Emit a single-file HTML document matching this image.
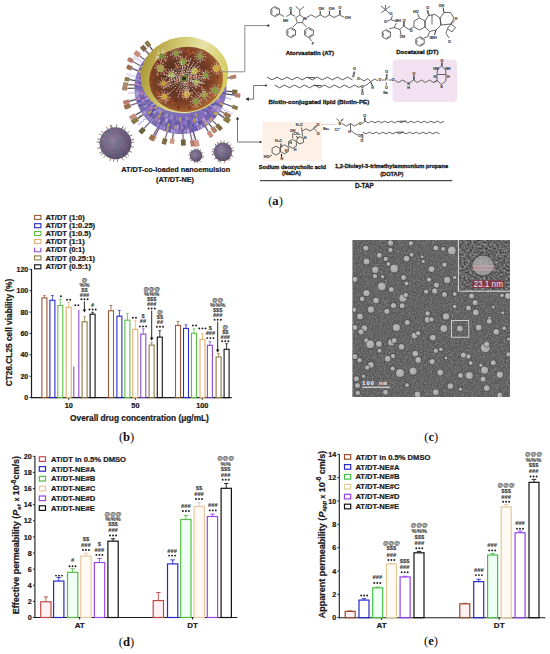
<!DOCTYPE html>
<html><head><meta charset="utf-8"><style>html,body{margin:0;padding:0;background:#fff;width:550px;height:654px;overflow:hidden;font-family:"Liberation Sans",sans-serif}</style></head><body>
<svg width="550" height="654" viewBox="0 0 550 654" style="position:absolute;left:0;top:0">
<rect width="550" height="654" fill="#ffffff"/>
<defs>
<radialGradient id="shellg" cx="0.45" cy="0.55" r="0.6"><stop offset="0" stop-color="#8a7cc0"/><stop offset="0.7" stop-color="#7466b0"/><stop offset="1" stop-color="#9484c8"/></radialGradient>
<radialGradient id="coreg" cx="0.45" cy="0.45" r="0.6"><stop offset="0" stop-color="#3a2c20"/><stop offset="0.35" stop-color="#5a3222"/><stop offset="0.7" stop-color="#7e4226"/><stop offset="1" stop-color="#b87436"/></radialGradient>
<linearGradient id="rimg" x1="0" y1="0.3" x2="1" y2="0.7"><stop offset="0" stop-color="#a89430"/><stop offset="0.35" stop-color="#d2c870"/><stop offset="0.6" stop-color="#e6e2a6"/><stop offset="1" stop-color="#cfc850"/></linearGradient>
<clipPath id="shellclip"><circle cx="180.5" cy="88.0" r="47.0"/></clipPath>
</defs>
<path d="M147.97,117.64 L145.61,117.31 L145.62,119.69 L143.27,119.35 L143.28,121.73 L140.92,121.40 L140.94,123.78 L138.58,123.45 L138.59,125.83" stroke="#a090e0" stroke-width="0.6" fill="none" stroke-linejoin="round" />
<path d="M137.64,78.01 L136.55,75.88 L134.57,77.23 L133.48,75.10 L131.51,76.45 L130.42,74.32 L128.44,75.67 L127.35,73.54 L125.37,74.89" stroke="#b0a0f0" stroke-width="0.6" fill="none" stroke-linejoin="round" />
<path d="M144.75,113.67 L142.35,113.14 L141.99,115.57 L139.59,115.04 L139.23,117.47 L136.83,116.93 L136.47,119.37 L134.07,118.83 L133.71,121.27" stroke="#a090e0" stroke-width="0.6" fill="none" stroke-linejoin="round" />
<path d="M192.90,130.23 L191.60,132.29 L193.76,133.41 L192.46,135.48 L194.63,136.60 L193.33,138.67 L195.50,139.79 L194.19,141.85 L196.36,142.98" stroke="#c0a8e8" stroke-width="0.6" fill="none" stroke-linejoin="round" />
<path d="M160.19,127.04 L157.92,127.43 L158.82,129.55 L156.55,129.94 L157.44,132.06 L155.18,132.45 L156.07,134.57 L153.81,134.96 L154.70,137.08" stroke="#a090e0" stroke-width="0.6" fill="none" stroke-linejoin="round" />
<path d="M137.94,99.18 L136.24,97.74 L135.40,99.79 L133.70,98.35 L132.86,100.41 L131.16,98.96 L130.32,101.02 L128.63,99.57 L127.78,101.63" stroke="#b0a0f0" stroke-width="0.6" fill="none" stroke-linejoin="round" />
<path d="M143.38,64.36 L143.07,61.99 L140.76,62.61 L140.45,60.24 L138.14,60.87 L137.83,58.49 L135.52,59.12 L135.21,56.75 L132.90,57.37" stroke="#b0a0f0" stroke-width="0.6" fill="none" stroke-linejoin="round" />
<path d="M136.81,93.27 L135.58,91.59 L134.71,93.48 L133.48,91.80 L132.61,93.69 L131.39,92.01 L130.52,93.90 L129.29,92.22 L128.42,94.11" stroke="#c0a8e8" stroke-width="0.6" fill="none" stroke-linejoin="round" />
<path d="M223.68,96.50 L224.28,98.47 L225.64,96.93 L226.23,98.90 L227.59,97.35 L228.19,99.33 L229.55,97.78 L230.14,99.75 L231.51,98.21" stroke="#a090e0" stroke-width="0.6" fill="none" stroke-linejoin="round" />
<path d="M217.72,111.48 L217.70,113.62 L219.66,112.76 L219.64,114.90 L221.60,114.04 L221.58,116.18 L223.54,115.32 L223.52,117.46 L225.48,116.59" stroke="#b0a0f0" stroke-width="0.6" fill="none" stroke-linejoin="round" />
<path d="M139.49,72.02 L139.06,69.89 L137.25,71.09 L136.81,68.96 L135.00,70.16 L134.56,68.03 L132.75,69.23 L132.31,67.10 L130.50,68.30" stroke="#b0a0f0" stroke-width="0.6" fill="none" stroke-linejoin="round" />
<path d="M160.98,127.44 L158.69,127.95 L159.59,130.12 L157.29,130.63 L158.19,132.80 L155.90,133.30 L156.80,135.47 L154.51,135.98 L155.41,138.15" stroke="#b0a0f0" stroke-width="0.6" fill="none" stroke-linejoin="round" />
<path d="M220.34,106.71 L221.08,109.08 L223.43,108.24 L224.18,110.62 L226.53,109.77 L227.27,112.15 L229.62,111.30 L230.37,113.68 L232.71,112.83" stroke="#b0a0f0" stroke-width="0.6" fill="none" stroke-linejoin="round" />
<path d="M149.55,56.72 L149.70,54.27 L147.24,54.29 L147.40,51.84 L144.94,51.87 L145.10,49.42 L142.64,49.45 L142.80,47.00 L140.34,47.03" stroke="#9080d8" stroke-width="0.6" fill="none" stroke-linejoin="round" />
<line x1="222.59" y1="79.19" x2="229.83" y2="77.67" stroke="#4a4a6a" stroke-width="1.25" />
<rect x="-3.24" y="-1.92" width="6.48" height="3.84" rx="0.6" fill="#b0806a" transform="translate(233.01,77.00) rotate(-11.8)"/>
<line x1="223.39" y1="91.11" x2="232.08" y2="91.74" stroke="#4a4a6a" stroke-width="1.25" />
<rect x="-2.65" y="-2.29" width="5.29" height="4.58" rx="0.6" fill="#7c6a44" transform="translate(234.72,91.93) rotate(4.1)"/>
<line x1="223.14" y1="93.52" x2="234.94" y2="95.04" stroke="#4a4a6a" stroke-width="1.25" />
<rect x="-2.71" y="-2.10" width="5.41" height="4.20" rx="0.6" fill="#b87a6c" transform="translate(237.63,95.39) rotate(7.4)"/>
<line x1="220.99" y1="102.48" x2="232.20" y2="106.48" stroke="#4a4a6a" stroke-width="1.25" />
<rect x="-2.93" y="-1.96" width="5.87" height="3.93" rx="0.6" fill="#8a7a48" transform="translate(234.96,107.47) rotate(19.7)"/>
<line x1="217.73" y1="109.52" x2="224.43" y2="113.40" stroke="#7a6a80" stroke-width="1.25" />
<rect x="-3.42" y="-1.98" width="6.84" height="3.97" rx="0.6" fill="#9a7050" transform="translate(227.40,115.11) rotate(30.0)"/>
<line x1="215.95" y1="112.34" x2="224.28" y2="118.06" stroke="#4a4a6a" stroke-width="1.25" />
<rect x="-3.19" y="-2.48" width="6.38" height="4.95" rx="0.6" fill="#8a7a48" transform="translate(226.90,119.86) rotate(34.5)"/>
<line x1="210.68" y1="118.63" x2="216.71" y2="124.75" stroke="#7a6a80" stroke-width="1.25" />
<rect x="-3.40" y="-2.18" width="6.80" height="4.36" rx="0.6" fill="#7c6a44" transform="translate(219.09,127.17) rotate(45.4)"/>
<line x1="207.34" y1="121.59" x2="212.06" y2="127.50" stroke="#6a5a50" stroke-width="1.25" />
<rect x="-3.00" y="-2.28" width="6.00" height="4.55" rx="0.6" fill="#b0806a" transform="translate(213.93,129.85) rotate(51.4)"/>
<line x1="203.70" y1="124.21" x2="208.39" y2="131.52" stroke="#4a4a6a" stroke-width="1.25" />
<rect x="-3.28" y="-2.06" width="6.56" height="4.13" rx="0.6" fill="#c88a7c" transform="translate(210.16,134.29) rotate(57.3)"/>
<line x1="192.60" y1="129.26" x2="195.80" y2="140.14" stroke="#5a5060" stroke-width="1.25" />
<rect x="-3.27" y="-2.37" width="6.55" height="4.74" rx="0.6" fill="#d09a88" transform="translate(196.72,143.28) rotate(73.7)"/>
<line x1="189.64" y1="130.02" x2="191.87" y2="140.25" stroke="#7a6a80" stroke-width="1.25" />
<rect x="-3.20" y="-2.12" width="6.41" height="4.24" rx="0.6" fill="#b87a6c" transform="translate(192.55,143.38) rotate(77.7)"/>
<line x1="182.73" y1="130.94" x2="183.16" y2="139.34" stroke="#7a6a80" stroke-width="1.25" />
<rect x="-3.19" y="-2.36" width="6.38" height="4.72" rx="0.6" fill="#6e6440" transform="translate(183.33,142.52) rotate(87.0)"/>
<line x1="173.83" y1="130.48" x2="172.52" y2="138.85" stroke="#6a5a50" stroke-width="1.25" />
<rect x="-2.51" y="-2.25" width="5.02" height="4.50" rx="0.6" fill="#d09a88" transform="translate(172.13,141.33) rotate(98.9)"/>
<line x1="168.17" y1="129.19" x2="165.38" y2="138.52" stroke="#7a6a80" stroke-width="1.25" />
<rect x="-2.96" y="-2.30" width="5.93" height="4.61" rx="0.6" fill="#7c6a44" transform="translate(164.53,141.36) rotate(106.7)"/>
<line x1="160.23" y1="125.92" x2="155.00" y2="135.70" stroke="#7a6a80" stroke-width="1.25" />
<rect x="-2.85" y="-2.06" width="5.69" height="4.13" rx="0.6" fill="#d09a88" transform="translate(153.66,138.20) rotate(118.1)"/>
<line x1="159.04" y1="125.26" x2="153.21" y2="135.39" stroke="#7a6a80" stroke-width="1.25" />
<rect x="-2.67" y="-2.45" width="5.34" height="4.91" rx="0.6" fill="#9a7050" transform="translate(151.87,137.71) rotate(119.9)"/>
<line x1="151.76" y1="119.98" x2="144.18" y2="128.41" stroke="#7a6a80" stroke-width="1.25" />
<rect x="-3.02" y="-2.47" width="6.04" height="4.95" rx="0.6" fill="#6e6440" transform="translate(142.16,130.66) rotate(131.9)"/>
<line x1="145.52" y1="113.01" x2="137.67" y2="118.62" stroke="#6a5a50" stroke-width="1.25" />
<rect x="-3.44" y="-2.40" width="6.87" height="4.80" rx="0.6" fill="#8a7a48" transform="translate(134.87,120.62) rotate(144.4)"/>
<line x1="143.64" y1="110.14" x2="135.59" y2="114.98" stroke="#4a4a6a" stroke-width="1.25" />
<rect x="-3.28" y="-2.00" width="6.56" height="4.01" rx="0.6" fill="#c88a7c" transform="translate(132.78,116.67) rotate(149.0)"/>
<line x1="139.86" y1="102.06" x2="130.51" y2="105.30" stroke="#7a6a80" stroke-width="1.25" />
<rect x="-3.27" y="-2.27" width="6.55" height="4.55" rx="0.6" fill="#9a7050" transform="translate(127.41,106.37) rotate(160.9)"/>
<line x1="138.87" y1="98.77" x2="129.01" y2="101.32" stroke="#6a5a50" stroke-width="1.25" />
<rect x="-2.94" y="-2.00" width="5.88" height="3.99" rx="0.6" fill="#b87a6c" transform="translate(126.16,102.05) rotate(165.5)"/>
<line x1="137.50" y1="88.23" x2="127.25" y2="88.29" stroke="#6a5a50" stroke-width="1.25" />
<rect x="-2.54" y="-2.28" width="5.08" height="4.56" rx="0.6" fill="#a88a6a" transform="translate(124.71,88.30) rotate(179.7)"/>
<line x1="137.59" y1="85.15" x2="128.26" y2="84.53" stroke="#6a5a50" stroke-width="1.25" />
<rect x="-2.63" y="-1.93" width="5.27" height="3.86" rx="0.6" fill="#a88a6a" transform="translate(125.63,84.36) rotate(183.8)"/>
<line x1="138.07" y1="81.03" x2="129.60" y2="79.63" stroke="#4a4a6a" stroke-width="1.25" />
<rect x="-2.54" y="-2.02" width="5.07" height="4.03" rx="0.6" fill="#8a7a48" transform="translate(127.09,79.22) rotate(189.3)"/>
<line x1="140.59" y1="71.98" x2="131.94" y2="68.51" stroke="#5a5060" stroke-width="1.25" />
<rect x="-2.74" y="-2.25" width="5.48" height="4.51" rx="0.6" fill="#9a7050" transform="translate(129.40,67.49) rotate(201.9)"/>
<line x1="142.93" y1="67.08" x2="132.87" y2="61.48" stroke="#7a6a80" stroke-width="1.25" />
<rect x="-2.78" y="-2.14" width="5.56" height="4.29" rx="0.6" fill="#b87a6c" transform="translate(130.44,60.13) rotate(209.1)"/>
<line x1="146.72" y1="61.39" x2="139.61" y2="55.79" stroke="#7a6a80" stroke-width="1.25" />
<rect x="-3.05" y="-2.48" width="6.10" height="4.96" rx="0.6" fill="#c88a7c" transform="translate(137.22,53.90) rotate(218.2)"/>
<line x1="151.24" y1="56.49" x2="145.45" y2="50.26" stroke="#7a6a80" stroke-width="1.25" />
<rect x="-2.79" y="-2.47" width="5.59" height="4.94" rx="0.6" fill="#7c6a44" transform="translate(143.55,48.21) rotate(227.1)"/>
<line x1="154.90" y1="53.45" x2="149.68" y2="46.42" stroke="#4a4a6a" stroke-width="1.25" />
<rect x="-3.06" y="-2.15" width="6.13" height="4.29" rx="0.6" fill="#8a7a48" transform="translate(147.86,43.96) rotate(233.5)"/>
<circle cx="180.50" cy="88.00" r="46.00" fill="url(#shellg)" stroke="none" stroke-width="1" />
<g clip-path="url(#shellclip)">
<line x1="222.35" y1="88.06" x2="226.00" y2="88.07" stroke="#6858a8" stroke-width="1.7" />
<line x1="222.15" y1="90.27" x2="225.93" y2="90.48" stroke="#8a78c0" stroke-width="1.7" />
<line x1="221.85" y1="92.99" x2="225.67" y2="93.45" stroke="#5a50a0" stroke-width="1.7" />
<line x1="221.51" y1="94.82" x2="225.38" y2="95.47" stroke="#a070c0" stroke-width="1.7" />
<line x1="221.48" y1="95.75" x2="225.21" y2="96.46" stroke="#7a7a98" stroke-width="1.7" />
<line x1="221.19" y1="98.60" x2="224.53" y2="99.47" stroke="#8a70b8" stroke-width="1.7" />
<line x1="220.35" y1="101.19" x2="223.69" y2="102.30" stroke="#a070c0" stroke-width="1.7" />
<line x1="219.42" y1="103.27" x2="222.86" y2="104.61" stroke="#c0a848" stroke-width="1.7" />
<line x1="218.75" y1="105.28" x2="221.97" y2="106.73" stroke="#6a6098" stroke-width="1.7" />
<line x1="217.60" y1="106.97" x2="221.01" y2="108.71" stroke="#b0a0d8" stroke-width="1.7" />
<line x1="217.09" y1="108.77" x2="220.07" y2="110.46" stroke="#b0a0d8" stroke-width="1.7" />
<line x1="216.26" y1="110.12" x2="219.19" y2="111.94" stroke="#b0a0d8" stroke-width="1.7" />
<line x1="215.06" y1="112.04" x2="217.85" y2="113.98" stroke="#c0a848" stroke-width="1.7" />
<line x1="213.86" y1="112.82" x2="217.00" y2="115.16" stroke="#c0a848" stroke-width="1.7" />
<line x1="212.98" y1="115.32" x2="215.32" y2="117.28" stroke="#6858a8" stroke-width="1.7" />
<line x1="210.91" y1="117.67" x2="213.07" y2="119.78" stroke="#c880b8" stroke-width="1.7" />
<line x1="209.47" y1="118.63" x2="211.77" y2="121.05" stroke="#c0a848" stroke-width="1.7" />
<line x1="207.60" y1="120.29" x2="209.75" y2="122.86" stroke="#b0a0d8" stroke-width="1.7" />
<line x1="205.44" y1="121.16" x2="207.85" y2="124.36" stroke="#b0a0d8" stroke-width="1.7" />
<line x1="204.57" y1="121.99" x2="206.80" y2="125.13" stroke="#c0a848" stroke-width="1.7" />
<line x1="202.32" y1="123.06" x2="204.54" y2="126.63" stroke="#8a70b8" stroke-width="1.7" />
<line x1="200.68" y1="125.21" x2="202.19" y2="128.00" stroke="#b8a8e0" stroke-width="1.7" />
<line x1="199.61" y1="125.52" x2="201.15" y2="128.55" stroke="#9890c8" stroke-width="1.7" />
<line x1="197.35" y1="126.56" x2="198.72" y2="129.69" stroke="#c880b8" stroke-width="1.7" />
<line x1="195.83" y1="127.11" x2="197.11" y2="130.36" stroke="#5858b0" stroke-width="1.7" />
<line x1="192.59" y1="127.88" x2="193.69" y2="131.54" stroke="#7a68b8" stroke-width="1.7" />
<line x1="191.76" y1="128.18" x2="192.78" y2="131.81" stroke="#5858b0" stroke-width="1.7" />
<line x1="188.13" y1="128.55" x2="188.92" y2="132.72" stroke="#c880b8" stroke-width="1.7" />
<line x1="187.36" y1="129.33" x2="187.94" y2="132.89" stroke="#b8a8e0" stroke-width="1.7" />
<line x1="184.84" y1="129.47" x2="185.23" y2="133.25" stroke="#9890c8" stroke-width="1.7" />
<line x1="181.85" y1="129.57" x2="181.98" y2="133.48" stroke="#6a6098" stroke-width="1.7" />
<line x1="179.81" y1="129.95" x2="179.75" y2="133.49" stroke="#a070c0" stroke-width="1.7" />
<line x1="178.10" y1="129.42" x2="177.86" y2="133.42" stroke="#8a70b8" stroke-width="1.7" />
<line x1="176.65" y1="129.16" x2="176.27" y2="133.30" stroke="#9a88d0" stroke-width="1.7" />
<line x1="174.40" y1="130.05" x2="173.96" y2="133.03" stroke="#b8a8e0" stroke-width="1.7" />
<line x1="172.14" y1="129.26" x2="171.46" y2="132.59" stroke="#b8a8e0" stroke-width="1.7" />
<line x1="170.00" y1="128.73" x2="169.14" y2="132.06" stroke="#6858a8" stroke-width="1.7" />
<line x1="168.04" y1="127.83" x2="166.92" y2="131.43" stroke="#c0a848" stroke-width="1.7" />
<line x1="165.26" y1="126.87" x2="163.89" y2="130.36" stroke="#a070c0" stroke-width="1.7" />
<line x1="164.06" y1="125.96" x2="162.41" y2="129.75" stroke="#9a88d0" stroke-width="1.7" />
<line x1="161.60" y1="125.65" x2="160.08" y2="128.66" stroke="#9a88d0" stroke-width="1.7" />
<line x1="159.90" y1="124.11" x2="157.96" y2="127.52" stroke="#7a68b8" stroke-width="1.7" />
<line x1="158.57" y1="123.70" x2="156.69" y2="126.77" stroke="#9a88d0" stroke-width="1.7" />
<line x1="156.11" y1="121.60" x2="153.77" y2="124.82" stroke="#7a68b8" stroke-width="1.7" />
<line x1="155.10" y1="121.86" x2="153.19" y2="124.40" stroke="#7a7a98" stroke-width="1.7" />
<line x1="153.50" y1="119.08" x2="150.66" y2="122.35" stroke="#9890c8" stroke-width="1.7" />
<line x1="151.71" y1="117.34" x2="148.64" y2="120.48" stroke="#9890c8" stroke-width="1.7" />
<line x1="149.37" y1="116.62" x2="147.00" y2="118.79" stroke="#7a7a98" stroke-width="1.7" />
<line x1="149.45" y1="115.34" x2="146.35" y2="118.07" stroke="#9a88d0" stroke-width="1.7" />
<line x1="146.81" y1="113.81" x2="144.38" y2="115.67" stroke="#9a88d0" stroke-width="1.7" />
<line x1="146.32" y1="111.46" x2="142.99" y2="113.75" stroke="#b0a0d8" stroke-width="1.7" />
<line x1="145.51" y1="110.68" x2="142.32" y2="112.75" stroke="#9890c8" stroke-width="1.7" />
<line x1="144.19" y1="108.35" x2="140.81" y2="110.24" stroke="#7a68b8" stroke-width="1.7" />
<line x1="142.79" y1="106.63" x2="139.70" y2="108.15" stroke="#7a7a98" stroke-width="1.7" />
<line x1="141.91" y1="104.58" x2="138.69" y2="105.96" stroke="#5858b0" stroke-width="1.7" />
<line x1="140.79" y1="102.93" x2="137.91" y2="104.02" stroke="#9890c8" stroke-width="1.7" />
<line x1="140.81" y1="100.81" x2="137.20" y2="101.98" stroke="#5858b0" stroke-width="1.7" />
<line x1="140.59" y1="98.32" x2="136.45" y2="99.39" stroke="#c880b8" stroke-width="1.7" />
<line x1="139.16" y1="96.41" x2="135.91" y2="97.07" stroke="#9a88d0" stroke-width="1.7" />
<line x1="138.83" y1="94.30" x2="135.51" y2="94.80" stroke="#b8a8e0" stroke-width="1.7" />
<line x1="139.61" y1="92.52" x2="135.28" y2="93.00" stroke="#b8a8e0" stroke-width="1.7" />
<line x1="138.60" y1="90.57" x2="135.09" y2="90.79" stroke="#9890c8" stroke-width="1.7" />
<line x1="138.18" y1="88.19" x2="135.00" y2="88.20" stroke="#7a68b8" stroke-width="1.7" />
<line x1="138.19" y1="85.59" x2="135.07" y2="85.41" stroke="#5858b0" stroke-width="1.7" />
<line x1="139.35" y1="84.59" x2="135.16" y2="84.24" stroke="#c880b8" stroke-width="1.7" />
<line x1="138.84" y1="81.46" x2="135.55" y2="80.94" stroke="#8a70b8" stroke-width="1.7" />
<line x1="140.18" y1="79.78" x2="135.92" y2="78.91" stroke="#9a88d0" stroke-width="1.7" />
<line x1="139.53" y1="76.87" x2="136.59" y2="76.07" stroke="#9890c8" stroke-width="1.7" />
<line x1="141.03" y1="75.81" x2="137.02" y2="74.58" stroke="#a070c0" stroke-width="1.7" />
<line x1="141.05" y1="73.06" x2="137.95" y2="71.89" stroke="#9a88d0" stroke-width="1.7" />
<line x1="142.35" y1="72.38" x2="138.39" y2="70.76" stroke="#c0a848" stroke-width="1.7" />
<line x1="142.76" y1="68.88" x2="139.91" y2="67.44" stroke="#7a7a98" stroke-width="1.7" />
<line x1="144.26" y1="68.12" x2="140.61" y2="66.12" stroke="#b0a0d8" stroke-width="1.7" />
<line x1="145.02" y1="66.21" x2="141.73" y2="64.19" stroke="#5a50a0" stroke-width="1.7" />
<line x1="146.34" y1="63.62" x2="143.47" y2="61.57" stroke="#9890c8" stroke-width="1.7" />
<line x1="147.95" y1="62.11" x2="144.89" y2="59.68" stroke="#b8a8e0" stroke-width="1.7" />
<line x1="149.42" y1="61.03" x2="146.13" y2="58.18" stroke="#5a50a0" stroke-width="1.7" />
<line x1="150.32" y1="59.27" x2="147.54" y2="56.63" stroke="#7a7a98" stroke-width="1.7" />
<line x1="151.05" y1="57.71" x2="148.78" y2="55.38" stroke="#9a88d0" stroke-width="1.7" />
<line x1="152.33" y1="56.24" x2="150.31" y2="53.96" stroke="#8a78c0" stroke-width="1.7" />
<line x1="154.50" y1="55.25" x2="152.21" y2="52.36" stroke="#8a70b8" stroke-width="1.7" />
<line x1="156.80" y1="54.01" x2="154.48" y2="50.68" stroke="#7a68b8" stroke-width="1.7" />
<line x1="158.14" y1="52.35" x2="156.32" y2="49.46" stroke="#8a70b8" stroke-width="1.7" />
<line x1="160.34" y1="51.27" x2="158.61" y2="48.11" stroke="#c0a848" stroke-width="1.7" />
<line x1="161.84" y1="50.11" x2="160.40" y2="47.18" stroke="#5858b0" stroke-width="1.7" />
<line x1="163.42" y1="49.66" x2="161.99" y2="46.44" stroke="#a070c0" stroke-width="1.7" />
<line x1="166.55" y1="48.55" x2="165.33" y2="45.10" stroke="#c880b8" stroke-width="1.7" />
<line x1="167.50" y1="47.95" x2="166.45" y2="44.72" stroke="#6858a8" stroke-width="1.7" />
<line x1="170.49" y1="47.67" x2="169.54" y2="43.84" stroke="#7a68b8" stroke-width="1.7" />
<line x1="171.92" y1="46.42" x2="171.31" y2="43.44" stroke="#8a70b8" stroke-width="1.7" />
<line x1="174.55" y1="46.37" x2="174.06" y2="42.96" stroke="#7a68b8" stroke-width="1.7" />
<line x1="176.61" y1="46.63" x2="176.24" y2="42.70" stroke="#c0a848" stroke-width="1.7" />
<line x1="178.95" y1="45.75" x2="178.83" y2="42.53" stroke="#b8a8e0" stroke-width="1.7" />
<line x1="180.78" y1="45.91" x2="180.81" y2="42.50" stroke="#5858b0" stroke-width="1.7" />
<line x1="182.15" y1="46.92" x2="182.33" y2="42.54" stroke="#7a68b8" stroke-width="1.7" />
<line x1="184.29" y1="45.70" x2="184.56" y2="42.68" stroke="#8a78c0" stroke-width="1.7" />
<line x1="187.06" y1="46.89" x2="187.67" y2="43.07" stroke="#8a70b8" stroke-width="1.7" />
<line x1="189.73" y1="47.04" x2="190.50" y2="43.61" stroke="#b0a0d8" stroke-width="1.7" />
<line x1="190.51" y1="47.22" x2="191.35" y2="43.81" stroke="#9a88d0" stroke-width="1.7" />
<line x1="193.29" y1="48.53" x2="194.52" y2="44.72" stroke="#6858a8" stroke-width="1.7" />
<line x1="195.61" y1="48.54" x2="196.77" y2="45.51" stroke="#8a78c0" stroke-width="1.7" />
<line x1="197.57" y1="50.07" x2="199.18" y2="46.51" stroke="#a070c0" stroke-width="1.7" />
<line x1="199.39" y1="50.35" x2="200.91" y2="47.33" stroke="#c0a848" stroke-width="1.7" />
<line x1="199.96" y1="51.45" x2="201.88" y2="47.84" stroke="#a070c0" stroke-width="1.7" />
<line x1="202.48" y1="51.68" x2="204.06" y2="49.07" stroke="#6a6098" stroke-width="1.7" />
<line x1="205.03" y1="54.19" x2="207.22" y2="51.17" stroke="#5a50a0" stroke-width="1.7" />
<line x1="206.47" y1="55.64" x2="208.98" y2="52.51" stroke="#8a78c0" stroke-width="1.7" />
<line x1="208.24" y1="56.71" x2="210.68" y2="53.95" stroke="#8a70b8" stroke-width="1.7" />
<line x1="209.09" y1="57.86" x2="211.81" y2="54.99" stroke="#5858b0" stroke-width="1.7" />
<line x1="210.38" y1="58.56" x2="212.91" y2="56.06" stroke="#7a68b8" stroke-width="1.7" />
<line x1="211.37" y1="60.51" x2="214.48" y2="57.74" stroke="#c0a848" stroke-width="1.7" />
<line x1="213.85" y1="61.77" x2="216.26" y2="59.87" stroke="#7a68b8" stroke-width="1.7" />
<line x1="215.59" y1="64.50" x2="218.31" y2="62.68" stroke="#9890c8" stroke-width="1.7" />
<line x1="216.10" y1="65.83" x2="219.12" y2="63.95" stroke="#c880b8" stroke-width="1.7" />
<line x1="216.31" y1="67.62" x2="220.05" y2="65.50" stroke="#b8a8e0" stroke-width="1.7" />
<line x1="217.68" y1="69.03" x2="221.03" y2="67.32" stroke="#8a70b8" stroke-width="1.7" />
<line x1="219.23" y1="70.76" x2="222.07" y2="69.49" stroke="#9890c8" stroke-width="1.7" />
<line x1="220.16" y1="72.79" x2="222.98" y2="71.71" stroke="#c880b8" stroke-width="1.7" />
<line x1="220.41" y1="75.23" x2="223.84" y2="74.13" stroke="#b8a8e0" stroke-width="1.7" />
<line x1="220.74" y1="77.37" x2="224.49" y2="76.38" stroke="#9890c8" stroke-width="1.7" />
<line x1="220.92" y1="78.87" x2="224.88" y2="77.97" stroke="#9890c8" stroke-width="1.7" />
<line x1="221.35" y1="81.66" x2="225.46" y2="81.02" stroke="#8a78c0" stroke-width="1.7" />
<line x1="222.60" y1="83.81" x2="225.78" y2="83.50" stroke="#c0a848" stroke-width="1.7" />
<line x1="221.83" y1="85.22" x2="225.90" y2="84.95" stroke="#6a6098" stroke-width="1.7" />
<line x1="216.96" y1="99.12" x2="220.00" y2="100.05" stroke="#c880b8" stroke-width="1.7" />
<line x1="216.29" y1="100.64" x2="219.44" y2="101.75" stroke="#9a88d0" stroke-width="1.7" />
<line x1="214.17" y1="103.20" x2="218.14" y2="105.00" stroke="#5858b0" stroke-width="1.7" />
<line x1="214.77" y1="104.90" x2="217.54" y2="106.27" stroke="#9890c8" stroke-width="1.7" />
<line x1="212.99" y1="106.36" x2="216.46" y2="108.32" stroke="#b8a8e0" stroke-width="1.7" />
<line x1="212.26" y1="108.45" x2="215.23" y2="110.35" stroke="#9a88d0" stroke-width="1.7" />
<line x1="210.81" y1="109.61" x2="214.13" y2="111.98" stroke="#a070c0" stroke-width="1.7" />
<line x1="209.13" y1="112.25" x2="212.01" y2="114.69" stroke="#8a70b8" stroke-width="1.7" />
<line x1="207.81" y1="112.94" x2="210.99" y2="115.86" stroke="#6858a8" stroke-width="1.7" />
<line x1="206.54" y1="115.24" x2="209.04" y2="117.85" stroke="#6a6098" stroke-width="1.7" />
<line x1="204.53" y1="116.40" x2="207.18" y2="119.53" stroke="#7a68b8" stroke-width="1.7" />
<line x1="202.92" y1="117.83" x2="205.32" y2="121.01" stroke="#b0a0d8" stroke-width="1.7" />
<line x1="201.90" y1="118.40" x2="204.27" y2="121.77" stroke="#c880b8" stroke-width="1.7" />
<line x1="200.68" y1="120.45" x2="202.31" y2="123.07" stroke="#6858a8" stroke-width="1.7" />
<line x1="198.52" y1="121.00" x2="200.30" y2="124.25" stroke="#5a50a0" stroke-width="1.7" />
<line x1="196.70" y1="122.61" x2="198.01" y2="125.40" stroke="#b8a8e0" stroke-width="1.7" />
<line x1="194.11" y1="123.76" x2="195.19" y2="126.60" stroke="#9a88d0" stroke-width="1.7" />
<line x1="193.03" y1="124.00" x2="194.08" y2="127.00" stroke="#5a50a0" stroke-width="1.7" />
<line x1="190.38" y1="124.63" x2="191.26" y2="127.87" stroke="#7a7a98" stroke-width="1.7" />
<line x1="188.85" y1="124.62" x2="189.68" y2="128.27" stroke="#6858a8" stroke-width="1.7" />
<line x1="186.32" y1="125.39" x2="186.85" y2="128.81" stroke="#7a68b8" stroke-width="1.7" />
<line x1="184.47" y1="125.22" x2="184.88" y2="129.07" stroke="#6858a8" stroke-width="1.7" />
<line x1="181.55" y1="126.15" x2="181.64" y2="129.28" stroke="#c880b8" stroke-width="1.7" />
<line x1="179.61" y1="125.41" x2="179.52" y2="129.29" stroke="#6858a8" stroke-width="1.7" />
<line x1="177.79" y1="124.89" x2="177.47" y2="129.19" stroke="#b8a8e0" stroke-width="1.7" />
<line x1="175.64" y1="125.52" x2="175.19" y2="128.96" stroke="#c0a848" stroke-width="1.7" />
<line x1="172.86" y1="124.87" x2="172.12" y2="128.44" stroke="#a070c0" stroke-width="1.7" />
<line x1="171.76" y1="125.22" x2="171.05" y2="128.21" stroke="#5858b0" stroke-width="1.7" />
<line x1="168.78" y1="123.68" x2="167.61" y2="127.24" stroke="#c0a848" stroke-width="1.7" />
<line x1="167.06" y1="123.71" x2="165.95" y2="126.65" stroke="#6a6098" stroke-width="1.7" />
<line x1="165.06" y1="122.00" x2="163.43" y2="125.61" stroke="#8a78c0" stroke-width="1.7" />
<line x1="162.58" y1="121.80" x2="161.16" y2="124.49" stroke="#7a7a98" stroke-width="1.7" />
<line x1="162.16" y1="120.49" x2="160.20" y2="123.97" stroke="#5a50a0" stroke-width="1.7" />
<line x1="159.80" y1="119.86" x2="158.00" y2="122.63" stroke="#b0a0d8" stroke-width="1.7" />
<line x1="157.59" y1="118.16" x2="155.52" y2="120.89" stroke="#c880b8" stroke-width="1.7" />
<line x1="156.88" y1="116.80" x2="154.31" y2="119.93" stroke="#8a78c0" stroke-width="1.7" />
<line x1="155.34" y1="115.36" x2="152.55" y2="118.40" stroke="#6a6098" stroke-width="1.7" />
<line x1="153.25" y1="113.21" x2="150.19" y2="116.05" stroke="#6a6098" stroke-width="1.7" />
<line x1="152.41" y1="113.00" x2="149.65" y2="115.46" stroke="#5a50a0" stroke-width="1.7" />
<line x1="151.35" y1="111.00" x2="148.08" y2="113.58" stroke="#c0a848" stroke-width="1.7" />
<line x1="149.05" y1="109.63" x2="146.47" y2="111.40" stroke="#a070c0" stroke-width="1.7" />
<line x1="148.85" y1="107.73" x2="145.45" y2="109.85" stroke="#8a70b8" stroke-width="1.7" />
<line x1="147.32" y1="104.79" x2="143.65" y2="106.65" stroke="#b8a8e0" stroke-width="1.7" />
<line x1="146.65" y1="103.78" x2="143.07" y2="105.45" stroke="#6a6098" stroke-width="1.7" />
<line x1="144.94" y1="101.87" x2="142.02" y2="103.01" stroke="#8a78c0" stroke-width="1.7" />
<line x1="144.18" y1="100.12" x2="141.32" y2="101.07" stroke="#c880b8" stroke-width="1.7" />
<line x1="144.30" y1="97.51" x2="140.55" y2="98.49" stroke="#6a6098" stroke-width="1.7" />
<line x1="143.47" y1="95.87" x2="140.10" y2="96.58" stroke="#7a68b8" stroke-width="1.7" />
<line x1="143.31" y1="93.41" x2="139.63" y2="93.94" stroke="#c880b8" stroke-width="1.7" />
<line x1="143.35" y1="91.49" x2="139.38" y2="91.86" stroke="#a070c0" stroke-width="1.7" />
<line x1="143.33" y1="89.44" x2="139.23" y2="89.59" stroke="#7a7a98" stroke-width="1.7" />
<line x1="143.19" y1="86.64" x2="139.23" y2="86.49" stroke="#5858b0" stroke-width="1.7" />
<line x1="142.47" y1="85.79" x2="139.27" y2="85.60" stroke="#a070c0" stroke-width="1.7" />
<line x1="143.33" y1="83.28" x2="139.53" y2="82.80" stroke="#5858b0" stroke-width="1.7" />
<line x1="143.24" y1="80.50" x2="140.01" y2="79.85" stroke="#b0a0d8" stroke-width="1.7" />
<line x1="143.30" y1="79.41" x2="140.26" y2="78.70" stroke="#5a50a0" stroke-width="1.7" />
<line x1="145.11" y1="76.88" x2="141.10" y2="75.62" stroke="#9890c8" stroke-width="1.7" />
<line x1="145.83" y1="75.24" x2="141.74" y2="73.74" stroke="#7a68b8" stroke-width="1.7" />
<line x1="146.19" y1="73.37" x2="142.51" y2="71.80" stroke="#9a88d0" stroke-width="1.7" />
<line x1="146.12" y1="71.40" x2="143.31" y2="70.04" stroke="#b0a0d8" stroke-width="1.7" />
<line x1="148.48" y1="68.79" x2="145.08" y2="66.76" stroke="#6a6098" stroke-width="1.7" />
<line x1="149.54" y1="66.92" x2="146.36" y2="64.76" stroke="#c880b8" stroke-width="1.7" />
<line x1="150.03" y1="66.02" x2="147.01" y2="63.84" stroke="#8a70b8" stroke-width="1.7" />
<line x1="151.03" y1="64.29" x2="148.32" y2="62.11" stroke="#b8a8e0" stroke-width="1.7" />
<line x1="152.89" y1="62.25" x2="150.30" y2="59.83" stroke="#7a68b8" stroke-width="1.7" />
<line x1="154.50" y1="60.60" x2="152.08" y2="58.04" stroke="#b8a8e0" stroke-width="1.7" />
<line x1="156.53" y1="59.76" x2="153.78" y2="56.51" stroke="#8a70b8" stroke-width="1.7" />
<line x1="157.70" y1="57.79" x2="155.62" y2="55.04" stroke="#5a50a0" stroke-width="1.7" />
<line x1="159.01" y1="57.47" x2="156.73" y2="54.23" stroke="#c880b8" stroke-width="1.7" />
<line x1="161.71" y1="56.22" x2="159.48" y2="52.45" stroke="#8a78c0" stroke-width="1.7" />
<line x1="163.29" y1="54.12" x2="161.80" y2="51.18" stroke="#b0a0d8" stroke-width="1.7" />
<line x1="165.43" y1="54.01" x2="163.76" y2="50.25" stroke="#9a88d0" stroke-width="1.7" />
<line x1="167.19" y1="52.34" x2="166.06" y2="49.31" stroke="#5858b0" stroke-width="1.7" />
<line x1="168.51" y1="51.90" x2="167.49" y2="48.80" stroke="#5858b0" stroke-width="1.7" />
<line x1="170.19" y1="51.94" x2="169.15" y2="48.29" stroke="#6a6098" stroke-width="1.7" />
<line x1="173.07" y1="51.21" x2="172.32" y2="47.52" stroke="#a070c0" stroke-width="1.7" />
<line x1="174.79" y1="50.73" x2="174.24" y2="47.18" stroke="#c880b8" stroke-width="1.7" />
<line x1="177.13" y1="50.19" x2="176.84" y2="46.86" stroke="#a070c0" stroke-width="1.7" />
<line x1="178.80" y1="50.59" x2="178.63" y2="46.74" stroke="#5a50a0" stroke-width="1.7" />
<line x1="180.77" y1="49.74" x2="180.79" y2="46.70" stroke="#9a88d0" stroke-width="1.7" />
<line x1="183.03" y1="50.56" x2="183.28" y2="46.79" stroke="#7a7a98" stroke-width="1.7" />
<line x1="185.02" y1="50.24" x2="185.41" y2="46.99" stroke="#7a7a98" stroke-width="1.7" />
<line x1="186.86" y1="51.35" x2="187.56" y2="47.31" stroke="#5a50a0" stroke-width="1.7" />
<line x1="190.07" y1="51.00" x2="190.84" y2="48.02" stroke="#c0a848" stroke-width="1.7" />
<line x1="191.08" y1="51.95" x2="192.13" y2="48.37" stroke="#9a88d0" stroke-width="1.7" />
<line x1="193.18" y1="53.13" x2="194.62" y2="49.19" stroke="#5858b0" stroke-width="1.7" />
<line x1="195.18" y1="54.00" x2="196.87" y2="50.08" stroke="#8a70b8" stroke-width="1.7" />
<line x1="197.52" y1="55.01" x2="199.43" y2="51.29" stroke="#c0a848" stroke-width="1.7" />
<line x1="200.12" y1="55.11" x2="201.66" y2="52.53" stroke="#5858b0" stroke-width="1.7" />
<line x1="200.99" y1="55.80" x2="202.67" y2="53.16" stroke="#6858a8" stroke-width="1.7" />
<line x1="202.48" y1="57.94" x2="204.88" y2="54.66" stroke="#7a7a98" stroke-width="1.7" />
<line x1="204.60" y1="59.57" x2="207.20" y2="56.49" stroke="#6a6098" stroke-width="1.7" />
<line x1="206.70" y1="60.41" x2="208.94" y2="58.05" stroke="#8a70b8" stroke-width="1.7" />
<line x1="207.57" y1="62.84" x2="210.75" y2="59.88" stroke="#5858b0" stroke-width="1.7" />
<line x1="208.98" y1="64.25" x2="212.22" y2="61.55" stroke="#5a50a0" stroke-width="1.7" />
<line x1="210.46" y1="64.28" x2="212.88" y2="62.37" stroke="#8a78c0" stroke-width="1.7" />
<line x1="211.81" y1="66.37" x2="214.48" y2="64.52" stroke="#8a70b8" stroke-width="1.7" />
<line x1="212.57" y1="69.03" x2="216.04" y2="66.97" stroke="#9a88d0" stroke-width="1.7" />
<line x1="213.03" y1="70.41" x2="216.83" y2="68.36" stroke="#c0a848" stroke-width="1.7" />
<line x1="215.10" y1="71.95" x2="217.97" y2="70.62" stroke="#7a7a98" stroke-width="1.7" />
<line x1="216.24" y1="74.76" x2="219.23" y2="73.66" stroke="#7a68b8" stroke-width="1.7" />
<line x1="215.61" y1="76.47" x2="219.74" y2="75.12" stroke="#9890c8" stroke-width="1.7" />
<line x1="216.31" y1="77.78" x2="220.21" y2="76.66" stroke="#9890c8" stroke-width="1.7" />
<line x1="218.04" y1="80.53" x2="221.01" y2="79.94" stroke="#b8a8e0" stroke-width="1.7" />
<line x1="217.88" y1="82.36" x2="221.34" y2="81.84" stroke="#9890c8" stroke-width="1.7" />
<line x1="218.11" y1="84.04" x2="221.57" y2="83.68" stroke="#6858a8" stroke-width="1.7" />
<line x1="218.06" y1="86.31" x2="221.76" y2="86.14" stroke="#9890c8" stroke-width="1.7" />
<line x1="218.66" y1="89.15" x2="221.78" y2="89.24" stroke="#9a88d0" stroke-width="1.7" />
<line x1="218.24" y1="90.55" x2="221.71" y2="90.78" stroke="#6a6098" stroke-width="1.7" />
<line x1="217.95" y1="92.30" x2="221.53" y2="92.71" stroke="#8a78c0" stroke-width="1.7" />
<line x1="217.82" y1="94.97" x2="221.10" y2="95.58" stroke="#5858b0" stroke-width="1.7" />
<line x1="217.39" y1="97.52" x2="220.49" y2="98.33" stroke="#9a88d0" stroke-width="1.7" />
<line x1="208.10" y1="106.97" x2="211.08" y2="109.01" stroke="#6858a8" stroke-width="1.7" />
<line x1="206.93" y1="108.68" x2="209.72" y2="110.86" stroke="#8a70b8" stroke-width="1.7" />
<line x1="205.79" y1="109.92" x2="208.53" y2="112.30" stroke="#6858a8" stroke-width="1.7" />
<line x1="204.28" y1="112.43" x2="206.37" y2="114.59" stroke="#b8a8e0" stroke-width="1.7" />
<line x1="202.64" y1="112.43" x2="205.42" y2="115.49" stroke="#7a68b8" stroke-width="1.7" />
<line x1="201.27" y1="114.23" x2="203.53" y2="117.09" stroke="#a070c0" stroke-width="1.7" />
<line x1="199.21" y1="116.38" x2="200.92" y2="118.98" stroke="#8a78c0" stroke-width="1.7" />
<line x1="197.67" y1="116.15" x2="199.81" y2="119.68" stroke="#7a68b8" stroke-width="1.7" />
<line x1="196.02" y1="118.23" x2="197.44" y2="121.01" stroke="#b0a0d8" stroke-width="1.7" />
<line x1="193.53" y1="118.24" x2="195.19" y2="122.07" stroke="#c0a848" stroke-width="1.7" />
<line x1="192.12" y1="119.98" x2="193.17" y2="122.87" stroke="#a070c0" stroke-width="1.7" />
<line x1="189.59" y1="120.14" x2="190.60" y2="123.70" stroke="#6a6098" stroke-width="1.7" />
<line x1="187.68" y1="120.04" x2="188.62" y2="124.20" stroke="#5858b0" stroke-width="1.7" />
<line x1="185.71" y1="120.87" x2="186.31" y2="124.64" stroke="#8a78c0" stroke-width="1.7" />
<line x1="184.42" y1="120.79" x2="184.90" y2="124.84" stroke="#a070c0" stroke-width="1.7" />
<line x1="181.33" y1="120.94" x2="181.43" y2="125.09" stroke="#a070c0" stroke-width="1.7" />
<line x1="179.12" y1="121.54" x2="178.97" y2="125.07" stroke="#6a6098" stroke-width="1.7" />
<line x1="177.32" y1="120.70" x2="176.91" y2="124.93" stroke="#6858a8" stroke-width="1.7" />
<line x1="175.74" y1="121.50" x2="175.28" y2="124.73" stroke="#6a6098" stroke-width="1.7" />
<line x1="173.04" y1="119.85" x2="172.04" y2="124.12" stroke="#8a78c0" stroke-width="1.7" />
<line x1="171.50" y1="120.62" x2="170.63" y2="123.76" stroke="#6858a8" stroke-width="1.7" />
<line x1="169.44" y1="119.83" x2="168.32" y2="123.04" stroke="#5858b0" stroke-width="1.7" />
<line x1="167.54" y1="118.38" x2="165.94" y2="122.13" stroke="#b8a8e0" stroke-width="1.7" />
<line x1="165.46" y1="118.49" x2="164.08" y2="121.27" stroke="#a070c0" stroke-width="1.7" />
<line x1="164.32" y1="117.36" x2="162.59" y2="120.49" stroke="#6858a8" stroke-width="1.7" />
<line x1="162.05" y1="116.64" x2="160.41" y2="119.19" stroke="#6a6098" stroke-width="1.7" />
<line x1="160.23" y1="114.87" x2="158.15" y2="117.62" stroke="#c0a848" stroke-width="1.7" />
<line x1="158.89" y1="113.95" x2="156.76" y2="116.51" stroke="#8a70b8" stroke-width="1.7" />
<line x1="157.47" y1="111.96" x2="154.79" y2="114.75" stroke="#7a68b8" stroke-width="1.7" />
<line x1="155.99" y1="110.84" x2="153.36" y2="113.29" stroke="#b0a0d8" stroke-width="1.7" />
<line x1="154.91" y1="109.12" x2="151.89" y2="111.62" stroke="#5a50a0" stroke-width="1.7" />
<line x1="152.57" y1="107.19" x2="149.92" y2="109.01" stroke="#c880b8" stroke-width="1.7" />
<line x1="152.24" y1="104.75" x2="148.58" y2="106.92" stroke="#c880b8" stroke-width="1.7" />
<line x1="150.79" y1="104.42" x2="148.03" y2="105.95" stroke="#5858b0" stroke-width="1.7" />
<line x1="149.90" y1="102.05" x2="146.78" y2="103.48" stroke="#8a70b8" stroke-width="1.7" />
<line x1="149.41" y1="99.89" x2="145.85" y2="101.25" stroke="#6a6098" stroke-width="1.7" />
<line x1="148.81" y1="98.24" x2="145.20" y2="99.40" stroke="#b0a0d8" stroke-width="1.7" />
<line x1="147.56" y1="96.73" x2="144.64" y2="97.51" stroke="#a070c0" stroke-width="1.7" />
<line x1="147.69" y1="94.39" x2="144.08" y2="95.09" stroke="#9890c8" stroke-width="1.7" />
<line x1="146.72" y1="92.53" x2="143.73" y2="92.93" stroke="#8a78c0" stroke-width="1.7" />
<line x1="147.16" y1="89.88" x2="143.46" y2="90.09" stroke="#7a7a98" stroke-width="1.7" />
<line x1="146.83" y1="88.05" x2="143.40" y2="88.06" stroke="#b8a8e0" stroke-width="1.7" />
<line x1="146.54" y1="85.58" x2="143.49" y2="85.36" stroke="#a070c0" stroke-width="1.7" />
<line x1="147.85" y1="83.11" x2="143.81" y2="82.50" stroke="#c880b8" stroke-width="1.7" />
<line x1="147.62" y1="81.76" x2="144.05" y2="81.08" stroke="#5858b0" stroke-width="1.7" />
<line x1="148.63" y1="80.11" x2="144.49" y2="79.08" stroke="#7a7a98" stroke-width="1.7" />
<line x1="149.09" y1="77.55" x2="145.30" y2="76.29" stroke="#8a70b8" stroke-width="1.7" />
<line x1="149.42" y1="75.37" x2="146.13" y2="74.03" stroke="#a070c0" stroke-width="1.7" />
<line x1="149.81" y1="73.68" x2="146.88" y2="72.31" stroke="#8a70b8" stroke-width="1.7" />
<line x1="151.59" y1="71.68" x2="148.19" y2="69.76" stroke="#7a68b8" stroke-width="1.7" />
<line x1="152.57" y1="69.76" x2="149.43" y2="67.72" stroke="#a070c0" stroke-width="1.7" />
<line x1="153.24" y1="68.74" x2="150.20" y2="66.59" stroke="#6a6098" stroke-width="1.7" />
<line x1="155.21" y1="66.90" x2="152.01" y2="64.23" stroke="#6858a8" stroke-width="1.7" />
<line x1="155.70" y1="64.72" x2="153.45" y2="62.61" stroke="#7a68b8" stroke-width="1.7" />
<line x1="157.44" y1="63.27" x2="155.20" y2="60.87" stroke="#c0a848" stroke-width="1.7" />
<line x1="158.97" y1="62.91" x2="156.34" y2="59.84" stroke="#9a88d0" stroke-width="1.7" />
<line x1="160.39" y1="60.71" x2="158.49" y2="58.13" stroke="#5a50a0" stroke-width="1.7" />
<line x1="162.14" y1="59.72" x2="160.30" y2="56.88" stroke="#b8a8e0" stroke-width="1.7" />
<line x1="163.69" y1="58.53" x2="162.12" y2="55.78" stroke="#b0a0d8" stroke-width="1.7" />
<line x1="166.68" y1="57.78" x2="165.07" y2="54.26" stroke="#a070c0" stroke-width="1.7" />
<line x1="167.86" y1="57.52" x2="166.29" y2="53.73" stroke="#9890c8" stroke-width="1.7" />
<line x1="169.94" y1="56.87" x2="168.58" y2="52.87" stroke="#c0a848" stroke-width="1.7" />
<line x1="172.71" y1="56.01" x2="171.73" y2="51.95" stroke="#7a7a98" stroke-width="1.7" />
<line x1="173.48" y1="54.70" x2="172.85" y2="51.70" stroke="#9890c8" stroke-width="1.7" />
<line x1="175.87" y1="54.39" x2="175.44" y2="51.25" stroke="#c0a848" stroke-width="1.7" />
<line x1="177.64" y1="55.18" x2="177.28" y2="51.04" stroke="#c0a848" stroke-width="1.7" />
<line x1="180.51" y1="54.81" x2="180.52" y2="50.90" stroke="#7a68b8" stroke-width="1.7" />
<line x1="182.51" y1="54.12" x2="182.70" y2="50.97" stroke="#9890c8" stroke-width="1.7" />
<line x1="184.48" y1="54.76" x2="184.91" y2="51.16" stroke="#7a7a98" stroke-width="1.7" />
<line x1="186.01" y1="55.70" x2="186.74" y2="51.43" stroke="#9a88d0" stroke-width="1.7" />
<line x1="188.70" y1="55.94" x2="189.70" y2="52.06" stroke="#7a7a98" stroke-width="1.7" />
<line x1="190.17" y1="55.40" x2="191.05" y2="52.43" stroke="#c0a848" stroke-width="1.7" />
<line x1="192.22" y1="56.76" x2="193.53" y2="53.26" stroke="#c880b8" stroke-width="1.7" />
<line x1="194.91" y1="57.20" x2="196.23" y2="54.40" stroke="#5858b0" stroke-width="1.7" />
<line x1="196.62" y1="58.38" x2="198.23" y2="55.41" stroke="#a070c0" stroke-width="1.7" />
<line x1="198.52" y1="59.48" x2="200.32" y2="56.64" stroke="#b0a0d8" stroke-width="1.7" />
<line x1="199.26" y1="61.01" x2="201.68" y2="57.54" stroke="#5a50a0" stroke-width="1.7" />
<line x1="201.11" y1="62.43" x2="203.78" y2="59.11" stroke="#c0a848" stroke-width="1.7" />
<line x1="202.76" y1="63.39" x2="205.38" y2="60.48" stroke="#b0a0d8" stroke-width="1.7" />
<line x1="204.23" y1="64.71" x2="206.98" y2="62.01" stroke="#c0a848" stroke-width="1.7" />
<line x1="205.70" y1="65.77" x2="208.32" y2="63.46" stroke="#9a88d0" stroke-width="1.7" />
<line x1="207.39" y1="68.04" x2="210.29" y2="65.89" stroke="#c880b8" stroke-width="1.7" />
<line x1="208.89" y1="69.56" x2="211.61" y2="67.79" stroke="#6858a8" stroke-width="1.7" />
<line x1="210.17" y1="71.67" x2="213.00" y2="70.11" stroke="#c880b8" stroke-width="1.7" />
<line x1="210.34" y1="73.23" x2="213.75" y2="71.54" stroke="#8a70b8" stroke-width="1.7" />
<line x1="211.15" y1="74.51" x2="214.46" y2="73.05" stroke="#7a7a98" stroke-width="1.7" />
<line x1="212.01" y1="77.09" x2="215.56" y2="75.86" stroke="#8a70b8" stroke-width="1.7" />
<line x1="212.93" y1="78.60" x2="216.13" y2="77.67" stroke="#6858a8" stroke-width="1.7" />
<line x1="212.76" y1="81.06" x2="216.77" y2="80.20" stroke="#6a6098" stroke-width="1.7" />
<line x1="213.34" y1="82.90" x2="217.16" y2="82.31" stroke="#8a78c0" stroke-width="1.7" />
<line x1="213.95" y1="84.85" x2="217.44" y2="84.52" stroke="#8a70b8" stroke-width="1.7" />
<line x1="213.91" y1="87.28" x2="217.59" y2="87.20" stroke="#9890c8" stroke-width="1.7" />
<line x1="213.23" y1="89.50" x2="217.56" y2="89.70" stroke="#9a88d0" stroke-width="1.7" />
<line x1="214.24" y1="91.72" x2="217.38" y2="92.07" stroke="#9a88d0" stroke-width="1.7" />
<line x1="213.35" y1="92.92" x2="217.19" y2="93.49" stroke="#6a6098" stroke-width="1.7" />
<line x1="213.40" y1="95.95" x2="216.56" y2="96.71" stroke="#b8a8e0" stroke-width="1.7" />
<line x1="212.48" y1="98.17" x2="215.86" y2="99.24" stroke="#5858b0" stroke-width="1.7" />
<line x1="211.59" y1="99.16" x2="215.42" y2="100.53" stroke="#9a88d0" stroke-width="1.7" />
<line x1="211.35" y1="101.40" x2="214.53" y2="102.78" stroke="#9a88d0" stroke-width="1.7" />
<line x1="210.57" y1="103.20" x2="213.61" y2="104.74" stroke="#5a50a0" stroke-width="1.7" />
<line x1="208.80" y1="104.74" x2="212.43" y2="106.89" stroke="#9a88d0" stroke-width="1.7" />
<line x1="199.43" y1="111.02" x2="201.40" y2="113.41" stroke="#7a68b8" stroke-width="1.7" />
<line x1="196.34" y1="112.05" x2="198.60" y2="115.48" stroke="#8a70b8" stroke-width="1.7" />
<line x1="194.85" y1="113.58" x2="196.60" y2="116.69" stroke="#c0a848" stroke-width="1.7" />
<line x1="193.70" y1="114.48" x2="195.18" y2="117.45" stroke="#7a68b8" stroke-width="1.7" />
<line x1="191.06" y1="115.16" x2="192.42" y2="118.66" stroke="#5858b0" stroke-width="1.7" />
<line x1="190.05" y1="115.58" x2="191.27" y2="119.09" stroke="#8a70b8" stroke-width="1.7" />
<line x1="187.95" y1="116.85" x2="188.73" y2="119.85" stroke="#a070c0" stroke-width="1.7" />
<line x1="186.01" y1="116.29" x2="186.79" y2="120.29" stroke="#9a88d0" stroke-width="1.7" />
<line x1="183.51" y1="117.61" x2="183.83" y2="120.73" stroke="#5858b0" stroke-width="1.7" />
<line x1="180.96" y1="117.14" x2="181.02" y2="120.90" stroke="#a070c0" stroke-width="1.7" />
<line x1="179.92" y1="117.47" x2="179.85" y2="120.89" stroke="#c0a848" stroke-width="1.7" />
<line x1="176.86" y1="117.07" x2="176.41" y2="120.64" stroke="#8a78c0" stroke-width="1.7" />
<line x1="175.07" y1="116.00" x2="174.23" y2="120.30" stroke="#6858a8" stroke-width="1.7" />
<line x1="173.54" y1="116.17" x2="172.61" y2="119.94" stroke="#8a70b8" stroke-width="1.7" />
<line x1="171.89" y1="115.34" x2="170.61" y2="119.38" stroke="#9890c8" stroke-width="1.7" />
<line x1="169.23" y1="115.48" x2="168.01" y2="118.44" stroke="#7a68b8" stroke-width="1.7" />
<line x1="167.29" y1="113.82" x2="165.51" y2="117.29" stroke="#b0a0d8" stroke-width="1.7" />
<line x1="166.11" y1="112.73" x2="163.95" y2="116.43" stroke="#7a7a98" stroke-width="1.7" />
<line x1="163.69" y1="112.29" x2="161.78" y2="115.05" stroke="#6858a8" stroke-width="1.7" />
<line x1="161.92" y1="110.96" x2="159.80" y2="113.58" stroke="#c0a848" stroke-width="1.7" />
<line x1="161.07" y1="109.40" x2="158.38" y2="112.36" stroke="#9a88d0" stroke-width="1.7" />
<line x1="159.31" y1="108.69" x2="156.97" y2="110.99" stroke="#9890c8" stroke-width="1.7" />
<line x1="157.92" y1="105.91" x2="154.72" y2="108.44" stroke="#c0a848" stroke-width="1.7" />
<line x1="155.94" y1="104.73" x2="153.31" y2="106.52" stroke="#6858a8" stroke-width="1.7" />
<line x1="155.74" y1="102.89" x2="152.31" y2="104.96" stroke="#b0a0d8" stroke-width="1.7" />
<line x1="154.94" y1="101.05" x2="151.20" y2="102.95" stroke="#6858a8" stroke-width="1.7" />
<line x1="153.51" y1="99.22" x2="150.12" y2="100.63" stroke="#b0a0d8" stroke-width="1.7" />
<line x1="152.57" y1="97.64" x2="149.40" y2="98.73" stroke="#5a50a0" stroke-width="1.7" />
<line x1="152.32" y1="95.41" x2="148.68" y2="96.36" stroke="#c880b8" stroke-width="1.7" />
<line x1="152.30" y1="93.99" x2="148.32" y2="94.84" stroke="#5a50a0" stroke-width="1.7" />
<line x1="151.49" y1="91.51" x2="147.84" y2="91.96" stroke="#6a6098" stroke-width="1.7" />
<line x1="151.86" y1="89.53" x2="147.65" y2="89.76" stroke="#8a70b8" stroke-width="1.7" />
<line x1="151.45" y1="87.37" x2="147.61" y2="87.29" stroke="#7a68b8" stroke-width="1.7" />
<line x1="150.94" y1="84.94" x2="147.78" y2="84.61" stroke="#a070c0" stroke-width="1.7" />
<line x1="151.45" y1="83.59" x2="147.97" y2="83.07" stroke="#b8a8e0" stroke-width="1.7" />
<line x1="152.18" y1="81.83" x2="148.35" y2="81.00" stroke="#b8a8e0" stroke-width="1.7" />
<line x1="152.14" y1="78.67" x2="149.25" y2="77.71" stroke="#c0a848" stroke-width="1.7" />
<line x1="153.23" y1="76.85" x2="150.05" y2="75.54" stroke="#6a6098" stroke-width="1.7" />
<line x1="153.78" y1="75.49" x2="150.70" y2="74.05" stroke="#6a6098" stroke-width="1.7" />
<line x1="155.45" y1="73.48" x2="152.03" y2="71.50" stroke="#5a50a0" stroke-width="1.7" />
<line x1="156.41" y1="71.56" x2="153.33" y2="69.45" stroke="#5a50a0" stroke-width="1.7" />
<line x1="157.58" y1="70.16" x2="154.54" y2="67.79" stroke="#b8a8e0" stroke-width="1.7" />
<line x1="158.33" y1="69.17" x2="155.42" y2="66.70" stroke="#5858b0" stroke-width="1.7" />
<line x1="159.91" y1="67.87" x2="156.98" y2="65.00" stroke="#b8a8e0" stroke-width="1.7" />
<line x1="161.41" y1="65.67" x2="159.12" y2="63.00" stroke="#8a78c0" stroke-width="1.7" />
<line x1="163.18" y1="64.45" x2="161.01" y2="61.50" stroke="#9a88d0" stroke-width="1.7" />
<line x1="164.86" y1="62.80" x2="163.15" y2="60.05" stroke="#6858a8" stroke-width="1.7" />
<line x1="166.84" y1="61.78" x2="165.30" y2="58.82" stroke="#6a6098" stroke-width="1.7" />
<line x1="168.16" y1="60.92" x2="166.85" y2="58.06" stroke="#a070c0" stroke-width="1.7" />
<line x1="170.43" y1="60.19" x2="169.30" y2="57.06" stroke="#b0a0d8" stroke-width="1.7" />
<line x1="172.72" y1="59.43" x2="171.86" y2="56.25" stroke="#8a78c0" stroke-width="1.7" />
<line x1="174.52" y1="59.77" x2="173.68" y2="55.81" stroke="#c880b8" stroke-width="1.7" />
<line x1="176.26" y1="59.23" x2="175.70" y2="55.45" stroke="#8a78c0" stroke-width="1.7" />
<line x1="178.70" y1="58.68" x2="178.48" y2="55.16" stroke="#7a7a98" stroke-width="1.7" />
<line x1="180.56" y1="59.23" x2="180.56" y2="55.10" stroke="#b8a8e0" stroke-width="1.7" />
<line x1="182.82" y1="58.28" x2="183.06" y2="55.20" stroke="#b0a0d8" stroke-width="1.7" />
<line x1="184.74" y1="58.41" x2="185.17" y2="55.43" stroke="#a070c0" stroke-width="1.7" />
<line x1="186.26" y1="58.68" x2="186.84" y2="55.72" stroke="#b8a8e0" stroke-width="1.7" />
<line x1="188.41" y1="59.41" x2="189.27" y2="56.29" stroke="#8a70b8" stroke-width="1.7" />
<line x1="190.38" y1="60.97" x2="191.79" y2="57.10" stroke="#c0a848" stroke-width="1.7" />
<line x1="192.51" y1="60.73" x2="193.77" y2="57.89" stroke="#b8a8e0" stroke-width="1.7" />
<line x1="194.47" y1="62.78" x2="196.44" y2="59.22" stroke="#7a7a98" stroke-width="1.7" />
<line x1="196.00" y1="63.45" x2="198.07" y2="60.18" stroke="#7a7a98" stroke-width="1.7" />
<line x1="197.73" y1="65.04" x2="200.25" y2="61.69" stroke="#7a7a98" stroke-width="1.7" />
<line x1="199.04" y1="65.72" x2="201.54" y2="62.71" stroke="#c0a848" stroke-width="1.7" />
<line x1="201.66" y1="67.28" x2="204.01" y2="64.98" stroke="#9a88d0" stroke-width="1.7" />
<line x1="202.85" y1="68.56" x2="205.32" y2="66.41" stroke="#c880b8" stroke-width="1.7" />
<line x1="204.05" y1="69.78" x2="206.52" y2="67.87" stroke="#8a78c0" stroke-width="1.7" />
<line x1="205.36" y1="71.47" x2="207.90" y2="69.79" stroke="#7a68b8" stroke-width="1.7" />
<line x1="205.56" y1="73.65" x2="209.05" y2="71.65" stroke="#a070c0" stroke-width="1.7" />
<line x1="206.50" y1="75.58" x2="210.19" y2="73.82" stroke="#9a88d0" stroke-width="1.7" />
<line x1="207.63" y1="77.94" x2="211.35" y2="76.56" stroke="#8a78c0" stroke-width="1.7" />
<line x1="207.73" y1="79.13" x2="211.78" y2="77.81" stroke="#6858a8" stroke-width="1.7" />
<line x1="209.55" y1="81.10" x2="212.51" y2="80.40" stroke="#c0a848" stroke-width="1.7" />
<line x1="209.75" y1="83.34" x2="212.99" y2="82.82" stroke="#9890c8" stroke-width="1.7" />
<line x1="209.36" y1="85.86" x2="213.31" y2="85.57" stroke="#b8a8e0" stroke-width="1.7" />
<line x1="210.06" y1="86.99" x2="213.38" y2="86.88" stroke="#a070c0" stroke-width="1.7" />
<line x1="209.76" y1="89.89" x2="213.33" y2="90.12" stroke="#5858b0" stroke-width="1.7" />
<line x1="209.33" y1="92.05" x2="213.08" y2="92.57" stroke="#6a6098" stroke-width="1.7" />
<line x1="209.18" y1="93.89" x2="212.73" y2="94.62" stroke="#8a78c0" stroke-width="1.7" />
<line x1="208.66" y1="95.27" x2="212.35" y2="96.23" stroke="#9890c8" stroke-width="1.7" />
<line x1="207.65" y1="97.68" x2="211.49" y2="99.05" stroke="#8a78c0" stroke-width="1.7" />
<line x1="206.58" y1="99.60" x2="210.56" y2="101.38" stroke="#6858a8" stroke-width="1.7" />
<line x1="207.03" y1="101.51" x2="209.82" y2="102.93" stroke="#7a7a98" stroke-width="1.7" />
<line x1="205.10" y1="102.89" x2="208.65" y2="105.04" stroke="#5858b0" stroke-width="1.7" />
<line x1="205.01" y1="105.10" x2="207.48" y2="106.82" stroke="#6858a8" stroke-width="1.7" />
<line x1="202.42" y1="106.33" x2="205.74" y2="109.10" stroke="#9890c8" stroke-width="1.7" />
<line x1="202.03" y1="107.62" x2="204.82" y2="110.16" stroke="#6a6098" stroke-width="1.7" />
<line x1="200.09" y1="109.98" x2="202.39" y2="112.56" stroke="#8a70b8" stroke-width="1.7" />
</g>
<g transform="translate(184.5,75.0) rotate(-8)">
<ellipse cx="0" cy="0" rx="44" ry="38" fill="url(#rimg)"/>
<ellipse cx="1.0" cy="4.5" rx="37" ry="32.5" fill="url(#coreg)"/>
</g>
<rect x="168.03" y="80.46" width="2.4" height="2.4" fill="#a04a28" opacity="0.9" transform="rotate(17,169.23,81.66)"/>
<rect x="176.51" y="65.84" width="2.4" height="2.4" fill="#b05a30" opacity="0.9" transform="rotate(81,177.71,67.04)"/>
<rect x="200.71" y="86.32" width="2.4" height="2.4" fill="#9a4030" opacity="0.9" transform="rotate(63,201.91,87.52)"/>
<rect x="181.55" y="69.07" width="2.4" height="2.4" fill="#b05a30" opacity="0.9" transform="rotate(86,182.75,70.27)"/>
<rect x="174.71" y="81.17" width="2.4" height="2.4" fill="#8a3a20" opacity="0.9" transform="rotate(10,175.91,82.37)"/>
<rect x="151.46" y="76.18" width="2.4" height="2.4" fill="#9a4030" opacity="0.9" transform="rotate(6,152.66,77.38)"/>
<rect x="172.46" y="54.33" width="2.4" height="2.4" fill="#8a3a20" opacity="0.9" transform="rotate(83,173.66,55.53)"/>
<rect x="185.81" y="86.68" width="2.4" height="2.4" fill="#b05a30" opacity="0.9" transform="rotate(80,187.01,87.88)"/>
<rect x="187.18" y="49.54" width="2.4" height="2.4" fill="#b05a30" opacity="0.9" transform="rotate(25,188.38,50.74)"/>
<rect x="186.48" y="68.82" width="2.4" height="2.4" fill="#8a3a20" opacity="0.9" transform="rotate(79,187.68,70.02)"/>
<rect x="197.24" y="81.98" width="2.4" height="2.4" fill="#b05a30" opacity="0.9" transform="rotate(13,198.44,83.18)"/>
<rect x="184.95" y="100.60" width="2.4" height="2.4" fill="#8a3a20" opacity="0.9" transform="rotate(87,186.15,101.80)"/>
<rect x="209.46" y="77.89" width="2.4" height="2.4" fill="#a04a28" opacity="0.9" transform="rotate(81,210.66,79.09)"/>
<rect x="184.09" y="81.15" width="2.4" height="2.4" fill="#8a3a20" opacity="0.9" transform="rotate(12,185.29,82.35)"/>
<rect x="199.25" y="68.83" width="2.4" height="2.4" fill="#9a4030" opacity="0.9" transform="rotate(45,200.45,70.03)"/>
<rect x="197.35" y="70.16" width="2.4" height="2.4" fill="#b05a30" opacity="0.9" transform="rotate(17,198.55,71.36)"/>
<rect x="185.12" y="54.96" width="2.4" height="2.4" fill="#a04a28" opacity="0.9" transform="rotate(16,186.32,56.16)"/>
<rect x="157.71" y="58.79" width="2.4" height="2.4" fill="#8a3a20" opacity="0.9" transform="rotate(24,158.91,59.99)"/>
<rect x="170.89" y="53.13" width="2.4" height="2.4" fill="#6a2a18" opacity="0.9" transform="rotate(24,172.09,54.33)"/>
<rect x="216.32" y="76.32" width="2.4" height="2.4" fill="#8a3a20" opacity="0.9" transform="rotate(78,217.52,77.52)"/>
<rect x="157.58" y="93.36" width="2.4" height="2.4" fill="#a04a28" opacity="0.9" transform="rotate(55,158.78,94.56)"/>
<rect x="197.22" y="80.91" width="2.4" height="2.4" fill="#6a2a18" opacity="0.9" transform="rotate(47,198.42,82.11)"/>
<rect x="160.40" y="68.50" width="2.4" height="2.4" fill="#7a3018" opacity="0.9" transform="rotate(10,161.60,69.70)"/>
<rect x="193.81" y="68.15" width="2.4" height="2.4" fill="#a04a28" opacity="0.9" transform="rotate(36,195.01,69.35)"/>
<rect x="203.81" y="75.63" width="2.4" height="2.4" fill="#8a3a20" opacity="0.9" transform="rotate(34,205.01,76.83)"/>
<rect x="179.51" y="74.91" width="2.4" height="2.4" fill="#8a3a20" opacity="0.9" transform="rotate(19,180.71,76.11)"/>
<rect x="169.90" y="81.59" width="2.4" height="2.4" fill="#8a3a20" opacity="0.9" transform="rotate(28,171.10,82.79)"/>
<rect x="178.58" y="94.45" width="2.4" height="2.4" fill="#8a3a20" opacity="0.9" transform="rotate(2,179.78,95.65)"/>
<rect x="188.16" y="52.49" width="2.4" height="2.4" fill="#b05a30" opacity="0.9" transform="rotate(31,189.36,53.69)"/>
<rect x="186.42" y="58.73" width="2.4" height="2.4" fill="#8a3a20" opacity="0.9" transform="rotate(38,187.62,59.93)"/>
<rect x="186.69" y="106.53" width="2.4" height="2.4" fill="#b05a30" opacity="0.9" transform="rotate(46,187.89,107.73)"/>
<rect x="202.69" y="72.18" width="2.4" height="2.4" fill="#a04a28" opacity="0.9" transform="rotate(60,203.89,73.38)"/>
<rect x="196.60" y="100.37" width="2.4" height="2.4" fill="#7a3018" opacity="0.9" transform="rotate(3,197.80,101.57)"/>
<rect x="208.80" y="67.90" width="2.4" height="2.4" fill="#7a3018" opacity="0.9" transform="rotate(85,210.00,69.10)"/>
<rect x="204.75" y="75.57" width="2.4" height="2.4" fill="#8a3a20" opacity="0.9" transform="rotate(4,205.95,76.77)"/>
<rect x="156.79" y="84.88" width="2.4" height="2.4" fill="#7a3018" opacity="0.9" transform="rotate(55,157.99,86.08)"/>
<rect x="197.10" y="74.53" width="2.4" height="2.4" fill="#a04a28" opacity="0.9" transform="rotate(43,198.30,75.73)"/>
<rect x="177.17" y="106.24" width="2.4" height="2.4" fill="#6a2a18" opacity="0.9" transform="rotate(50,178.37,107.44)"/>
<rect x="180.76" y="72.07" width="2.4" height="2.4" fill="#b05a30" opacity="0.9" transform="rotate(13,181.96,73.27)"/>
<rect x="157.29" y="67.84" width="2.4" height="2.4" fill="#9a4030" opacity="0.9" transform="rotate(80,158.49,69.04)"/>
<rect x="195.08" y="97.24" width="2.4" height="2.4" fill="#9a4030" opacity="0.9" transform="rotate(79,196.28,98.44)"/>
<rect x="175.69" y="77.53" width="2.4" height="2.4" fill="#8a3a20" opacity="0.9" transform="rotate(25,176.89,78.73)"/>
<rect x="201.95" y="95.37" width="2.4" height="2.4" fill="#8a3a20" opacity="0.9" transform="rotate(15,203.15,96.57)"/>
<rect x="190.06" y="51.47" width="2.4" height="2.4" fill="#a04a28" opacity="0.9" transform="rotate(16,191.26,52.67)"/>
<rect x="162.92" y="82.32" width="2.4" height="2.4" fill="#b05a30" opacity="0.9" transform="rotate(7,164.12,83.52)"/>
<rect x="162.17" y="71.41" width="2.4" height="2.4" fill="#7a3018" opacity="0.9" transform="rotate(48,163.37,72.61)"/>
<rect x="187.51" y="75.65" width="2.4" height="2.4" fill="#9a4030" opacity="0.9" transform="rotate(80,188.71,76.85)"/>
<rect x="163.97" y="72.42" width="2.4" height="2.4" fill="#9a4030" opacity="0.9" transform="rotate(58,165.17,73.62)"/>
<rect x="191.37" y="51.29" width="2.4" height="2.4" fill="#9a4030" opacity="0.9" transform="rotate(49,192.57,52.49)"/>
<rect x="174.87" y="99.24" width="2.4" height="2.4" fill="#6a2a18" opacity="0.9" transform="rotate(12,176.07,100.44)"/>
<rect x="197.92" y="87.19" width="2.4" height="2.4" fill="#8a3a20" opacity="0.9" transform="rotate(44,199.12,88.39)"/>
<rect x="179.04" y="73.36" width="2.4" height="2.4" fill="#9a4030" opacity="0.9" transform="rotate(3,180.24,74.56)"/>
<rect x="183.51" y="93.29" width="2.4" height="2.4" fill="#7a3018" opacity="0.9" transform="rotate(74,184.71,94.49)"/>
<rect x="179.91" y="57.04" width="2.4" height="2.4" fill="#a04a28" opacity="0.9" transform="rotate(3,181.11,58.24)"/>
<rect x="164.57" y="65.79" width="2.4" height="2.4" fill="#6a2a18" opacity="0.9" transform="rotate(37,165.77,66.99)"/>
<rect x="177.22" y="74.16" width="2.4" height="2.4" fill="#8a3a20" opacity="0.9" transform="rotate(55,178.42,75.36)"/>
<rect x="185.35" y="82.32" width="2.4" height="2.4" fill="#7a3018" opacity="0.9" transform="rotate(56,186.55,83.52)"/>
<rect x="165.43" y="72.52" width="2.4" height="2.4" fill="#6a2a18" opacity="0.9" transform="rotate(70,166.63,73.72)"/>
<rect x="169.12" y="98.59" width="2.4" height="2.4" fill="#8a3a20" opacity="0.9" transform="rotate(42,170.32,99.79)"/>
<rect x="174.67" y="79.73" width="2.4" height="2.4" fill="#b05a30" opacity="0.9" transform="rotate(89,175.87,80.93)"/>
<rect x="186.44" y="71.55" width="2.4" height="2.4" fill="#7a3018" opacity="0.9" transform="rotate(60,187.64,72.75)"/>
<rect x="175.16" y="79.47" width="2.4" height="2.4" fill="#a04a28" opacity="0.9" transform="rotate(10,176.36,80.67)"/>
<rect x="188.85" y="79.18" width="2.4" height="2.4" fill="#6a2a18" opacity="0.9" transform="rotate(88,190.05,80.38)"/>
<rect x="164.72" y="94.19" width="2.4" height="2.4" fill="#b05a30" opacity="0.9" transform="rotate(56,165.92,95.39)"/>
<rect x="191.92" y="103.07" width="2.4" height="2.4" fill="#8a3a20" opacity="0.9" transform="rotate(21,193.12,104.27)"/>
<rect x="182.02" y="94.86" width="2.4" height="2.4" fill="#a04a28" opacity="0.9" transform="rotate(1,183.22,96.06)"/>
<rect x="182.35" y="97.34" width="2.4" height="2.4" fill="#8a3a20" opacity="0.9" transform="rotate(47,183.55,98.54)"/>
<rect x="156.23" y="91.08" width="2.4" height="2.4" fill="#b05a30" opacity="0.9" transform="rotate(77,157.43,92.28)"/>
<rect x="174.36" y="71.36" width="2.4" height="2.4" fill="#8a3a20" opacity="0.9" transform="rotate(61,175.56,72.56)"/>
<rect x="186.40" y="80.87" width="2.4" height="2.4" fill="#a04a28" opacity="0.9" transform="rotate(88,187.60,82.07)"/>
<rect x="189.74" y="50.23" width="2.4" height="2.4" fill="#8a3a20" opacity="0.9" transform="rotate(79,190.94,51.43)"/>
<rect x="211.41" y="63.07" width="2.4" height="2.4" fill="#8a3a20" opacity="0.9" transform="rotate(3,212.61,64.27)"/>
<rect x="167.53" y="82.84" width="2.4" height="2.4" fill="#7a3018" opacity="0.9" transform="rotate(44,168.73,84.04)"/>
<rect x="166.32" y="98.68" width="2.4" height="2.4" fill="#b05a30" opacity="0.9" transform="rotate(39,167.52,99.88)"/>
<rect x="194.29" y="82.89" width="2.4" height="2.4" fill="#b05a30" opacity="0.9" transform="rotate(55,195.49,84.09)"/>
<rect x="167.23" y="70.84" width="2.4" height="2.4" fill="#a04a28" opacity="0.9" transform="rotate(30,168.43,72.04)"/>
<rect x="189.23" y="79.56" width="2.4" height="2.4" fill="#7a3018" opacity="0.9" transform="rotate(49,190.43,80.76)"/>
<rect x="192.26" y="98.36" width="2.4" height="2.4" fill="#6a2a18" opacity="0.9" transform="rotate(81,193.46,99.56)"/>
<rect x="189.11" y="75.19" width="2.4" height="2.4" fill="#b05a30" opacity="0.9" transform="rotate(87,190.31,76.39)"/>
<rect x="156.97" y="60.43" width="2.4" height="2.4" fill="#6a2a18" opacity="0.9" transform="rotate(66,158.17,61.63)"/>
<rect x="187.66" y="94.98" width="2.4" height="2.4" fill="#7a3018" opacity="0.9" transform="rotate(7,188.86,96.18)"/>
<rect x="174.78" y="64.15" width="2.4" height="2.4" fill="#a04a28" opacity="0.9" transform="rotate(78,175.98,65.35)"/>
<rect x="169.98" y="100.54" width="2.4" height="2.4" fill="#9a4030" opacity="0.9" transform="rotate(45,171.18,101.74)"/>
<rect x="178.62" y="78.19" width="2.4" height="2.4" fill="#9a4030" opacity="0.9" transform="rotate(18,179.82,79.39)"/>
<rect x="188.24" y="106.85" width="2.4" height="2.4" fill="#7a3018" opacity="0.9" transform="rotate(4,189.44,108.05)"/>
<rect x="188.13" y="83.86" width="2.4" height="2.4" fill="#8a3a20" opacity="0.9" transform="rotate(46,189.33,85.06)"/>
<rect x="186.78" y="63.21" width="2.4" height="2.4" fill="#b05a30" opacity="0.9" transform="rotate(35,187.98,64.41)"/>
<rect x="157.36" y="63.38" width="2.4" height="2.4" fill="#9a4030" opacity="0.9" transform="rotate(62,158.56,64.58)"/>
<rect x="175.12" y="85.80" width="2.4" height="2.4" fill="#7a3018" opacity="0.9" transform="rotate(82,176.32,87.00)"/>
<rect x="157.54" y="67.01" width="2.4" height="2.4" fill="#a04a28" opacity="0.9" transform="rotate(51,158.74,68.21)"/>
<rect x="207.07" y="78.61" width="2.4" height="2.4" fill="#8a3a20" opacity="0.9" transform="rotate(25,208.27,79.81)"/>
<rect x="156.68" y="73.93" width="2.4" height="2.4" fill="#b05a30" opacity="0.9" transform="rotate(82,157.88,75.13)"/>
<rect x="183.16" y="66.25" width="2.4" height="2.4" fill="#a04a28" opacity="0.9" transform="rotate(47,184.36,67.45)"/>
<rect x="149.67" y="81.31" width="2.4" height="2.4" fill="#a04a28" opacity="0.9" transform="rotate(30,150.87,82.51)"/>
<rect x="182.63" y="64.25" width="2.4" height="2.4" fill="#9a4030" opacity="0.9" transform="rotate(5,183.83,65.45)"/>
<rect x="180.24" y="90.05" width="2.4" height="2.4" fill="#9a4030" opacity="0.9" transform="rotate(17,181.44,91.25)"/>
<rect x="187.06" y="56.05" width="2.4" height="2.4" fill="#8a3a20" opacity="0.9" transform="rotate(41,188.26,57.25)"/>
<rect x="168.67" y="97.25" width="2.4" height="2.4" fill="#a04a28" opacity="0.9" transform="rotate(81,169.87,98.45)"/>
<rect x="184.92" y="86.29" width="2.4" height="2.4" fill="#6a2a18" opacity="0.9" transform="rotate(51,186.12,87.49)"/>
<rect x="203.27" y="78.47" width="2.4" height="2.4" fill="#8a3a20" opacity="0.9" transform="rotate(84,204.47,79.67)"/>
<rect x="178.78" y="60.69" width="2.4" height="2.4" fill="#8a3a20" opacity="0.9" transform="rotate(34,179.98,61.89)"/>
<rect x="191.91" y="51.18" width="2.4" height="2.4" fill="#b05a30" opacity="0.9" transform="rotate(57,193.11,52.38)"/>
<rect x="202.82" y="73.14" width="2.4" height="2.4" fill="#a04a28" opacity="0.9" transform="rotate(87,204.02,74.34)"/>
<rect x="195.39" y="84.03" width="2.4" height="2.4" fill="#a04a28" opacity="0.9" transform="rotate(69,196.59,85.23)"/>
<rect x="192.30" y="75.61" width="2.4" height="2.4" fill="#9a4030" opacity="0.9" transform="rotate(1,193.50,76.81)"/>
<rect x="175.43" y="66.46" width="2.4" height="2.4" fill="#a04a28" opacity="0.9" transform="rotate(88,176.63,67.66)"/>
<rect x="185.52" y="82.00" width="2.4" height="2.4" fill="#9a4030" opacity="0.9" transform="rotate(52,186.72,83.20)"/>
<rect x="191.60" y="101.99" width="2.4" height="2.4" fill="#7a3018" opacity="0.9" transform="rotate(64,192.80,103.19)"/>
<rect x="175.15" y="89.84" width="2.4" height="2.4" fill="#8a3a20" opacity="0.9" transform="rotate(37,176.35,91.04)"/>
<rect x="186.04" y="61.70" width="2.4" height="2.4" fill="#6a2a18" opacity="0.9" transform="rotate(4,187.24,62.90)"/>
<rect x="186.72" y="84.05" width="2.4" height="2.4" fill="#9a4030" opacity="0.9" transform="rotate(64,187.92,85.25)"/>
<rect x="164.83" y="58.37" width="2.4" height="2.4" fill="#9a4030" opacity="0.9" transform="rotate(34,166.03,59.57)"/>
<rect x="184.10" y="49.98" width="2.4" height="2.4" fill="#9a4030" opacity="0.9" transform="rotate(14,185.30,51.18)"/>
<rect x="159.26" y="97.49" width="2.4" height="2.4" fill="#b05a30" opacity="0.9" transform="rotate(13,160.46,98.69)"/>
<rect x="160.16" y="89.22" width="2.4" height="2.4" fill="#6a2a18" opacity="0.9" transform="rotate(57,161.36,90.42)"/>
<rect x="209.77" y="93.79" width="2.4" height="2.4" fill="#9a4030" opacity="0.9" transform="rotate(23,210.97,94.99)"/>
<rect x="163.92" y="94.64" width="2.4" height="2.4" fill="#7a3018" opacity="0.9" transform="rotate(48,165.12,95.84)"/>
<rect x="208.71" y="77.04" width="2.4" height="2.4" fill="#6a2a18" opacity="0.9" transform="rotate(48,209.91,78.24)"/>
<rect x="171.78" y="101.80" width="2.4" height="2.4" fill="#a04a28" opacity="0.9" transform="rotate(77,172.98,103.00)"/>
<rect x="190.95" y="99.06" width="2.4" height="2.4" fill="#7a3018" opacity="0.9" transform="rotate(28,192.15,100.26)"/>
<line x1="189.78" y1="94.02" x2="193.49" y2="93.68" stroke="#f4d0c8" stroke-width="0.85" stroke-dasharray="1.2,0.7"/>
<line x1="189.39" y1="95.79" x2="192.75" y2="97.74" stroke="#e8c8c0" stroke-width="0.85" stroke-dasharray="1.2,0.7"/>
<line x1="187.91" y1="97.07" x2="188.90" y2="99.52" stroke="#d8b0a8" stroke-width="0.85" stroke-dasharray="1.2,0.7"/>
<line x1="186.65" y1="97.28" x2="186.51" y2="100.07" stroke="#f4d0c8" stroke-width="0.85" stroke-dasharray="1.2,0.7"/>
<line x1="185.00" y1="96.69" x2="183.27" y2="99.01" stroke="#f4d0c8" stroke-width="0.85" stroke-dasharray="1.2,0.7"/>
<line x1="184.30" y1="95.95" x2="181.01" y2="98.15" stroke="#d8b0a8" stroke-width="0.85" stroke-dasharray="1.2,0.7"/>
<line x1="183.80" y1="94.15" x2="180.67" y2="94.02" stroke="#d8b0a8" stroke-width="0.85" stroke-dasharray="1.2,0.7"/>
<line x1="184.33" y1="92.58" x2="181.51" y2="90.63" stroke="#d8b0a8" stroke-width="0.85" stroke-dasharray="1.2,0.7"/>
<line x1="185.32" y1="91.67" x2="183.39" y2="88.26" stroke="#f0e0d8" stroke-width="0.85" stroke-dasharray="1.2,0.7"/>
<line x1="186.42" y1="91.31" x2="185.92" y2="87.33" stroke="#ffffff" stroke-width="0.85" stroke-dasharray="1.2,0.7"/>
<line x1="187.95" y1="91.52" x2="189.28" y2="88.33" stroke="#d8b0a8" stroke-width="0.85" stroke-dasharray="1.2,0.7"/>
<line x1="189.57" y1="93.15" x2="193.02" y2="91.74" stroke="#f4d0c8" stroke-width="0.85" stroke-dasharray="1.2,0.7"/>
<path d="M190.49,94.28 L188.64,97.49 L184.95,97.49 L183.10,94.28 L184.95,91.08 L188.64,91.08 Z" stroke="none" stroke-width="0" fill="#c8a048" stroke-linejoin="round" />
<line x1="164.90" y1="56.62" x2="168.53" y2="57.10" stroke="#f0e0d8" stroke-width="0.85" stroke-dasharray="1.2,0.7"/>
<line x1="164.43" y1="57.88" x2="167.25" y2="59.75" stroke="#d8b0a8" stroke-width="0.85" stroke-dasharray="1.2,0.7"/>
<line x1="163.75" y1="58.62" x2="166.43" y2="62.14" stroke="#ffffff" stroke-width="0.85" stroke-dasharray="1.2,0.7"/>
<line x1="161.69" y1="59.22" x2="161.47" y2="62.05" stroke="#f0e0d8" stroke-width="0.85" stroke-dasharray="1.2,0.7"/>
<line x1="160.17" y1="58.66" x2="158.32" y2="61.22" stroke="#f4d0c8" stroke-width="0.85" stroke-dasharray="1.2,0.7"/>
<line x1="159.18" y1="57.42" x2="155.13" y2="59.17" stroke="#ffffff" stroke-width="0.85" stroke-dasharray="1.2,0.7"/>
<line x1="158.93" y1="56.39" x2="156.09" y2="56.54" stroke="#ffffff" stroke-width="0.85" stroke-dasharray="1.2,0.7"/>
<line x1="159.43" y1="54.58" x2="156.81" y2="52.85" stroke="#f4d0c8" stroke-width="0.85" stroke-dasharray="1.2,0.7"/>
<line x1="160.12" y1="53.84" x2="157.66" y2="50.60" stroke="#ffffff" stroke-width="0.85" stroke-dasharray="1.2,0.7"/>
<line x1="162.30" y1="53.25" x2="162.84" y2="48.86" stroke="#ffffff" stroke-width="0.85" stroke-dasharray="1.2,0.7"/>
<line x1="163.27" y1="53.54" x2="164.44" y2="51.20" stroke="#f4d0c8" stroke-width="0.85" stroke-dasharray="1.2,0.7"/>
<line x1="164.66" y1="54.97" x2="167.05" y2="53.87" stroke="#f4d0c8" stroke-width="0.85" stroke-dasharray="1.2,0.7"/>
<path d="M165.16,56.23 L163.55,59.03 L160.31,59.03 L158.70,56.23 L160.31,53.43 L163.55,53.43 Z" stroke="none" stroke-width="0" fill="#7a8a40" stroke-linejoin="round" />
<line x1="167.38" y1="97.05" x2="170.77" y2="97.37" stroke="#f0e0d8" stroke-width="0.85" stroke-dasharray="1.2,0.7"/>
<line x1="166.75" y1="98.63" x2="168.97" y2="100.38" stroke="#f0e0d8" stroke-width="0.85" stroke-dasharray="1.2,0.7"/>
<line x1="165.84" y1="99.39" x2="167.12" y2="101.73" stroke="#ffffff" stroke-width="0.85" stroke-dasharray="1.2,0.7"/>
<line x1="164.84" y1="99.73" x2="165.47" y2="103.96" stroke="#f0e0d8" stroke-width="0.85" stroke-dasharray="1.2,0.7"/>
<line x1="162.94" y1="99.39" x2="161.56" y2="101.87" stroke="#f0e0d8" stroke-width="0.85" stroke-dasharray="1.2,0.7"/>
<line x1="161.91" y1="98.44" x2="158.21" y2="100.94" stroke="#f0e0d8" stroke-width="0.85" stroke-dasharray="1.2,0.7"/>
<line x1="161.41" y1="96.53" x2="157.29" y2="96.21" stroke="#ffffff" stroke-width="0.85" stroke-dasharray="1.2,0.7"/>
<line x1="161.86" y1="95.16" x2="159.30" y2="93.55" stroke="#e8c8c0" stroke-width="0.85" stroke-dasharray="1.2,0.7"/>
<line x1="163.06" y1="94.08" x2="161.08" y2="90.09" stroke="#e8c8c0" stroke-width="0.85" stroke-dasharray="1.2,0.7"/>
<line x1="164.39" y1="93.76" x2="164.38" y2="90.19" stroke="#f4d0c8" stroke-width="0.85" stroke-dasharray="1.2,0.7"/>
<line x1="166.25" y1="94.40" x2="168.60" y2="91.38" stroke="#f4d0c8" stroke-width="0.85" stroke-dasharray="1.2,0.7"/>
<line x1="166.87" y1="95.07" x2="170.09" y2="92.87" stroke="#ffffff" stroke-width="0.85" stroke-dasharray="1.2,0.7"/>
<path d="M167.66,96.76 L166.03,99.59 L162.76,99.59 L161.13,96.76 L162.76,93.93 L166.03,93.93 Z" stroke="none" stroke-width="0" fill="#d0a840" stroke-linejoin="round" />
<line x1="174.49" y1="74.92" x2="177.35" y2="75.12" stroke="#f0e0d8" stroke-width="0.85" stroke-dasharray="1.2,0.7"/>
<line x1="174.04" y1="76.30" x2="176.82" y2="78.02" stroke="#f4d0c8" stroke-width="0.85" stroke-dasharray="1.2,0.7"/>
<line x1="172.99" y1="77.32" x2="174.84" y2="80.52" stroke="#d8b0a8" stroke-width="0.85" stroke-dasharray="1.2,0.7"/>
<line x1="171.60" y1="77.72" x2="171.72" y2="81.31" stroke="#ffffff" stroke-width="0.85" stroke-dasharray="1.2,0.7"/>
<line x1="170.29" y1="77.47" x2="169.01" y2="80.37" stroke="#e8c8c0" stroke-width="0.85" stroke-dasharray="1.2,0.7"/>
<line x1="168.96" y1="76.33" x2="165.28" y2="78.67" stroke="#f0e0d8" stroke-width="0.85" stroke-dasharray="1.2,0.7"/>
<line x1="168.52" y1="75.07" x2="166.03" y2="75.36" stroke="#d8b0a8" stroke-width="0.85" stroke-dasharray="1.2,0.7"/>
<line x1="168.88" y1="73.25" x2="166.06" y2="71.66" stroke="#e8c8c0" stroke-width="0.85" stroke-dasharray="1.2,0.7"/>
<line x1="170.14" y1="72.04" x2="168.51" y2="68.85" stroke="#f0e0d8" stroke-width="0.85" stroke-dasharray="1.2,0.7"/>
<line x1="171.61" y1="71.72" x2="171.72" y2="68.71" stroke="#d8b0a8" stroke-width="0.85" stroke-dasharray="1.2,0.7"/>
<line x1="172.87" y1="72.05" x2="174.35" y2="69.17" stroke="#ffffff" stroke-width="0.85" stroke-dasharray="1.2,0.7"/>
<line x1="174.22" y1="73.45" x2="176.97" y2="72.18" stroke="#e8c8c0" stroke-width="0.85" stroke-dasharray="1.2,0.7"/>
<path d="M174.90,74.72 L173.20,77.67 L169.79,77.67 L168.09,74.72 L169.79,71.77 L173.20,71.77 Z" stroke="none" stroke-width="0" fill="#9aaa50" stroke-linejoin="round" />
<line x1="185.99" y1="61.34" x2="189.58" y2="60.82" stroke="#f0e0d8" stroke-width="0.85" stroke-dasharray="1.2,0.7"/>
<line x1="185.53" y1="63.40" x2="187.93" y2="64.97" stroke="#f0e0d8" stroke-width="0.85" stroke-dasharray="1.2,0.7"/>
<line x1="184.42" y1="64.42" x2="185.96" y2="67.34" stroke="#f4d0c8" stroke-width="0.85" stroke-dasharray="1.2,0.7"/>
<line x1="182.82" y1="64.76" x2="182.57" y2="68.63" stroke="#d8b0a8" stroke-width="0.85" stroke-dasharray="1.2,0.7"/>
<line x1="181.40" y1="64.29" x2="179.97" y2="66.52" stroke="#e8c8c0" stroke-width="0.85" stroke-dasharray="1.2,0.7"/>
<line x1="180.52" y1="63.43" x2="177.37" y2="65.54" stroke="#e8c8c0" stroke-width="0.85" stroke-dasharray="1.2,0.7"/>
<line x1="180.03" y1="62.08" x2="176.49" y2="62.47" stroke="#f0e0d8" stroke-width="0.85" stroke-dasharray="1.2,0.7"/>
<line x1="180.36" y1="60.37" x2="176.57" y2="58.38" stroke="#d8b0a8" stroke-width="0.85" stroke-dasharray="1.2,0.7"/>
<line x1="181.58" y1="59.13" x2="180.11" y2="56.44" stroke="#f0e0d8" stroke-width="0.85" stroke-dasharray="1.2,0.7"/>
<line x1="182.57" y1="58.80" x2="181.96" y2="54.78" stroke="#d8b0a8" stroke-width="0.85" stroke-dasharray="1.2,0.7"/>
<line x1="184.70" y1="59.28" x2="186.70" y2="56.35" stroke="#ffffff" stroke-width="0.85" stroke-dasharray="1.2,0.7"/>
<line x1="185.79" y1="60.62" x2="188.62" y2="59.46" stroke="#e8c8c0" stroke-width="0.85" stroke-dasharray="1.2,0.7"/>
<path d="M186.69,61.76 L184.86,64.95 L181.18,64.95 L179.34,61.76 L181.18,58.58 L184.86,58.58 Z" stroke="none" stroke-width="0" fill="#8a9a48" stroke-linejoin="round" />
<line x1="199.27" y1="81.98" x2="203.45" y2="82.29" stroke="#e8c8c0" stroke-width="0.85" stroke-dasharray="1.2,0.7"/>
<line x1="199.06" y1="82.87" x2="202.13" y2="84.08" stroke="#f0e0d8" stroke-width="0.85" stroke-dasharray="1.2,0.7"/>
<line x1="197.60" y1="84.46" x2="198.71" y2="86.74" stroke="#f0e0d8" stroke-width="0.85" stroke-dasharray="1.2,0.7"/>
<line x1="196.06" y1="84.76" x2="195.75" y2="88.92" stroke="#ffffff" stroke-width="0.85" stroke-dasharray="1.2,0.7"/>
<line x1="194.54" y1="84.21" x2="192.36" y2="87.31" stroke="#d8b0a8" stroke-width="0.85" stroke-dasharray="1.2,0.7"/>
<line x1="193.89" y1="83.58" x2="191.03" y2="85.77" stroke="#e8c8c0" stroke-width="0.85" stroke-dasharray="1.2,0.7"/>
<line x1="193.28" y1="81.61" x2="189.76" y2="81.43" stroke="#f0e0d8" stroke-width="0.85" stroke-dasharray="1.2,0.7"/>
<line x1="193.51" y1="80.59" x2="190.82" y2="79.44" stroke="#f0e0d8" stroke-width="0.85" stroke-dasharray="1.2,0.7"/>
<line x1="194.74" y1="79.18" x2="192.79" y2="75.89" stroke="#d8b0a8" stroke-width="0.85" stroke-dasharray="1.2,0.7"/>
<line x1="196.42" y1="78.77" x2="196.60" y2="75.09" stroke="#f0e0d8" stroke-width="0.85" stroke-dasharray="1.2,0.7"/>
<line x1="197.99" y1="79.30" x2="200.05" y2="76.35" stroke="#ffffff" stroke-width="0.85" stroke-dasharray="1.2,0.7"/>
<line x1="198.98" y1="80.48" x2="201.71" y2="79.18" stroke="#f0e0d8" stroke-width="0.85" stroke-dasharray="1.2,0.7"/>
<path d="M199.32,81.76 L197.79,84.40 L194.75,84.40 L193.23,81.76 L194.75,79.13 L197.79,79.13 Z" stroke="none" stroke-width="0" fill="#9aaa50" stroke-linejoin="round" />
<line x1="203.05" y1="56.72" x2="207.05" y2="57.14" stroke="#f0e0d8" stroke-width="0.85" stroke-dasharray="1.2,0.7"/>
<line x1="202.45" y1="58.22" x2="205.90" y2="60.87" stroke="#d8b0a8" stroke-width="0.85" stroke-dasharray="1.2,0.7"/>
<line x1="201.76" y1="58.87" x2="203.21" y2="60.98" stroke="#f0e0d8" stroke-width="0.85" stroke-dasharray="1.2,0.7"/>
<line x1="200.13" y1="59.40" x2="200.21" y2="63.32" stroke="#ffffff" stroke-width="0.85" stroke-dasharray="1.2,0.7"/>
<line x1="198.41" y1="58.91" x2="196.89" y2="61.21" stroke="#e8c8c0" stroke-width="0.85" stroke-dasharray="1.2,0.7"/>
<line x1="197.40" y1="57.78" x2="194.17" y2="59.45" stroke="#f4d0c8" stroke-width="0.85" stroke-dasharray="1.2,0.7"/>
<line x1="197.06" y1="56.37" x2="193.93" y2="56.34" stroke="#d8b0a8" stroke-width="0.85" stroke-dasharray="1.2,0.7"/>
<line x1="197.44" y1="54.94" x2="194.39" y2="53.25" stroke="#e8c8c0" stroke-width="0.85" stroke-dasharray="1.2,0.7"/>
<line x1="198.54" y1="53.82" x2="196.99" y2="51.20" stroke="#f0e0d8" stroke-width="0.85" stroke-dasharray="1.2,0.7"/>
<line x1="200.04" y1="53.40" x2="200.01" y2="50.49" stroke="#f4d0c8" stroke-width="0.85" stroke-dasharray="1.2,0.7"/>
<line x1="201.29" y1="53.66" x2="202.40" y2="51.18" stroke="#ffffff" stroke-width="0.85" stroke-dasharray="1.2,0.7"/>
<line x1="202.76" y1="55.10" x2="205.62" y2="53.72" stroke="#d8b0a8" stroke-width="0.85" stroke-dasharray="1.2,0.7"/>
<path d="M203.16,56.40 L201.61,59.08 L198.52,59.08 L196.97,56.40 L198.52,53.72 L201.61,53.72 Z" stroke="none" stroke-width="0" fill="#8a9a48" stroke-linejoin="round" />
<line x1="178.79" y1="52.99" x2="182.91" y2="52.54" stroke="#f0e0d8" stroke-width="0.85" stroke-dasharray="1.2,0.7"/>
<line x1="178.17" y1="55.17" x2="180.95" y2="57.34" stroke="#ffffff" stroke-width="0.85" stroke-dasharray="1.2,0.7"/>
<line x1="177.60" y1="55.73" x2="179.41" y2="58.18" stroke="#f4d0c8" stroke-width="0.85" stroke-dasharray="1.2,0.7"/>
<line x1="176.07" y1="56.31" x2="176.42" y2="60.36" stroke="#f4d0c8" stroke-width="0.85" stroke-dasharray="1.2,0.7"/>
<line x1="174.54" y1="56.04" x2="172.93" y2="59.46" stroke="#d8b0a8" stroke-width="0.85" stroke-dasharray="1.2,0.7"/>
<line x1="173.05" y1="54.50" x2="170.11" y2="55.76" stroke="#e8c8c0" stroke-width="0.85" stroke-dasharray="1.2,0.7"/>
<line x1="172.84" y1="53.71" x2="170.27" y2="54.04" stroke="#f0e0d8" stroke-width="0.85" stroke-dasharray="1.2,0.7"/>
<line x1="173.14" y1="51.95" x2="169.33" y2="50.00" stroke="#f0e0d8" stroke-width="0.85" stroke-dasharray="1.2,0.7"/>
<line x1="174.54" y1="50.60" x2="173.10" y2="47.51" stroke="#f4d0c8" stroke-width="0.85" stroke-dasharray="1.2,0.7"/>
<line x1="175.93" y1="50.32" x2="176.08" y2="46.40" stroke="#d8b0a8" stroke-width="0.85" stroke-dasharray="1.2,0.7"/>
<line x1="177.44" y1="50.80" x2="179.60" y2="47.45" stroke="#e8c8c0" stroke-width="0.85" stroke-dasharray="1.2,0.7"/>
<line x1="178.52" y1="52.03" x2="182.47" y2="50.14" stroke="#ffffff" stroke-width="0.85" stroke-dasharray="1.2,0.7"/>
<path d="M178.87,53.32 L177.34,55.97 L174.28,55.97 L172.76,53.32 L174.28,50.67 L177.34,50.67 Z" stroke="none" stroke-width="0" fill="#8a9a48" stroke-linejoin="round" />
<line x1="163.55" y1="68.70" x2="166.95" y2="68.98" stroke="#f0e0d8" stroke-width="0.85" stroke-dasharray="1.2,0.7"/>
<line x1="163.25" y1="69.77" x2="167.14" y2="71.66" stroke="#f4d0c8" stroke-width="0.85" stroke-dasharray="1.2,0.7"/>
<line x1="162.39" y1="70.82" x2="164.45" y2="73.48" stroke="#ffffff" stroke-width="0.85" stroke-dasharray="1.2,0.7"/>
<line x1="160.96" y1="71.42" x2="161.40" y2="74.71" stroke="#f4d0c8" stroke-width="0.85" stroke-dasharray="1.2,0.7"/>
<line x1="158.98" y1="71.00" x2="156.69" y2="74.70" stroke="#ffffff" stroke-width="0.85" stroke-dasharray="1.2,0.7"/>
<line x1="158.03" y1="70.07" x2="155.90" y2="71.44" stroke="#f4d0c8" stroke-width="0.85" stroke-dasharray="1.2,0.7"/>
<line x1="157.58" y1="68.12" x2="154.27" y2="67.76" stroke="#f0e0d8" stroke-width="0.85" stroke-dasharray="1.2,0.7"/>
<line x1="158.08" y1="66.76" x2="155.31" y2="64.87" stroke="#ffffff" stroke-width="0.85" stroke-dasharray="1.2,0.7"/>
<line x1="158.90" y1="65.95" x2="156.91" y2="62.95" stroke="#f0e0d8" stroke-width="0.85" stroke-dasharray="1.2,0.7"/>
<line x1="160.67" y1="65.45" x2="160.84" y2="61.06" stroke="#f4d0c8" stroke-width="0.85" stroke-dasharray="1.2,0.7"/>
<line x1="161.93" y1="65.78" x2="163.95" y2="61.87" stroke="#f0e0d8" stroke-width="0.85" stroke-dasharray="1.2,0.7"/>
<line x1="163.07" y1="66.81" x2="165.55" y2="65.18" stroke="#f4d0c8" stroke-width="0.85" stroke-dasharray="1.2,0.7"/>
<path d="M164.56,68.45 L162.56,71.91 L158.56,71.91 L156.56,68.45 L158.56,64.99 L162.56,64.99 Z" stroke="none" stroke-width="0" fill="#a8a050" stroke-linejoin="round" />
<line x1="197.53" y1="71.29" x2="200.15" y2="71.37" stroke="#f4d0c8" stroke-width="0.85" stroke-dasharray="1.2,0.7"/>
<line x1="197.14" y1="72.70" x2="200.48" y2="74.61" stroke="#e8c8c0" stroke-width="0.85" stroke-dasharray="1.2,0.7"/>
<line x1="195.66" y1="73.99" x2="196.88" y2="76.99" stroke="#f4d0c8" stroke-width="0.85" stroke-dasharray="1.2,0.7"/>
<line x1="194.76" y1="74.20" x2="195.04" y2="77.82" stroke="#ffffff" stroke-width="0.85" stroke-dasharray="1.2,0.7"/>
<line x1="192.75" y1="73.62" x2="191.12" y2="75.81" stroke="#ffffff" stroke-width="0.85" stroke-dasharray="1.2,0.7"/>
<line x1="192.15" y1="73.03" x2="189.22" y2="75.27" stroke="#ffffff" stroke-width="0.85" stroke-dasharray="1.2,0.7"/>
<line x1="191.53" y1="71.24" x2="187.14" y2="71.29" stroke="#f4d0c8" stroke-width="0.85" stroke-dasharray="1.2,0.7"/>
<line x1="191.81" y1="69.94" x2="188.31" y2="68.32" stroke="#f4d0c8" stroke-width="0.85" stroke-dasharray="1.2,0.7"/>
<line x1="193.10" y1="68.57" x2="191.39" y2="65.42" stroke="#e8c8c0" stroke-width="0.85" stroke-dasharray="1.2,0.7"/>
<line x1="194.77" y1="68.22" x2="194.99" y2="65.58" stroke="#f0e0d8" stroke-width="0.85" stroke-dasharray="1.2,0.7"/>
<line x1="196.28" y1="68.77" x2="198.13" y2="66.19" stroke="#e8c8c0" stroke-width="0.85" stroke-dasharray="1.2,0.7"/>
<line x1="197.29" y1="70.03" x2="201.03" y2="68.44" stroke="#e8c8c0" stroke-width="0.85" stroke-dasharray="1.2,0.7"/>
<path d="M198.11,71.21 L196.32,74.31 L192.74,74.31 L190.95,71.21 L192.74,68.11 L196.32,68.11 Z" stroke="none" stroke-width="0" fill="#b8b048" stroke-linejoin="round" />
<line x1="208.50" y1="75.56" x2="212.14" y2="75.75" stroke="#d8b0a8" stroke-width="0.85" stroke-dasharray="1.2,0.7"/>
<line x1="207.90" y1="77.20" x2="210.46" y2="79.11" stroke="#f0e0d8" stroke-width="0.85" stroke-dasharray="1.2,0.7"/>
<line x1="207.25" y1="77.84" x2="208.85" y2="80.06" stroke="#e8c8c0" stroke-width="0.85" stroke-dasharray="1.2,0.7"/>
<line x1="205.15" y1="78.38" x2="204.85" y2="80.90" stroke="#e8c8c0" stroke-width="0.85" stroke-dasharray="1.2,0.7"/>
<line x1="204.00" y1="78.00" x2="201.99" y2="81.48" stroke="#f4d0c8" stroke-width="0.85" stroke-dasharray="1.2,0.7"/>
<line x1="203.04" y1="77.11" x2="200.88" y2="78.61" stroke="#f0e0d8" stroke-width="0.85" stroke-dasharray="1.2,0.7"/>
<line x1="202.50" y1="75.50" x2="198.56" y2="75.64" stroke="#ffffff" stroke-width="0.85" stroke-dasharray="1.2,0.7"/>
<line x1="203.04" y1="73.69" x2="199.58" y2="71.29" stroke="#f4d0c8" stroke-width="0.85" stroke-dasharray="1.2,0.7"/>
<line x1="203.79" y1="72.93" x2="201.95" y2="70.28" stroke="#ffffff" stroke-width="0.85" stroke-dasharray="1.2,0.7"/>
<line x1="205.73" y1="72.41" x2="205.93" y2="69.82" stroke="#ffffff" stroke-width="0.85" stroke-dasharray="1.2,0.7"/>
<line x1="206.85" y1="72.72" x2="208.55" y2="69.32" stroke="#d8b0a8" stroke-width="0.85" stroke-dasharray="1.2,0.7"/>
<line x1="207.85" y1="73.53" x2="209.98" y2="71.83" stroke="#e8c8c0" stroke-width="0.85" stroke-dasharray="1.2,0.7"/>
<path d="M208.81,75.40 L207.16,78.27 L203.84,78.27 L202.19,75.40 L203.84,72.53 L207.16,72.53 Z" stroke="none" stroke-width="0" fill="#8a9a48" stroke-linejoin="round" />
<line x1="166.58" y1="83.66" x2="171.06" y2="84.03" stroke="#ffffff" stroke-width="0.85" stroke-dasharray="1.2,0.7"/>
<line x1="166.21" y1="84.88" x2="170.09" y2="87.05" stroke="#f4d0c8" stroke-width="0.85" stroke-dasharray="1.2,0.7"/>
<line x1="165.28" y1="85.89" x2="167.27" y2="88.80" stroke="#d8b0a8" stroke-width="0.85" stroke-dasharray="1.2,0.7"/>
<line x1="163.76" y1="86.41" x2="163.89" y2="88.93" stroke="#f0e0d8" stroke-width="0.85" stroke-dasharray="1.2,0.7"/>
<line x1="161.92" y1="85.91" x2="160.48" y2="88.07" stroke="#d8b0a8" stroke-width="0.85" stroke-dasharray="1.2,0.7"/>
<line x1="160.86" y1="84.66" x2="158.57" y2="85.69" stroke="#f0e0d8" stroke-width="0.85" stroke-dasharray="1.2,0.7"/>
<line x1="160.61" y1="83.77" x2="156.72" y2="84.23" stroke="#f0e0d8" stroke-width="0.85" stroke-dasharray="1.2,0.7"/>
<line x1="160.92" y1="82.05" x2="158.49" y2="80.80" stroke="#e8c8c0" stroke-width="0.85" stroke-dasharray="1.2,0.7"/>
<line x1="162.44" y1="80.64" x2="161.06" y2="77.32" stroke="#f4d0c8" stroke-width="0.85" stroke-dasharray="1.2,0.7"/>
<line x1="163.69" y1="80.41" x2="163.78" y2="77.48" stroke="#d8b0a8" stroke-width="0.85" stroke-dasharray="1.2,0.7"/>
<line x1="164.90" y1="80.72" x2="166.87" y2="76.69" stroke="#d8b0a8" stroke-width="0.85" stroke-dasharray="1.2,0.7"/>
<line x1="166.38" y1="82.31" x2="170.04" y2="80.85" stroke="#e8c8c0" stroke-width="0.85" stroke-dasharray="1.2,0.7"/>
<path d="M166.64,83.41 L165.12,86.06 L162.06,86.06 L160.54,83.41 L162.06,80.77 L165.12,80.77 Z" stroke="none" stroke-width="0" fill="#c89838" stroke-linejoin="round" />
<line x1="218.12" y1="90.05" x2="220.78" y2="89.80" stroke="#d8b0a8" stroke-width="0.85" stroke-dasharray="1.2,0.7"/>
<line x1="217.92" y1="91.44" x2="220.62" y2="92.53" stroke="#d8b0a8" stroke-width="0.85" stroke-dasharray="1.2,0.7"/>
<line x1="216.64" y1="92.92" x2="218.33" y2="95.84" stroke="#f0e0d8" stroke-width="0.85" stroke-dasharray="1.2,0.7"/>
<line x1="215.33" y1="93.32" x2="215.50" y2="95.87" stroke="#f0e0d8" stroke-width="0.85" stroke-dasharray="1.2,0.7"/>
<line x1="213.97" y1="93.09" x2="212.80" y2="95.85" stroke="#d8b0a8" stroke-width="0.85" stroke-dasharray="1.2,0.7"/>
<line x1="212.45" y1="91.65" x2="209.76" y2="92.98" stroke="#f0e0d8" stroke-width="0.85" stroke-dasharray="1.2,0.7"/>
<line x1="212.16" y1="89.98" x2="209.64" y2="89.69" stroke="#d8b0a8" stroke-width="0.85" stroke-dasharray="1.2,0.7"/>
<line x1="212.38" y1="89.13" x2="209.40" y2="87.84" stroke="#e8c8c0" stroke-width="0.85" stroke-dasharray="1.2,0.7"/>
<line x1="213.35" y1="87.91" x2="210.99" y2="84.73" stroke="#d8b0a8" stroke-width="0.85" stroke-dasharray="1.2,0.7"/>
<line x1="214.83" y1="87.34" x2="214.44" y2="83.54" stroke="#d8b0a8" stroke-width="0.85" stroke-dasharray="1.2,0.7"/>
<line x1="216.87" y1="87.88" x2="219.44" y2="84.24" stroke="#f0e0d8" stroke-width="0.85" stroke-dasharray="1.2,0.7"/>
<line x1="217.88" y1="89.11" x2="220.30" y2="88.04" stroke="#f4d0c8" stroke-width="0.85" stroke-dasharray="1.2,0.7"/>
<path d="M219.09,90.32 L217.11,93.75 L213.16,93.75 L211.18,90.32 L213.16,86.90 L217.11,86.90 Z" stroke="none" stroke-width="0" fill="#8a9a48" stroke-linejoin="round" />
<line x1="198.77" y1="101.26" x2="201.95" y2="100.99" stroke="#ffffff" stroke-width="0.85" stroke-dasharray="1.2,0.7"/>
<line x1="198.45" y1="102.88" x2="201.55" y2="104.48" stroke="#ffffff" stroke-width="0.85" stroke-dasharray="1.2,0.7"/>
<line x1="196.91" y1="104.29" x2="197.93" y2="106.78" stroke="#f0e0d8" stroke-width="0.85" stroke-dasharray="1.2,0.7"/>
<line x1="195.93" y1="104.51" x2="196.09" y2="107.73" stroke="#e8c8c0" stroke-width="0.85" stroke-dasharray="1.2,0.7"/>
<line x1="194.44" y1="104.20" x2="192.71" y2="107.66" stroke="#e8c8c0" stroke-width="0.85" stroke-dasharray="1.2,0.7"/>
<line x1="193.20" y1="103.05" x2="190.20" y2="104.83" stroke="#d8b0a8" stroke-width="0.85" stroke-dasharray="1.2,0.7"/>
<line x1="192.78" y1="101.66" x2="189.85" y2="101.79" stroke="#f0e0d8" stroke-width="0.85" stroke-dasharray="1.2,0.7"/>
<line x1="193.08" y1="100.21" x2="190.79" y2="99.10" stroke="#d8b0a8" stroke-width="0.85" stroke-dasharray="1.2,0.7"/>
<line x1="193.98" y1="99.12" x2="191.51" y2="95.84" stroke="#f0e0d8" stroke-width="0.85" stroke-dasharray="1.2,0.7"/>
<line x1="195.71" y1="98.52" x2="195.63" y2="94.80" stroke="#e8c8c0" stroke-width="0.85" stroke-dasharray="1.2,0.7"/>
<line x1="197.52" y1="99.07" x2="199.57" y2="96.20" stroke="#f0e0d8" stroke-width="0.85" stroke-dasharray="1.2,0.7"/>
<line x1="198.48" y1="100.22" x2="202.12" y2="98.46" stroke="#f4d0c8" stroke-width="0.85" stroke-dasharray="1.2,0.7"/>
<path d="M199.19,101.52 L197.48,104.47 L194.07,104.47 L192.36,101.52 L194.07,98.56 L197.48,98.56 Z" stroke="none" stroke-width="0" fill="#8a9a48" stroke-linejoin="round" />
<line x1="219.21" y1="68.58" x2="223.61" y2="68.94" stroke="#ffffff" stroke-width="0.85" stroke-dasharray="1.2,0.7"/>
<line x1="218.78" y1="69.90" x2="222.08" y2="71.93" stroke="#f0e0d8" stroke-width="0.85" stroke-dasharray="1.2,0.7"/>
<line x1="217.35" y1="71.12" x2="218.82" y2="74.75" stroke="#f0e0d8" stroke-width="0.85" stroke-dasharray="1.2,0.7"/>
<line x1="216.22" y1="71.34" x2="216.23" y2="75.10" stroke="#f4d0c8" stroke-width="0.85" stroke-dasharray="1.2,0.7"/>
<line x1="214.77" y1="70.96" x2="213.00" y2="74.18" stroke="#f4d0c8" stroke-width="0.85" stroke-dasharray="1.2,0.7"/>
<line x1="213.61" y1="69.81" x2="210.81" y2="71.39" stroke="#ffffff" stroke-width="0.85" stroke-dasharray="1.2,0.7"/>
<line x1="213.23" y1="68.09" x2="209.63" y2="67.79" stroke="#e8c8c0" stroke-width="0.85" stroke-dasharray="1.2,0.7"/>
<line x1="213.75" y1="66.63" x2="210.88" y2="64.64" stroke="#f4d0c8" stroke-width="0.85" stroke-dasharray="1.2,0.7"/>
<line x1="215.03" y1="65.58" x2="213.91" y2="63.02" stroke="#d8b0a8" stroke-width="0.85" stroke-dasharray="1.2,0.7"/>
<line x1="216.42" y1="65.34" x2="216.65" y2="62.03" stroke="#f0e0d8" stroke-width="0.85" stroke-dasharray="1.2,0.7"/>
<line x1="218.04" y1="65.95" x2="220.65" y2="62.53" stroke="#e8c8c0" stroke-width="0.85" stroke-dasharray="1.2,0.7"/>
<line x1="218.88" y1="66.95" x2="221.37" y2="65.66" stroke="#f4d0c8" stroke-width="0.85" stroke-dasharray="1.2,0.7"/>
<path d="M220.02,68.34 L218.12,71.63 L214.32,71.63 L212.42,68.34 L214.32,65.04 L218.12,65.04 Z" stroke="none" stroke-width="0" fill="#d0a840" stroke-linejoin="round" />
<line x1="207.13" y1="94.52" x2="211.57" y2="94.05" stroke="#d8b0a8" stroke-width="0.85" stroke-dasharray="1.2,0.7"/>
<line x1="206.94" y1="95.94" x2="211.08" y2="97.57" stroke="#e8c8c0" stroke-width="0.85" stroke-dasharray="1.2,0.7"/>
<line x1="205.48" y1="97.53" x2="207.33" y2="101.28" stroke="#f4d0c8" stroke-width="0.85" stroke-dasharray="1.2,0.7"/>
<line x1="204.39" y1="97.83" x2="204.68" y2="101.47" stroke="#d8b0a8" stroke-width="0.85" stroke-dasharray="1.2,0.7"/>
<line x1="202.89" y1="97.56" x2="201.79" y2="99.92" stroke="#d8b0a8" stroke-width="0.85" stroke-dasharray="1.2,0.7"/>
<line x1="201.40" y1="96.04" x2="197.63" y2="97.68" stroke="#f0e0d8" stroke-width="0.85" stroke-dasharray="1.2,0.7"/>
<line x1="201.16" y1="95.12" x2="197.55" y2="95.46" stroke="#f0e0d8" stroke-width="0.85" stroke-dasharray="1.2,0.7"/>
<line x1="201.37" y1="93.72" x2="197.41" y2="92.12" stroke="#e8c8c0" stroke-width="0.85" stroke-dasharray="1.2,0.7"/>
<line x1="203.03" y1="92.06" x2="201.41" y2="88.04" stroke="#f0e0d8" stroke-width="0.85" stroke-dasharray="1.2,0.7"/>
<line x1="203.97" y1="91.85" x2="203.74" y2="88.05" stroke="#ffffff" stroke-width="0.85" stroke-dasharray="1.2,0.7"/>
<line x1="205.25" y1="92.05" x2="206.23" y2="89.59" stroke="#f0e0d8" stroke-width="0.85" stroke-dasharray="1.2,0.7"/>
<line x1="206.84" y1="93.50" x2="210.50" y2="91.68" stroke="#e8c8c0" stroke-width="0.85" stroke-dasharray="1.2,0.7"/>
<path d="M207.40,94.84 L205.77,97.65 L202.53,97.65 L200.91,94.84 L202.53,92.03 L205.77,92.03 Z" stroke="none" stroke-width="0" fill="#a8a050" stroke-linejoin="round" />
<line x1="187.64" y1="78.39" x2="205.37" y2="77.84" stroke="#f0c8c0" stroke-width="0.8" stroke-dasharray="1.6,0.9"/>
<line x1="187.59" y1="79.38" x2="205.14" y2="83.71" stroke="#ffffff" stroke-width="0.8" stroke-dasharray="1.6,0.9"/>
<line x1="187.45" y1="80.13" x2="203.27" y2="87.59" stroke="#e8d8d0" stroke-width="0.8" stroke-dasharray="1.6,0.9"/>
<line x1="187.49" y1="81.09" x2="197.12" y2="88.24" stroke="#f0c8c0" stroke-width="0.8" stroke-dasharray="1.6,0.9"/>
<line x1="186.93" y1="82.01" x2="197.99" y2="95.22" stroke="#e8d8d0" stroke-width="0.8" stroke-dasharray="1.6,0.9"/>
<line x1="185.64" y1="81.65" x2="189.99" y2="89.96" stroke="#e8d8d0" stroke-width="0.8" stroke-dasharray="1.6,0.9"/>
<line x1="185.11" y1="82.00" x2="189.00" y2="94.29" stroke="#ffffff" stroke-width="0.8" stroke-dasharray="1.6,0.9"/>
<line x1="184.32" y1="81.78" x2="185.90" y2="97.91" stroke="#f4ece8" stroke-width="0.8" stroke-dasharray="1.6,0.9"/>
<line x1="183.54" y1="83.17" x2="182.18" y2="96.90" stroke="#f0c8c0" stroke-width="0.8" stroke-dasharray="1.6,0.9"/>
<line x1="182.94" y1="81.80" x2="177.88" y2="97.56" stroke="#f0c8c0" stroke-width="0.8" stroke-dasharray="1.6,0.9"/>
<line x1="182.09" y1="81.92" x2="176.50" y2="91.93" stroke="#e8d8d0" stroke-width="0.8" stroke-dasharray="1.6,0.9"/>
<line x1="181.09" y1="81.51" x2="168.29" y2="94.75" stroke="#f0c8c0" stroke-width="0.8" stroke-dasharray="1.6,0.9"/>
<line x1="180.68" y1="80.73" x2="169.54" y2="88.19" stroke="#f0c8c0" stroke-width="0.8" stroke-dasharray="1.6,0.9"/>
<line x1="180.05" y1="80.31" x2="162.46" y2="88.36" stroke="#f4ece8" stroke-width="0.8" stroke-dasharray="1.6,0.9"/>
<line x1="180.50" y1="79.22" x2="166.16" y2="82.18" stroke="#e8d8d0" stroke-width="0.8" stroke-dasharray="1.6,0.9"/>
<line x1="180.02" y1="78.68" x2="169.21" y2="79.18" stroke="#e8d8d0" stroke-width="0.8" stroke-dasharray="1.6,0.9"/>
<line x1="179.74" y1="77.62" x2="163.28" y2="74.23" stroke="#ffffff" stroke-width="0.8" stroke-dasharray="1.6,0.9"/>
<line x1="180.59" y1="77.17" x2="170.99" y2="73.43" stroke="#e8d8d0" stroke-width="0.8" stroke-dasharray="1.6,0.9"/>
<line x1="180.54" y1="76.09" x2="170.11" y2="68.82" stroke="#f4ece8" stroke-width="0.8" stroke-dasharray="1.6,0.9"/>
<line x1="180.91" y1="74.95" x2="174.26" y2="67.31" stroke="#f0c8c0" stroke-width="0.8" stroke-dasharray="1.6,0.9"/>
<line x1="182.03" y1="75.17" x2="174.26" y2="62.01" stroke="#e8d8d0" stroke-width="0.8" stroke-dasharray="1.6,0.9"/>
<line x1="182.85" y1="75.14" x2="179.90" y2="66.51" stroke="#f0c8c0" stroke-width="0.8" stroke-dasharray="1.6,0.9"/>
<line x1="183.48" y1="75.00" x2="181.39" y2="61.07" stroke="#ffffff" stroke-width="0.8" stroke-dasharray="1.6,0.9"/>
<line x1="184.28" y1="75.07" x2="185.09" y2="64.93" stroke="#e8d8d0" stroke-width="0.8" stroke-dasharray="1.6,0.9"/>
<line x1="185.58" y1="73.86" x2="190.95" y2="58.10" stroke="#ffffff" stroke-width="0.8" stroke-dasharray="1.6,0.9"/>
<line x1="186.55" y1="74.20" x2="194.21" y2="61.25" stroke="#ffffff" stroke-width="0.8" stroke-dasharray="1.6,0.9"/>
<line x1="186.05" y1="76.14" x2="198.72" y2="61.59" stroke="#e8d8d0" stroke-width="0.8" stroke-dasharray="1.6,0.9"/>
<line x1="187.69" y1="75.55" x2="199.97" y2="65.73" stroke="#f4ece8" stroke-width="0.8" stroke-dasharray="1.6,0.9"/>
<line x1="187.75" y1="76.75" x2="196.21" y2="72.80" stroke="#e8d8d0" stroke-width="0.8" stroke-dasharray="1.6,0.9"/>
<line x1="188.24" y1="77.56" x2="197.72" y2="75.45" stroke="#f0c8c0" stroke-width="0.8" stroke-dasharray="1.6,0.9"/>
<path d="M188.00,78.50 L186.00,81.96 L182.00,81.96 L180.00,78.50 L182.00,75.04 L186.00,75.04 Z" stroke="none" stroke-width="0" fill="#7a8a40" stroke-linejoin="round" />
<circle cx="184.00" cy="78.50" r="2.00" fill="#2a3020" stroke="none" stroke-width="1" />
<defs><radialGradient id="smallg" cx="0.4" cy="0.4" r="0.65"><stop offset="0" stop-color="#8e809c"/><stop offset="0.7" stop-color="#685a78"/><stop offset="1" stop-color="#564868"/></radialGradient></defs>
<line x1="130.98" y1="142.35" x2="134.27" y2="142.17" stroke="#a07060" stroke-width="0.9" />
<line x1="130.65" y1="146.50" x2="133.87" y2="147.20" stroke="#8a7a60" stroke-width="0.9" />
<line x1="129.03" y1="150.76" x2="131.91" y2="152.37" stroke="#7a6050" stroke-width="0.9" />
<line x1="126.87" y1="153.73" x2="129.29" y2="155.97" stroke="#8a7a60" stroke-width="0.9" />
<line x1="124.94" y1="155.50" x2="126.95" y2="158.11" stroke="#a07060" stroke-width="0.9" />
<line x1="121.92" y1="157.31" x2="123.29" y2="160.31" stroke="#8a7a60" stroke-width="0.9" />
<line x1="117.24" y1="158.60" x2="117.61" y2="161.88" stroke="#8a7a60" stroke-width="0.9" />
<line x1="113.96" y1="158.62" x2="113.64" y2="161.91" stroke="#a07060" stroke-width="0.9" />
<line x1="110.83" y1="157.98" x2="109.83" y2="161.12" stroke="#a07060" stroke-width="0.9" />
<line x1="105.74" y1="155.24" x2="103.66" y2="157.80" stroke="#8a7a60" stroke-width="0.9" />
<line x1="103.39" y1="152.88" x2="100.82" y2="154.94" stroke="#7a6050" stroke-width="0.9" />
<line x1="102.32" y1="151.36" x2="99.52" y2="153.10" stroke="#7a6050" stroke-width="0.9" />
<line x1="100.62" y1="147.53" x2="97.45" y2="148.45" stroke="#7a6050" stroke-width="0.9" />
<line x1="100.04" y1="142.15" x2="96.74" y2="141.93" stroke="#6a5a50" stroke-width="0.9" />
<line x1="100.43" y1="139.58" x2="97.22" y2="138.81" stroke="#8a7a60" stroke-width="0.9" />
<line x1="102.11" y1="135.39" x2="99.26" y2="133.73" stroke="#8a7a60" stroke-width="0.9" />
<line x1="103.67" y1="133.18" x2="101.16" y2="131.05" stroke="#8a7a60" stroke-width="0.9" />
<line x1="107.97" y1="129.65" x2="106.37" y2="126.76" stroke="#a07060" stroke-width="0.9" />
<line x1="111.17" y1="128.32" x2="110.25" y2="125.15" stroke="#7a6050" stroke-width="0.9" />
<line x1="112.15" y1="128.07" x2="111.43" y2="124.85" stroke="#8a7a60" stroke-width="0.9" />
<line x1="116.45" y1="127.73" x2="116.66" y2="124.44" stroke="#8a7a60" stroke-width="0.9" />
<line x1="121.83" y1="129.05" x2="123.18" y2="126.04" stroke="#6a5a50" stroke-width="0.9" />
<line x1="124.09" y1="130.30" x2="125.92" y2="127.55" stroke="#8a7a60" stroke-width="0.9" />
<line x1="127.26" y1="133.10" x2="129.76" y2="130.95" stroke="#8a7a60" stroke-width="0.9" />
<line x1="129.35" y1="136.24" x2="132.30" y2="134.76" stroke="#6a5a50" stroke-width="0.9" />
<line x1="130.68" y1="140.07" x2="133.91" y2="139.40" stroke="#7a6050" stroke-width="0.9" />
<circle cx="115.5" cy="143.2" r="16.0" fill="url(#smallg)"/>
<circle cx="125.12" cy="131.02" r="0.45" fill="#8a4a6a" stroke="none" stroke-width="1" />
<circle cx="112.67" cy="134.75" r="0.45" fill="#6a7aa0" stroke="none" stroke-width="1" />
<circle cx="125.22" cy="136.57" r="0.45" fill="#8a4a6a" stroke="none" stroke-width="1" />
<circle cx="105.10" cy="131.70" r="0.45" fill="#5a5a8a" stroke="none" stroke-width="1" />
<circle cx="114.64" cy="147.03" r="0.45" fill="#a08aa0" stroke="none" stroke-width="1" />
<circle cx="127.35" cy="150.57" r="0.45" fill="#a08aa0" stroke="none" stroke-width="1" />
<circle cx="117.27" cy="141.87" r="0.45" fill="#a08aa0" stroke="none" stroke-width="1" />
<circle cx="117.22" cy="128.73" r="0.45" fill="#3a8a8a" stroke="none" stroke-width="1" />
<circle cx="104.75" cy="134.86" r="0.45" fill="#a08aa0" stroke="none" stroke-width="1" />
<circle cx="113.73" cy="134.40" r="0.45" fill="#5a5a8a" stroke="none" stroke-width="1" />
<circle cx="99.93" cy="142.67" r="0.45" fill="#5a5a8a" stroke="none" stroke-width="1" />
<circle cx="120.62" cy="143.43" r="0.45" fill="#6a7aa0" stroke="none" stroke-width="1" />
<circle cx="122.29" cy="144.56" r="0.45" fill="#a08aa0" stroke="none" stroke-width="1" />
<circle cx="113.43" cy="150.93" r="0.45" fill="#3a8a8a" stroke="none" stroke-width="1" />
<circle cx="124.52" cy="142.05" r="0.45" fill="#5a5a8a" stroke="none" stroke-width="1" />
<circle cx="129.77" cy="139.41" r="0.45" fill="#a08aa0" stroke="none" stroke-width="1" />
<circle cx="105.10" cy="153.37" r="0.45" fill="#a08aa0" stroke="none" stroke-width="1" />
<circle cx="108.06" cy="133.74" r="0.45" fill="#6a7aa0" stroke="none" stroke-width="1" />
<circle cx="127.80" cy="152.44" r="0.45" fill="#6a7aa0" stroke="none" stroke-width="1" />
<circle cx="113.84" cy="155.51" r="0.45" fill="#8a4a6a" stroke="none" stroke-width="1" />
<circle cx="125.00" cy="139.19" r="0.45" fill="#5a5a8a" stroke="none" stroke-width="1" />
<circle cx="104.05" cy="141.67" r="0.45" fill="#3a8a8a" stroke="none" stroke-width="1" />
<circle cx="119.20" cy="128.15" r="0.45" fill="#5a5a8a" stroke="none" stroke-width="1" />
<circle cx="127.64" cy="144.74" r="0.45" fill="#8a4a6a" stroke="none" stroke-width="1" />
<circle cx="126.98" cy="147.75" r="0.45" fill="#a08aa0" stroke="none" stroke-width="1" />
<circle cx="106.50" cy="155.12" r="0.45" fill="#6a7aa0" stroke="none" stroke-width="1" />
<circle cx="111.92" cy="130.29" r="0.45" fill="#3a8a8a" stroke="none" stroke-width="1" />
<circle cx="102.60" cy="135.09" r="0.45" fill="#3a8a8a" stroke="none" stroke-width="1" />
<circle cx="123.11" cy="141.41" r="0.45" fill="#a08aa0" stroke="none" stroke-width="1" />
<circle cx="111.86" cy="154.73" r="0.45" fill="#8a4a6a" stroke="none" stroke-width="1" />
<circle cx="109.78" cy="149.78" r="0.45" fill="#5a5a8a" stroke="none" stroke-width="1" />
<circle cx="119.96" cy="136.54" r="0.45" fill="#a08aa0" stroke="none" stroke-width="1" />
<circle cx="126.62" cy="151.81" r="0.45" fill="#6a7aa0" stroke="none" stroke-width="1" />
<circle cx="113.21" cy="138.03" r="0.45" fill="#6a7aa0" stroke="none" stroke-width="1" />
<circle cx="117.90" cy="156.97" r="0.45" fill="#8a4a6a" stroke="none" stroke-width="1" />
<circle cx="109.47" cy="154.54" r="0.45" fill="#3a8a8a" stroke="none" stroke-width="1" />
<circle cx="122.60" cy="148.48" r="0.45" fill="#5a5a8a" stroke="none" stroke-width="1" />
<circle cx="112.14" cy="136.62" r="0.45" fill="#8a4a6a" stroke="none" stroke-width="1" />
<circle cx="127.27" cy="149.67" r="0.45" fill="#8a4a6a" stroke="none" stroke-width="1" />
<circle cx="123.35" cy="136.27" r="0.45" fill="#8a4a6a" stroke="none" stroke-width="1" />
<circle cx="116.16" cy="140.41" r="0.45" fill="#8a4a6a" stroke="none" stroke-width="1" />
<circle cx="109.82" cy="156.28" r="0.45" fill="#6a7aa0" stroke="none" stroke-width="1" />
<circle cx="118.84" cy="150.72" r="0.45" fill="#3a8a8a" stroke="none" stroke-width="1" />
<circle cx="118.67" cy="134.60" r="0.45" fill="#8a4a6a" stroke="none" stroke-width="1" />
<circle cx="105.62" cy="148.53" r="0.45" fill="#5a5a8a" stroke="none" stroke-width="1" />
<circle cx="103.38" cy="145.93" r="0.45" fill="#5a5a8a" stroke="none" stroke-width="1" />
<circle cx="106.76" cy="148.02" r="0.45" fill="#a08aa0" stroke="none" stroke-width="1" />
<circle cx="116.09" cy="144.08" r="0.45" fill="#6a7aa0" stroke="none" stroke-width="1" />
<circle cx="125.74" cy="142.36" r="0.45" fill="#8a4a6a" stroke="none" stroke-width="1" />
<circle cx="125.82" cy="145.33" r="0.45" fill="#6a7aa0" stroke="none" stroke-width="1" />
<circle cx="126.70" cy="140.58" r="0.45" fill="#8a4a6a" stroke="none" stroke-width="1" />
<circle cx="124.81" cy="132.16" r="0.45" fill="#5a5a8a" stroke="none" stroke-width="1" />
<circle cx="121.12" cy="148.48" r="0.45" fill="#3a8a8a" stroke="none" stroke-width="1" />
<circle cx="126.18" cy="135.81" r="0.45" fill="#8a4a6a" stroke="none" stroke-width="1" />
<circle cx="127.28" cy="134.25" r="0.45" fill="#6a7aa0" stroke="none" stroke-width="1" />
<circle cx="125.80" cy="146.50" r="0.45" fill="#3a8a8a" stroke="none" stroke-width="1" />
<circle cx="119.53" cy="150.73" r="0.45" fill="#3a8a8a" stroke="none" stroke-width="1" />
<circle cx="105.59" cy="141.63" r="0.45" fill="#6a7aa0" stroke="none" stroke-width="1" />
<circle cx="119.67" cy="146.82" r="0.45" fill="#6a7aa0" stroke="none" stroke-width="1" />
<circle cx="101.85" cy="145.17" r="0.45" fill="#5a5a8a" stroke="none" stroke-width="1" />
<circle cx="116.49" cy="148.56" r="0.45" fill="#3a8a8a" stroke="none" stroke-width="1" />
<circle cx="122.08" cy="155.41" r="0.45" fill="#8a4a6a" stroke="none" stroke-width="1" />
<circle cx="116.10" cy="141.99" r="0.45" fill="#6a7aa0" stroke="none" stroke-width="1" />
<circle cx="117.76" cy="140.55" r="0.45" fill="#5a5a8a" stroke="none" stroke-width="1" />
<circle cx="115.63" cy="155.46" r="0.45" fill="#6a7aa0" stroke="none" stroke-width="1" />
<circle cx="106.01" cy="148.19" r="0.45" fill="#3a8a8a" stroke="none" stroke-width="1" />
<circle cx="124.05" cy="132.46" r="0.45" fill="#3a8a8a" stroke="none" stroke-width="1" />
<circle cx="118.39" cy="146.08" r="0.45" fill="#3a8a8a" stroke="none" stroke-width="1" />
<circle cx="118.29" cy="139.57" r="0.45" fill="#6a7aa0" stroke="none" stroke-width="1" />
<circle cx="109.33" cy="143.59" r="0.45" fill="#3a8a8a" stroke="none" stroke-width="1" />
<circle cx="108.05" cy="153.29" r="0.45" fill="#6a7aa0" stroke="none" stroke-width="1" />
<circle cx="112.82" cy="150.77" r="0.45" fill="#5a5a8a" stroke="none" stroke-width="1" />
<circle cx="110.48" cy="145.61" r="0.45" fill="#3a8a8a" stroke="none" stroke-width="1" />
<circle cx="113.46" cy="133.80" r="0.45" fill="#3a8a8a" stroke="none" stroke-width="1" />
<circle cx="112.55" cy="141.88" r="0.45" fill="#a08aa0" stroke="none" stroke-width="1" />
<circle cx="104.57" cy="134.78" r="0.45" fill="#a08aa0" stroke="none" stroke-width="1" />
<circle cx="113.38" cy="140.74" r="0.45" fill="#a08aa0" stroke="none" stroke-width="1" />
<circle cx="127.17" cy="147.24" r="0.45" fill="#5a5a8a" stroke="none" stroke-width="1" />
<circle cx="104.09" cy="149.42" r="0.45" fill="#a08aa0" stroke="none" stroke-width="1" />
<circle cx="122.75" cy="144.02" r="0.45" fill="#5a5a8a" stroke="none" stroke-width="1" />
<circle cx="114.09" cy="139.27" r="0.45" fill="#a08aa0" stroke="none" stroke-width="1" />
<circle cx="116.40" cy="148.76" r="0.45" fill="#3a8a8a" stroke="none" stroke-width="1" />
<circle cx="124.29" cy="139.49" r="0.45" fill="#6a7aa0" stroke="none" stroke-width="1" />
<circle cx="117.53" cy="135.48" r="0.45" fill="#a08aa0" stroke="none" stroke-width="1" />
<circle cx="109.99" cy="129.13" r="0.45" fill="#6a7aa0" stroke="none" stroke-width="1" />
<circle cx="118.86" cy="130.91" r="0.45" fill="#5a5a8a" stroke="none" stroke-width="1" />
<circle cx="110.89" cy="141.24" r="0.45" fill="#6a7aa0" stroke="none" stroke-width="1" />
<circle cx="113.26" cy="132.70" r="0.45" fill="#8a4a6a" stroke="none" stroke-width="1" />
<circle cx="116.00" cy="139.96" r="0.45" fill="#3a8a8a" stroke="none" stroke-width="1" />
<circle cx="103.86" cy="138.22" r="0.45" fill="#a08aa0" stroke="none" stroke-width="1" />
<circle cx="116.53" cy="145.36" r="0.45" fill="#3a8a8a" stroke="none" stroke-width="1" />
<circle cx="120.72" cy="144.04" r="0.45" fill="#a08aa0" stroke="none" stroke-width="1" />
<circle cx="123.34" cy="130.16" r="0.45" fill="#6a7aa0" stroke="none" stroke-width="1" />
<circle cx="114.08" cy="147.62" r="0.45" fill="#6a7aa0" stroke="none" stroke-width="1" />
<circle cx="102.35" cy="142.26" r="0.45" fill="#3a8a8a" stroke="none" stroke-width="1" />
<circle cx="110.86" cy="141.55" r="0.45" fill="#6a7aa0" stroke="none" stroke-width="1" />
<circle cx="123.73" cy="146.53" r="0.45" fill="#6a7aa0" stroke="none" stroke-width="1" />
<circle cx="117.34" cy="147.13" r="0.45" fill="#8a4a6a" stroke="none" stroke-width="1" />
<circle cx="109.11" cy="134.86" r="0.45" fill="#a08aa0" stroke="none" stroke-width="1" />
<circle cx="115.28" cy="155.27" r="0.45" fill="#5a5a8a" stroke="none" stroke-width="1" />
<circle cx="101.13" cy="137.86" r="0.45" fill="#a08aa0" stroke="none" stroke-width="1" />
<circle cx="100.12" cy="143.17" r="0.45" fill="#a08aa0" stroke="none" stroke-width="1" />
<circle cx="124.01" cy="130.44" r="0.45" fill="#a08aa0" stroke="none" stroke-width="1" />
<circle cx="110.57" cy="130.57" r="0.45" fill="#6a7aa0" stroke="none" stroke-width="1" />
<circle cx="113.07" cy="137.54" r="0.45" fill="#a08aa0" stroke="none" stroke-width="1" />
<circle cx="120.32" cy="139.58" r="0.45" fill="#3a8a8a" stroke="none" stroke-width="1" />
<circle cx="104.66" cy="143.34" r="0.45" fill="#6a7aa0" stroke="none" stroke-width="1" />
<circle cx="126.87" cy="139.56" r="0.45" fill="#8a4a6a" stroke="none" stroke-width="1" />
<circle cx="124.36" cy="153.42" r="0.45" fill="#8a4a6a" stroke="none" stroke-width="1" />
<circle cx="107.99" cy="138.72" r="0.45" fill="#8a4a6a" stroke="none" stroke-width="1" />
<circle cx="122.31" cy="134.01" r="0.45" fill="#5a5a8a" stroke="none" stroke-width="1" />
<circle cx="108.66" cy="130.50" r="0.45" fill="#6a7aa0" stroke="none" stroke-width="1" />
<circle cx="122.73" cy="133.72" r="0.45" fill="#5a5a8a" stroke="none" stroke-width="1" />
<circle cx="122.14" cy="137.67" r="0.45" fill="#5a5a8a" stroke="none" stroke-width="1" />
<circle cx="105.93" cy="144.44" r="0.45" fill="#8a4a6a" stroke="none" stroke-width="1" />
<circle cx="108.60" cy="139.96" r="0.45" fill="#a08aa0" stroke="none" stroke-width="1" />
<circle cx="116.40" cy="137.36" r="0.45" fill="#a08aa0" stroke="none" stroke-width="1" />
<circle cx="113.38" cy="136.45" r="0.45" fill="#6a7aa0" stroke="none" stroke-width="1" />
<circle cx="122.67" cy="131.02" r="0.45" fill="#6a7aa0" stroke="none" stroke-width="1" />
<circle cx="130.80" cy="145.90" r="0.45" fill="#3a8a8a" stroke="none" stroke-width="1" />
<circle cx="121.63" cy="135.47" r="0.45" fill="#3a8a8a" stroke="none" stroke-width="1" />
<circle cx="108.18" cy="144.72" r="0.45" fill="#8a4a6a" stroke="none" stroke-width="1" />
<circle cx="107.30" cy="132.17" r="0.45" fill="#3a8a8a" stroke="none" stroke-width="1" />
<circle cx="129.43" cy="139.50" r="0.45" fill="#8a4a6a" stroke="none" stroke-width="1" />
<circle cx="126.09" cy="134.46" r="0.45" fill="#8a4a6a" stroke="none" stroke-width="1" />
<circle cx="120.53" cy="155.29" r="0.45" fill="#3a8a8a" stroke="none" stroke-width="1" />
<circle cx="121.86" cy="138.56" r="0.45" fill="#3a8a8a" stroke="none" stroke-width="1" />
<circle cx="111.56" cy="152.55" r="0.45" fill="#3a8a8a" stroke="none" stroke-width="1" />
<circle cx="121.41" cy="148.61" r="0.45" fill="#5a5a8a" stroke="none" stroke-width="1" />
<circle cx="125.72" cy="145.56" r="0.45" fill="#5a5a8a" stroke="none" stroke-width="1" />
<circle cx="124.52" cy="143.59" r="0.45" fill="#a08aa0" stroke="none" stroke-width="1" />
<circle cx="112.33" cy="146.19" r="0.45" fill="#6a7aa0" stroke="none" stroke-width="1" />
<circle cx="114.98" cy="132.30" r="0.45" fill="#8a4a6a" stroke="none" stroke-width="1" />
<circle cx="110.32" cy="141.72" r="0.45" fill="#5a5a8a" stroke="none" stroke-width="1" />
<circle cx="124.60" cy="147.93" r="0.45" fill="#a08aa0" stroke="none" stroke-width="1" />
<circle cx="126.79" cy="133.52" r="0.45" fill="#3a8a8a" stroke="none" stroke-width="1" />
<circle cx="102.64" cy="140.94" r="0.45" fill="#5a5a8a" stroke="none" stroke-width="1" />
<circle cx="115.89" cy="134.73" r="0.45" fill="#5a5a8a" stroke="none" stroke-width="1" />
<circle cx="127.35" cy="152.65" r="0.45" fill="#5a5a8a" stroke="none" stroke-width="1" />
<circle cx="110.18" cy="133.10" r="0.45" fill="#3a8a8a" stroke="none" stroke-width="1" />
<circle cx="109.95" cy="133.56" r="0.45" fill="#3a8a8a" stroke="none" stroke-width="1" />
<circle cx="112.94" cy="130.61" r="0.45" fill="#6a7aa0" stroke="none" stroke-width="1" />
<circle cx="114.89" cy="130.68" r="0.45" fill="#8a4a6a" stroke="none" stroke-width="1" />
<circle cx="121.84" cy="156.48" r="0.45" fill="#a08aa0" stroke="none" stroke-width="1" />
<circle cx="126.27" cy="153.72" r="0.45" fill="#8a4a6a" stroke="none" stroke-width="1" />
<circle cx="126.51" cy="137.22" r="0.45" fill="#6a7aa0" stroke="none" stroke-width="1" />
<circle cx="108.00" cy="147.31" r="0.45" fill="#8a4a6a" stroke="none" stroke-width="1" />
<circle cx="107.09" cy="145.49" r="0.45" fill="#8a4a6a" stroke="none" stroke-width="1" />
<circle cx="114.09" cy="138.29" r="0.45" fill="#8a4a6a" stroke="none" stroke-width="1" />
<circle cx="115.82" cy="131.71" r="0.45" fill="#a08aa0" stroke="none" stroke-width="1" />
<circle cx="110.40" cy="149.42" r="0.45" fill="#a08aa0" stroke="none" stroke-width="1" />
<circle cx="120.94" cy="145.10" r="0.45" fill="#a08aa0" stroke="none" stroke-width="1" />
<circle cx="107.75" cy="142.97" r="0.45" fill="#6a7aa0" stroke="none" stroke-width="1" />
<circle cx="110.03" cy="150.34" r="0.45" fill="#a08aa0" stroke="none" stroke-width="1" />
<circle cx="102.21" cy="147.68" r="0.45" fill="#3a8a8a" stroke="none" stroke-width="1" />
<circle cx="106.86" cy="154.66" r="0.45" fill="#3a8a8a" stroke="none" stroke-width="1" />
<circle cx="122.44" cy="152.96" r="0.45" fill="#3a8a8a" stroke="none" stroke-width="1" />
<circle cx="101.82" cy="137.35" r="0.45" fill="#3a8a8a" stroke="none" stroke-width="1" />
<circle cx="118.20" cy="149.42" r="0.45" fill="#a08aa0" stroke="none" stroke-width="1" />
<circle cx="110.81" cy="134.65" r="0.45" fill="#8a4a6a" stroke="none" stroke-width="1" />
<circle cx="110.50" cy="139.94" r="0.45" fill="#a08aa0" stroke="none" stroke-width="1" />
<circle cx="118.93" cy="132.21" r="0.45" fill="#8a4a6a" stroke="none" stroke-width="1" />
<circle cx="109.13" cy="140.28" r="0.45" fill="#5a5a8a" stroke="none" stroke-width="1" />
<circle cx="109.74" cy="149.37" r="0.45" fill="#a08aa0" stroke="none" stroke-width="1" />
<circle cx="127.28" cy="133.60" r="0.45" fill="#a08aa0" stroke="none" stroke-width="1" />
<circle cx="109.52" cy="156.79" r="0.45" fill="#5a5a8a" stroke="none" stroke-width="1" />
<circle cx="105.21" cy="131.72" r="0.45" fill="#5a5a8a" stroke="none" stroke-width="1" />
<circle cx="125.60" cy="135.43" r="0.45" fill="#3a8a8a" stroke="none" stroke-width="1" />
<circle cx="104.81" cy="135.29" r="0.45" fill="#3a8a8a" stroke="none" stroke-width="1" />
<circle cx="126.08" cy="151.68" r="0.45" fill="#8a4a6a" stroke="none" stroke-width="1" />
<circle cx="104.23" cy="143.78" r="0.45" fill="#a08aa0" stroke="none" stroke-width="1" />
<circle cx="119.85" cy="156.29" r="0.45" fill="#8a4a6a" stroke="none" stroke-width="1" />
<circle cx="126.23" cy="145.75" r="0.45" fill="#a08aa0" stroke="none" stroke-width="1" />
<circle cx="121.84" cy="148.55" r="0.45" fill="#8a4a6a" stroke="none" stroke-width="1" />
<circle cx="124.64" cy="153.65" r="0.45" fill="#6a7aa0" stroke="none" stroke-width="1" />
<circle cx="117.71" cy="142.05" r="0.45" fill="#6a7aa0" stroke="none" stroke-width="1" />
<circle cx="115.95" cy="147.53" r="0.45" fill="#6a7aa0" stroke="none" stroke-width="1" />
<circle cx="124.52" cy="144.28" r="0.45" fill="#5a5a8a" stroke="none" stroke-width="1" />
<circle cx="124.43" cy="133.75" r="0.45" fill="#8a4a6a" stroke="none" stroke-width="1" />
<circle cx="128.00" cy="150.12" r="0.45" fill="#3a8a8a" stroke="none" stroke-width="1" />
<circle cx="112.65" cy="130.09" r="0.45" fill="#5a5a8a" stroke="none" stroke-width="1" />
<circle cx="122.56" cy="143.10" r="0.45" fill="#3a8a8a" stroke="none" stroke-width="1" />
<circle cx="122.14" cy="135.32" r="0.45" fill="#8a4a6a" stroke="none" stroke-width="1" />
<circle cx="110.37" cy="143.68" r="0.45" fill="#3a8a8a" stroke="none" stroke-width="1" />
<circle cx="103.47" cy="151.00" r="0.45" fill="#8a4a6a" stroke="none" stroke-width="1" />
<circle cx="107.17" cy="149.96" r="0.45" fill="#3a8a8a" stroke="none" stroke-width="1" />
<circle cx="105.65" cy="140.84" r="0.45" fill="#a08aa0" stroke="none" stroke-width="1" />
<circle cx="111.92" cy="153.21" r="0.45" fill="#a08aa0" stroke="none" stroke-width="1" />
<circle cx="105.76" cy="147.17" r="0.45" fill="#3a8a8a" stroke="none" stroke-width="1" />
<circle cx="113.71" cy="133.92" r="0.45" fill="#5a5a8a" stroke="none" stroke-width="1" />
<circle cx="106.62" cy="146.22" r="0.45" fill="#a08aa0" stroke="none" stroke-width="1" />
<circle cx="115.63" cy="144.00" r="0.45" fill="#8a4a6a" stroke="none" stroke-width="1" />
<circle cx="114.98" cy="152.67" r="0.45" fill="#a08aa0" stroke="none" stroke-width="1" />
<circle cx="109.42" cy="141.89" r="0.45" fill="#3a8a8a" stroke="none" stroke-width="1" />
<circle cx="120.23" cy="151.91" r="0.45" fill="#8a4a6a" stroke="none" stroke-width="1" />
<circle cx="111.70" cy="138.79" r="0.45" fill="#6a7aa0" stroke="none" stroke-width="1" />
<circle cx="120.87" cy="152.71" r="0.45" fill="#3a8a8a" stroke="none" stroke-width="1" />
<circle cx="120.89" cy="134.89" r="0.45" fill="#5a5a8a" stroke="none" stroke-width="1" />
<circle cx="104.56" cy="150.36" r="0.45" fill="#3a8a8a" stroke="none" stroke-width="1" />
<circle cx="115.71" cy="146.28" r="0.45" fill="#a08aa0" stroke="none" stroke-width="1" />
<circle cx="130.61" cy="145.76" r="0.45" fill="#8a4a6a" stroke="none" stroke-width="1" />
<circle cx="116.02" cy="152.91" r="0.45" fill="#8a4a6a" stroke="none" stroke-width="1" />
<circle cx="121.78" cy="153.78" r="0.45" fill="#5a5a8a" stroke="none" stroke-width="1" />
<circle cx="125.76" cy="136.93" r="0.45" fill="#5a5a8a" stroke="none" stroke-width="1" />
<circle cx="113.33" cy="156.87" r="0.45" fill="#a08aa0" stroke="none" stroke-width="1" />
<circle cx="119.23" cy="128.37" r="0.45" fill="#a08aa0" stroke="none" stroke-width="1" />
<circle cx="115.50" cy="151.24" r="0.45" fill="#5a5a8a" stroke="none" stroke-width="1" />
<circle cx="109.19" cy="136.56" r="0.45" fill="#3a8a8a" stroke="none" stroke-width="1" />
<circle cx="125.14" cy="146.79" r="0.45" fill="#3a8a8a" stroke="none" stroke-width="1" />
<circle cx="114.71" cy="142.68" r="0.45" fill="#3a8a8a" stroke="none" stroke-width="1" />
<circle cx="114.59" cy="141.25" r="0.45" fill="#6a7aa0" stroke="none" stroke-width="1" />
<circle cx="119.03" cy="144.03" r="0.45" fill="#6a7aa0" stroke="none" stroke-width="1" />
<circle cx="121.16" cy="139.10" r="0.45" fill="#a08aa0" stroke="none" stroke-width="1" />
<circle cx="109.72" cy="152.31" r="0.45" fill="#5a5a8a" stroke="none" stroke-width="1" />
<circle cx="118.18" cy="142.14" r="0.45" fill="#5a5a8a" stroke="none" stroke-width="1" />
<circle cx="115.62" cy="130.81" r="0.45" fill="#a08aa0" stroke="none" stroke-width="1" />
<circle cx="122.70" cy="147.63" r="0.45" fill="#a08aa0" stroke="none" stroke-width="1" />
<circle cx="122.82" cy="149.62" r="0.45" fill="#5a5a8a" stroke="none" stroke-width="1" />
<circle cx="102.10" cy="140.07" r="0.45" fill="#a08aa0" stroke="none" stroke-width="1" />
<circle cx="121.62" cy="155.14" r="0.45" fill="#a08aa0" stroke="none" stroke-width="1" />
<circle cx="121.45" cy="133.24" r="0.45" fill="#8a4a6a" stroke="none" stroke-width="1" />
<circle cx="108.96" cy="150.82" r="0.45" fill="#8a4a6a" stroke="none" stroke-width="1" />
<circle cx="103.21" cy="147.67" r="0.45" fill="#5a5a8a" stroke="none" stroke-width="1" />
<circle cx="114.72" cy="149.58" r="0.45" fill="#6a7aa0" stroke="none" stroke-width="1" />
<circle cx="126.71" cy="136.58" r="0.45" fill="#a08aa0" stroke="none" stroke-width="1" />
<circle cx="121.73" cy="144.91" r="0.45" fill="#3a8a8a" stroke="none" stroke-width="1" />
<circle cx="117.59" cy="138.96" r="0.45" fill="#3a8a8a" stroke="none" stroke-width="1" />
<circle cx="110.35" cy="154.13" r="0.45" fill="#3a8a8a" stroke="none" stroke-width="1" />
<circle cx="126.02" cy="133.13" r="0.45" fill="#a08aa0" stroke="none" stroke-width="1" />
<circle cx="101.29" cy="146.24" r="0.45" fill="#5a5a8a" stroke="none" stroke-width="1" />
<line x1="201.67" y1="156.09" x2="203.76" y2="156.31" stroke="#7a6050" stroke-width="0.9" />
<line x1="201.34" y1="157.50" x2="203.30" y2="158.24" stroke="#8a7a60" stroke-width="0.9" />
<line x1="199.28" y1="160.16" x2="200.49" y2="161.88" stroke="#7a6050" stroke-width="0.9" />
<line x1="197.46" y1="161.01" x2="197.99" y2="163.04" stroke="#6a5a50" stroke-width="0.9" />
<line x1="195.19" y1="161.14" x2="194.89" y2="163.22" stroke="#7a6050" stroke-width="0.9" />
<line x1="192.15" y1="159.71" x2="190.74" y2="161.26" stroke="#a07060" stroke-width="0.9" />
<line x1="191.01" y1="158.25" x2="189.17" y2="159.26" stroke="#7a6050" stroke-width="0.9" />
<line x1="190.33" y1="154.93" x2="188.24" y2="154.72" stroke="#a07060" stroke-width="0.9" />
<line x1="190.91" y1="152.94" x2="189.03" y2="151.99" stroke="#7a6050" stroke-width="0.9" />
<line x1="192.10" y1="151.35" x2="190.66" y2="149.82" stroke="#6a5a50" stroke-width="0.9" />
<line x1="195.28" y1="149.85" x2="195.02" y2="147.76" stroke="#a07060" stroke-width="0.9" />
<line x1="197.67" y1="150.05" x2="198.29" y2="148.04" stroke="#8a7a60" stroke-width="0.9" />
<line x1="199.56" y1="151.05" x2="200.87" y2="149.41" stroke="#6a5a50" stroke-width="0.9" />
<line x1="201.28" y1="153.34" x2="203.22" y2="152.55" stroke="#a07060" stroke-width="0.9" />
<circle cx="196.0" cy="155.5" r="6.2" fill="url(#smallg)"/>
<circle cx="191.33" cy="156.47" r="0.45" fill="#3a8a8a" stroke="none" stroke-width="1" />
<circle cx="196.93" cy="153.70" r="0.45" fill="#3a8a8a" stroke="none" stroke-width="1" />
<circle cx="197.22" cy="154.01" r="0.45" fill="#5a5a8a" stroke="none" stroke-width="1" />
<circle cx="199.54" cy="157.62" r="0.45" fill="#8a4a6a" stroke="none" stroke-width="1" />
<circle cx="198.28" cy="151.06" r="0.45" fill="#3a8a8a" stroke="none" stroke-width="1" />
<circle cx="192.69" cy="151.40" r="0.45" fill="#5a5a8a" stroke="none" stroke-width="1" />
<circle cx="191.97" cy="158.32" r="0.45" fill="#3a8a8a" stroke="none" stroke-width="1" />
<circle cx="194.47" cy="161.17" r="0.45" fill="#a08aa0" stroke="none" stroke-width="1" />
<circle cx="197.09" cy="152.98" r="0.45" fill="#6a7aa0" stroke="none" stroke-width="1" />
<circle cx="199.30" cy="155.66" r="0.45" fill="#3a8a8a" stroke="none" stroke-width="1" />
<circle cx="194.56" cy="157.72" r="0.45" fill="#3a8a8a" stroke="none" stroke-width="1" />
<circle cx="200.45" cy="153.20" r="0.45" fill="#5a5a8a" stroke="none" stroke-width="1" />
<circle cx="191.69" cy="157.77" r="0.45" fill="#6a7aa0" stroke="none" stroke-width="1" />
<circle cx="193.00" cy="155.15" r="0.45" fill="#3a8a8a" stroke="none" stroke-width="1" />
<circle cx="193.98" cy="158.91" r="0.45" fill="#3a8a8a" stroke="none" stroke-width="1" />
<circle cx="195.98" cy="158.94" r="0.45" fill="#8a4a6a" stroke="none" stroke-width="1" />
<circle cx="195.16" cy="149.91" r="0.45" fill="#6a7aa0" stroke="none" stroke-width="1" />
<circle cx="191.04" cy="156.66" r="0.45" fill="#a08aa0" stroke="none" stroke-width="1" />
<circle cx="194.22" cy="157.45" r="0.45" fill="#6a7aa0" stroke="none" stroke-width="1" />
<circle cx="200.00" cy="154.19" r="0.45" fill="#a08aa0" stroke="none" stroke-width="1" />
<circle cx="191.45" cy="156.39" r="0.45" fill="#3a8a8a" stroke="none" stroke-width="1" />
<circle cx="194.47" cy="161.14" r="0.45" fill="#8a4a6a" stroke="none" stroke-width="1" />
<circle cx="196.79" cy="154.86" r="0.45" fill="#8a4a6a" stroke="none" stroke-width="1" />
<circle cx="194.80" cy="159.69" r="0.45" fill="#a08aa0" stroke="none" stroke-width="1" />
<circle cx="201.05" cy="156.82" r="0.45" fill="#5a5a8a" stroke="none" stroke-width="1" />
<circle cx="194.83" cy="155.56" r="0.45" fill="#a08aa0" stroke="none" stroke-width="1" />
<circle cx="195.74" cy="150.28" r="0.45" fill="#5a5a8a" stroke="none" stroke-width="1" />
<circle cx="198.51" cy="158.65" r="0.45" fill="#a08aa0" stroke="none" stroke-width="1" />
<circle cx="193.43" cy="156.45" r="0.45" fill="#a08aa0" stroke="none" stroke-width="1" />
<circle cx="196.40" cy="150.46" r="0.45" fill="#a08aa0" stroke="none" stroke-width="1" />
<circle cx="201.61" cy="154.78" r="0.45" fill="#5a5a8a" stroke="none" stroke-width="1" />
<circle cx="199.72" cy="154.10" r="0.45" fill="#a08aa0" stroke="none" stroke-width="1" />
<circle cx="190.04" cy="156.48" r="0.45" fill="#8a4a6a" stroke="none" stroke-width="1" />
<circle cx="192.45" cy="159.81" r="0.45" fill="#5a5a8a" stroke="none" stroke-width="1" />
<line x1="231.56" y1="150.93" x2="234.05" y2="150.69" stroke="#6a5a50" stroke-width="0.9" />
<line x1="230.80" y1="155.47" x2="233.07" y2="156.51" stroke="#6a5a50" stroke-width="0.9" />
<line x1="229.24" y1="157.80" x2="231.07" y2="159.50" stroke="#7a6050" stroke-width="0.9" />
<line x1="227.95" y1="158.93" x2="229.41" y2="160.96" stroke="#a07060" stroke-width="0.9" />
<line x1="224.26" y1="160.48" x2="224.68" y2="162.94" stroke="#a07060" stroke-width="0.9" />
<line x1="220.46" y1="160.28" x2="219.80" y2="162.69" stroke="#7a6050" stroke-width="0.9" />
<line x1="218.88" y1="159.68" x2="217.77" y2="161.92" stroke="#8a7a60" stroke-width="0.9" />
<line x1="216.23" y1="157.66" x2="214.37" y2="159.32" stroke="#6a5a50" stroke-width="0.9" />
<line x1="214.27" y1="153.97" x2="211.85" y2="154.58" stroke="#7a6050" stroke-width="0.9" />
<line x1="214.00" y1="151.82" x2="211.50" y2="151.82" stroke="#a07060" stroke-width="0.9" />
<line x1="214.27" y1="149.65" x2="211.84" y2="149.04" stroke="#8a7a60" stroke-width="0.9" />
<line x1="216.56" y1="145.59" x2="214.79" y2="143.83" stroke="#7a6050" stroke-width="0.9" />
<line x1="218.57" y1="144.09" x2="217.36" y2="141.89" stroke="#7a6050" stroke-width="0.9" />
<line x1="221.18" y1="143.15" x2="220.72" y2="140.69" stroke="#6a5a50" stroke-width="0.9" />
<line x1="223.87" y1="143.06" x2="224.17" y2="140.58" stroke="#8a7a60" stroke-width="0.9" />
<line x1="227.07" y1="144.10" x2="228.28" y2="141.92" stroke="#6a5a50" stroke-width="0.9" />
<line x1="229.35" y1="145.92" x2="231.21" y2="144.25" stroke="#7a6050" stroke-width="0.9" />
<line x1="231.02" y1="148.67" x2="233.36" y2="147.78" stroke="#a07060" stroke-width="0.9" />
<circle cx="222.8" cy="151.8" r="9.3" fill="url(#smallg)"/>
<circle cx="229.75" cy="147.54" r="0.45" fill="#8a4a6a" stroke="none" stroke-width="1" />
<circle cx="230.29" cy="149.55" r="0.45" fill="#a08aa0" stroke="none" stroke-width="1" />
<circle cx="214.55" cy="151.34" r="0.45" fill="#6a7aa0" stroke="none" stroke-width="1" />
<circle cx="223.58" cy="152.67" r="0.45" fill="#3a8a8a" stroke="none" stroke-width="1" />
<circle cx="230.03" cy="152.58" r="0.45" fill="#a08aa0" stroke="none" stroke-width="1" />
<circle cx="215.56" cy="153.30" r="0.45" fill="#6a7aa0" stroke="none" stroke-width="1" />
<circle cx="217.30" cy="151.27" r="0.45" fill="#8a4a6a" stroke="none" stroke-width="1" />
<circle cx="222.13" cy="154.17" r="0.45" fill="#8a4a6a" stroke="none" stroke-width="1" />
<circle cx="229.50" cy="151.47" r="0.45" fill="#a08aa0" stroke="none" stroke-width="1" />
<circle cx="223.71" cy="145.83" r="0.45" fill="#5a5a8a" stroke="none" stroke-width="1" />
<circle cx="224.79" cy="146.04" r="0.45" fill="#6a7aa0" stroke="none" stroke-width="1" />
<circle cx="225.65" cy="156.01" r="0.45" fill="#6a7aa0" stroke="none" stroke-width="1" />
<circle cx="228.94" cy="153.28" r="0.45" fill="#8a4a6a" stroke="none" stroke-width="1" />
<circle cx="226.90" cy="144.07" r="0.45" fill="#6a7aa0" stroke="none" stroke-width="1" />
<circle cx="222.05" cy="156.84" r="0.45" fill="#6a7aa0" stroke="none" stroke-width="1" />
<circle cx="216.78" cy="149.85" r="0.45" fill="#5a5a8a" stroke="none" stroke-width="1" />
<circle cx="224.54" cy="144.13" r="0.45" fill="#5a5a8a" stroke="none" stroke-width="1" />
<circle cx="228.73" cy="156.25" r="0.45" fill="#5a5a8a" stroke="none" stroke-width="1" />
<circle cx="228.98" cy="153.13" r="0.45" fill="#a08aa0" stroke="none" stroke-width="1" />
<circle cx="225.74" cy="159.99" r="0.45" fill="#8a4a6a" stroke="none" stroke-width="1" />
<circle cx="217.80" cy="144.56" r="0.45" fill="#a08aa0" stroke="none" stroke-width="1" />
<circle cx="220.89" cy="156.12" r="0.45" fill="#3a8a8a" stroke="none" stroke-width="1" />
<circle cx="227.59" cy="150.03" r="0.45" fill="#a08aa0" stroke="none" stroke-width="1" />
<circle cx="221.19" cy="151.22" r="0.45" fill="#a08aa0" stroke="none" stroke-width="1" />
<circle cx="222.79" cy="160.77" r="0.45" fill="#3a8a8a" stroke="none" stroke-width="1" />
<circle cx="213.94" cy="152.07" r="0.45" fill="#3a8a8a" stroke="none" stroke-width="1" />
<circle cx="221.82" cy="148.89" r="0.45" fill="#3a8a8a" stroke="none" stroke-width="1" />
<circle cx="217.23" cy="145.79" r="0.45" fill="#3a8a8a" stroke="none" stroke-width="1" />
<circle cx="231.16" cy="148.62" r="0.45" fill="#3a8a8a" stroke="none" stroke-width="1" />
<circle cx="214.63" cy="155.56" r="0.45" fill="#a08aa0" stroke="none" stroke-width="1" />
<circle cx="222.05" cy="158.46" r="0.45" fill="#3a8a8a" stroke="none" stroke-width="1" />
<circle cx="225.68" cy="157.43" r="0.45" fill="#8a4a6a" stroke="none" stroke-width="1" />
<circle cx="228.12" cy="158.59" r="0.45" fill="#8a4a6a" stroke="none" stroke-width="1" />
<circle cx="220.52" cy="146.04" r="0.45" fill="#a08aa0" stroke="none" stroke-width="1" />
<circle cx="220.74" cy="149.07" r="0.45" fill="#3a8a8a" stroke="none" stroke-width="1" />
<circle cx="225.84" cy="158.30" r="0.45" fill="#5a5a8a" stroke="none" stroke-width="1" />
<circle cx="225.85" cy="159.44" r="0.45" fill="#8a4a6a" stroke="none" stroke-width="1" />
<circle cx="231.27" cy="154.48" r="0.45" fill="#6a7aa0" stroke="none" stroke-width="1" />
<circle cx="224.58" cy="159.60" r="0.45" fill="#a08aa0" stroke="none" stroke-width="1" />
<circle cx="215.86" cy="157.55" r="0.45" fill="#5a5a8a" stroke="none" stroke-width="1" />
<circle cx="225.24" cy="153.68" r="0.45" fill="#5a5a8a" stroke="none" stroke-width="1" />
<circle cx="226.56" cy="155.65" r="0.45" fill="#6a7aa0" stroke="none" stroke-width="1" />
<circle cx="226.32" cy="153.65" r="0.45" fill="#5a5a8a" stroke="none" stroke-width="1" />
<circle cx="231.77" cy="151.63" r="0.45" fill="#8a4a6a" stroke="none" stroke-width="1" />
<circle cx="228.96" cy="154.43" r="0.45" fill="#a08aa0" stroke="none" stroke-width="1" />
<circle cx="229.43" cy="156.86" r="0.45" fill="#a08aa0" stroke="none" stroke-width="1" />
<circle cx="228.08" cy="152.51" r="0.45" fill="#a08aa0" stroke="none" stroke-width="1" />
<circle cx="217.19" cy="149.21" r="0.45" fill="#6a7aa0" stroke="none" stroke-width="1" />
<circle cx="221.61" cy="155.09" r="0.45" fill="#a08aa0" stroke="none" stroke-width="1" />
<circle cx="224.82" cy="148.28" r="0.45" fill="#6a7aa0" stroke="none" stroke-width="1" />
<circle cx="220.58" cy="159.33" r="0.45" fill="#8a4a6a" stroke="none" stroke-width="1" />
<circle cx="220.17" cy="159.78" r="0.45" fill="#8a4a6a" stroke="none" stroke-width="1" />
<circle cx="219.41" cy="159.38" r="0.45" fill="#8a4a6a" stroke="none" stroke-width="1" />
<circle cx="231.27" cy="154.73" r="0.45" fill="#a08aa0" stroke="none" stroke-width="1" />
<circle cx="219.92" cy="149.28" r="0.45" fill="#6a7aa0" stroke="none" stroke-width="1" />
<circle cx="231.22" cy="152.54" r="0.45" fill="#a08aa0" stroke="none" stroke-width="1" />
<circle cx="230.29" cy="151.40" r="0.45" fill="#6a7aa0" stroke="none" stroke-width="1" />
<circle cx="221.25" cy="147.31" r="0.45" fill="#a08aa0" stroke="none" stroke-width="1" />
<circle cx="216.97" cy="150.29" r="0.45" fill="#8a4a6a" stroke="none" stroke-width="1" />
<circle cx="219.23" cy="149.52" r="0.45" fill="#a08aa0" stroke="none" stroke-width="1" />
<circle cx="217.26" cy="151.58" r="0.45" fill="#5a5a8a" stroke="none" stroke-width="1" />
<circle cx="216.41" cy="147.69" r="0.45" fill="#5a5a8a" stroke="none" stroke-width="1" />
<circle cx="228.17" cy="145.49" r="0.45" fill="#5a5a8a" stroke="none" stroke-width="1" />
<circle cx="227.69" cy="151.06" r="0.45" fill="#8a4a6a" stroke="none" stroke-width="1" />
<circle cx="227.39" cy="156.28" r="0.45" fill="#5a5a8a" stroke="none" stroke-width="1" />
<circle cx="222.20" cy="147.32" r="0.45" fill="#a08aa0" stroke="none" stroke-width="1" />
<circle cx="228.77" cy="150.54" r="0.45" fill="#a08aa0" stroke="none" stroke-width="1" />
<circle cx="218.72" cy="158.74" r="0.45" fill="#8a4a6a" stroke="none" stroke-width="1" />
<circle cx="229.37" cy="151.24" r="0.45" fill="#a08aa0" stroke="none" stroke-width="1" />
<circle cx="224.86" cy="151.73" r="0.45" fill="#a08aa0" stroke="none" stroke-width="1" />
<circle cx="215.35" cy="155.57" r="0.45" fill="#5a5a8a" stroke="none" stroke-width="1" />
<circle cx="230.60" cy="154.85" r="0.45" fill="#a08aa0" stroke="none" stroke-width="1" />
<circle cx="223.40" cy="154.21" r="0.45" fill="#6a7aa0" stroke="none" stroke-width="1" />
<circle cx="224.28" cy="158.35" r="0.45" fill="#3a8a8a" stroke="none" stroke-width="1" />
<circle cx="215.14" cy="155.34" r="0.45" fill="#6a7aa0" stroke="none" stroke-width="1" />
<circle cx="219.60" cy="155.60" r="0.45" fill="#6a7aa0" stroke="none" stroke-width="1" />
<circle cx="218.66" cy="156.15" r="0.45" fill="#3a8a8a" stroke="none" stroke-width="1" />
<path d="M279.53,14.10 L275.20,16.60 L270.87,14.10 L270.87,9.10 L275.20,6.60 L279.53,9.10 Z" stroke="#4a4a4a" stroke-width="0.85" fill="none" stroke-linejoin="round" />
<path d="M278.45,13.47 L275.20,15.35" stroke="#4a4a4a" stroke-width="0.765" fill="none" stroke-linejoin="round" />
<path d="M271.95,13.47 L271.95,9.72" stroke="#4a4a4a" stroke-width="0.765" fill="none" stroke-linejoin="round" />
<path d="M275.20,7.85 L278.45,9.72" stroke="#4a4a4a" stroke-width="0.765" fill="none" stroke-linejoin="round" />
<path d="M279.50,14.10 L284.00,16.50" stroke="#4a4a4a" stroke-width="0.85" fill="none" stroke-linejoin="round" />
<text x="285.60" y="21.60" font-size="3.7" font-weight="bold" fill="#333333" stroke="#333333" stroke-width="0.12" text-anchor="middle" font-family='"Liberation Sans", sans-serif' >NH</text>
<path d="M286.50,16.50 L290.50,14.00 L295.20,16.40" stroke="#4a4a4a" stroke-width="0.85" fill="none" stroke-linejoin="round" />
<path d="M290.50,14.00 L290.50,10.20" stroke="#4a4a4a" stroke-width="0.85" fill="none" stroke-linejoin="round" />
<path d="M291.30,14.00 L291.30,10.20" stroke="#4a4a4a" stroke-width="0.85" fill="none" stroke-linejoin="round" />
<text x="290.80" y="9.60" font-size="3.7" font-weight="bold" fill="#333333" stroke="#333333" stroke-width="0.12" text-anchor="middle" font-family='"Liberation Sans", sans-serif' >O</text>
<path d="M299.80,14.90 L303.89,17.87 L302.33,22.68 L297.27,22.68 L295.71,17.87 Z" stroke="#4a4a4a" stroke-width="0.85" fill="none" stroke-linejoin="round" />
<path d="M299.80,14.90 L299.80,10.00 L295.80,6.50" stroke="#4a4a4a" stroke-width="0.85" fill="none" stroke-linejoin="round" />
<path d="M299.80,10.00 L304.00,6.50" stroke="#4a4a4a" stroke-width="0.85" fill="none" stroke-linejoin="round" />
<text x="305.40" y="20.20" font-size="3.7" font-weight="bold" fill="#333333" stroke="#333333" stroke-width="0.12" text-anchor="middle" font-family='"Liberation Sans", sans-serif' >N</text>
<path d="M297.27,22.68 L293.00,27.00" stroke="#4a4a4a" stroke-width="0.85" fill="none" stroke-linejoin="round" />
<path d="M295.53,35.10 L291.20,37.60 L286.87,35.10 L286.87,30.10 L291.20,27.60 L295.53,30.10 Z" stroke="#4a4a4a" stroke-width="0.85" fill="none" stroke-linejoin="round" />
<path d="M294.45,34.48 L291.20,36.35" stroke="#4a4a4a" stroke-width="0.765" fill="none" stroke-linejoin="round" />
<path d="M287.95,34.48 L287.95,30.73" stroke="#4a4a4a" stroke-width="0.765" fill="none" stroke-linejoin="round" />
<path d="M291.20,28.85 L294.45,30.72" stroke="#4a4a4a" stroke-width="0.765" fill="none" stroke-linejoin="round" />
<path d="M302.33,22.68 L306.50,27.00" stroke="#4a4a4a" stroke-width="0.85" fill="none" stroke-linejoin="round" />
<path d="M313.33,35.10 L309.00,37.60 L304.67,35.10 L304.67,30.10 L309.00,27.60 L313.33,30.10 Z" stroke="#4a4a4a" stroke-width="0.85" fill="none" stroke-linejoin="round" />
<path d="M312.25,34.48 L309.00,36.35" stroke="#4a4a4a" stroke-width="0.765" fill="none" stroke-linejoin="round" />
<path d="M305.75,34.48 L305.75,30.73" stroke="#4a4a4a" stroke-width="0.765" fill="none" stroke-linejoin="round" />
<path d="M309.00,28.85 L312.25,30.72" stroke="#4a4a4a" stroke-width="0.765" fill="none" stroke-linejoin="round" />
<path d="M309.00,37.60 L311.50,41.00" stroke="#4a4a4a" stroke-width="0.85" fill="none" stroke-linejoin="round" />
<text x="313.00" y="44.60" font-size="3.7" font-weight="bold" fill="#333333" stroke="#333333" stroke-width="0.12" text-anchor="middle" font-family='"Liberation Sans", sans-serif' >F</text>
<path d="M306.80,17.50 L311.20,14.80 L315.60,17.50 L320.20,14.80 L324.80,17.50 L329.40,14.80 L334.00,17.50 L339.50,14.80 L344.50,17.50" stroke="#4a4a4a" stroke-width="0.85" fill="none" stroke-linejoin="round" />
<path d="M320.20,14.80 L320.20,10.80" stroke="#333" stroke-width="1.0" fill="none" stroke-linejoin="round" />
<text x="321.20" y="10.20" font-size="3.7" font-weight="bold" fill="#333333" stroke="#333333" stroke-width="0.12" text-anchor="middle" font-family='"Liberation Sans", sans-serif' >OH</text>
<path d="M329.40,14.80 L329.40,10.80" stroke="#333" stroke-width="1.0" fill="none" stroke-linejoin="round" />
<text x="331.60" y="10.20" font-size="3.7" font-weight="bold" fill="#333333" stroke="#333333" stroke-width="0.12" text-anchor="middle" font-family='"Liberation Sans", sans-serif' >OH</text>
<path d="M339.50,14.80 L339.50,10.00" stroke="#4a4a4a" stroke-width="0.85" fill="none" stroke-linejoin="round" />
<path d="M340.30,14.80 L340.30,10.00" stroke="#4a4a4a" stroke-width="0.85" fill="none" stroke-linejoin="round" />
<text x="340.00" y="9.20" font-size="3.7" font-weight="bold" fill="#333333" stroke="#333333" stroke-width="0.12" text-anchor="middle" font-family='"Liberation Sans", sans-serif' >O</text>
<text x="347.80" y="19.20" font-size="3.7" font-weight="bold" fill="#333333" stroke="#333333" stroke-width="0.12" text-anchor="middle" font-family='"Liberation Sans", sans-serif' >OH</text>
<path d="M381.00,6.00 L385.50,9.80 L390.00,6.00" stroke="#4a4a4a" stroke-width="0.85" fill="none" stroke-linejoin="round" />
<path d="M385.50,9.80 L385.50,5.00" stroke="#4a4a4a" stroke-width="0.85" fill="none" stroke-linejoin="round" />
<path d="M385.50,9.80 L381.20,12.60" stroke="#4a4a4a" stroke-width="0.85" fill="none" stroke-linejoin="round" />
<path d="M385.50,9.80 L389.50,13.50" stroke="#4a4a4a" stroke-width="0.85" fill="none" stroke-linejoin="round" />
<text x="391.00" y="15.00" font-size="3.7" font-weight="bold" fill="#333333" stroke="#333333" stroke-width="0.12" text-anchor="middle" font-family='"Liberation Sans", sans-serif' >O</text>
<path d="M392.50,15.50 L391.00,19.50 L386.80,21.50" stroke="#4a4a4a" stroke-width="0.85" fill="none" stroke-linejoin="round" />
<path d="M391.00,19.50 L396.50,21.50" stroke="#4a4a4a" stroke-width="0.85" fill="none" stroke-linejoin="round" />
<text x="385.50" y="22.50" font-size="3.7" font-weight="bold" fill="#333333" stroke="#333333" stroke-width="0.12" text-anchor="middle" font-family='"Liberation Sans", sans-serif' >O</text>
<text x="398.20" y="21.80" font-size="3.7" font-weight="bold" fill="#333333" stroke="#333333" stroke-width="0.12" text-anchor="middle" font-family='"Liberation Sans", sans-serif' >NH</text>
<path d="M396.50,23.00 L394.00,27.50 L389.20,28.80" stroke="#4a4a4a" stroke-width="0.85" fill="none" stroke-linejoin="round" />
<path d="M390.56,36.80 L386.40,39.20 L382.24,36.80 L382.24,32.00 L386.40,29.60 L390.56,32.00 Z" stroke="#4a4a4a" stroke-width="0.85" fill="none" stroke-linejoin="round" />
<path d="M389.52,36.20 L386.40,38.00" stroke="#4a4a4a" stroke-width="0.765" fill="none" stroke-linejoin="round" />
<path d="M383.28,36.20 L383.28,32.60" stroke="#4a4a4a" stroke-width="0.765" fill="none" stroke-linejoin="round" />
<path d="M386.40,30.80 L389.52,32.60" stroke="#4a4a4a" stroke-width="0.765" fill="none" stroke-linejoin="round" />
<path d="M394.00,27.50 L400.00,29.50 L403.50,26.00" stroke="#4a4a4a" stroke-width="0.85" fill="none" stroke-linejoin="round" />
<path d="M400.00,29.50 L401.00,35.00" stroke="#4a4a4a" stroke-width="0.85" fill="none" stroke-linejoin="round" />
<text x="402.50" y="38.00" font-size="3.7" font-weight="bold" fill="#333333" stroke="#333333" stroke-width="0.12" text-anchor="middle" font-family='"Liberation Sans", sans-serif' >OH</text>
<path d="M403.50,26.00 L403.50,22.00" stroke="#4a4a4a" stroke-width="0.85" fill="none" stroke-linejoin="round" />
<path d="M404.30,26.00 L404.30,22.00" stroke="#4a4a4a" stroke-width="0.85" fill="none" stroke-linejoin="round" />
<text x="404.20" y="21.50" font-size="3.7" font-weight="bold" fill="#333333" stroke="#333333" stroke-width="0.12" text-anchor="middle" font-family='"Liberation Sans", sans-serif' >O</text>
<path d="M403.50,26.00 L409.00,29.50 L413.50,27.00" stroke="#4a4a4a" stroke-width="0.85" fill="none" stroke-linejoin="round" />
<text x="411.20" y="32.00" font-size="3.7" font-weight="bold" fill="#333333" stroke="#333333" stroke-width="0.12" text-anchor="middle" font-family='"Liberation Sans", sans-serif' >O</text>
<path d="M414.00,27.00 L414.00,21.00 L419.50,18.00 L425.00,21.00 L425.00,27.00 L419.50,30.00 Z" stroke="#4a4a4a" stroke-width="0.85" fill="none" stroke-linejoin="round" />
<path d="M425.00,21.00 L428.50,15.50 L435.00,14.50 L440.00,18.00 L441.00,25.00 L436.00,30.00 L429.50,31.50 L425.00,27.00 Z" stroke="#4a4a4a" stroke-width="0.85" fill="none" stroke-linejoin="round" />
<path d="M440.00,18.00 L444.00,12.50 L450.50,12.50 L454.00,18.00 L451.00,24.00 L441.00,25.00 Z" stroke="#4a4a4a" stroke-width="0.85" fill="none" stroke-linejoin="round" />
<path d="M451.00,24.00 L455.50,27.50 L452.00,32.00 L447.50,28.50 Z" stroke="#4a4a4a" stroke-width="0.85" fill="none" stroke-linejoin="round" />
<path d="M419.50,18.00 L417.50,13.50" stroke="#4a4a4a" stroke-width="0.85" fill="none" stroke-linejoin="round" />
<text x="415.80" y="12.80" font-size="3.7" font-weight="bold" fill="#333333" stroke="#333333" stroke-width="0.12" text-anchor="middle" font-family='"Liberation Sans", sans-serif' >HO</text>
<path d="M428.50,15.50 L427.00,10.00" stroke="#4a4a4a" stroke-width="0.85" fill="none" stroke-linejoin="round" />
<path d="M429.30,15.50 L427.80,10.00" stroke="#4a4a4a" stroke-width="0.85" fill="none" stroke-linejoin="round" />
<text x="427.60" y="9.20" font-size="3.7" font-weight="bold" fill="#333333" stroke="#333333" stroke-width="0.12" text-anchor="middle" font-family='"Liberation Sans", sans-serif' >O</text>
<path d="M444.00,12.50 L443.00,7.50" stroke="#333" stroke-width="1.0" fill="none" stroke-linejoin="round" />
<text x="441.50" y="7.00" font-size="3.7" font-weight="bold" fill="#333333" stroke="#333333" stroke-width="0.12" text-anchor="middle" font-family='"Liberation Sans", sans-serif' >OH</text>
<path d="M436.00,30.00 L434.50,35.00" stroke="#333" stroke-width="1.0" fill="none" stroke-linejoin="round" />
<text x="434.00" y="38.50" font-size="3.7" font-weight="bold" fill="#333333" stroke="#333333" stroke-width="0.12" text-anchor="middle" font-family='"Liberation Sans", sans-serif' >OH</text>
<path d="M432.00,14.50 L432.00,24.50" stroke="#4a4a4a" stroke-width="0.85" fill="none" stroke-linejoin="round" />
<path d="M429.50,31.50 L428.00,36.50 L424.00,38.00" stroke="#4a4a4a" stroke-width="0.85" fill="none" stroke-linejoin="round" />
<text x="431.00" y="38.50" font-size="3.7" font-weight="bold" fill="#333333" stroke="#333333" stroke-width="0.12" text-anchor="middle" font-family='"Liberation Sans", sans-serif' >O</text>
<path d="M424.16,43.90 L420.00,46.30 L415.84,43.90 L415.84,39.10 L420.00,36.70 L424.16,39.10 Z" stroke="#4a4a4a" stroke-width="0.85" fill="none" stroke-linejoin="round" />
<path d="M423.12,43.30 L420.00,45.10" stroke="#4a4a4a" stroke-width="0.765" fill="none" stroke-linejoin="round" />
<path d="M416.88,43.30 L416.88,39.70" stroke="#4a4a4a" stroke-width="0.765" fill="none" stroke-linejoin="round" />
<path d="M420.00,37.90 L423.12,39.70" stroke="#4a4a4a" stroke-width="0.765" fill="none" stroke-linejoin="round" />
<path d="M447.50,28.50 L446.00,33.50 L449.00,38.00" stroke="#4a4a4a" stroke-width="0.85" fill="none" stroke-linejoin="round" />
<text x="449.50" y="42.80" font-size="3.7" font-weight="bold" fill="#333333" stroke="#333333" stroke-width="0.12" text-anchor="middle" font-family='"Liberation Sans", sans-serif' >O</text>
<path d="M451.00,24.00 L455.00,20.50" stroke="#4a4a4a" stroke-width="0.85" fill="none" stroke-linejoin="round" />
<text x="456.20" y="19.50" font-size="3.7" font-weight="bold" fill="#333333" stroke="#333333" stroke-width="0.12" text-anchor="middle" font-family='"Liberation Sans", sans-serif' >H</text>
<rect x="392.50" y="59.40" width="64.50" height="42.50" fill="#f2e1f1" stroke="none" stroke-width="0" rx="4"/>
<path d="M267.00,77.15 L272.03,79.85 L277.06,77.15 L282.09,79.85 L287.12,77.15 L292.15,79.85 L297.18,77.15 L302.21,79.85 L307.24,77.15 L312.26,79.85 L317.29,77.15 L322.32,79.85 L327.35,77.15 L332.38,79.85 L337.41,77.15 L342.44,79.85 L347.47,77.15 L352.50,79.85" stroke="#4a4a4a" stroke-width="0.9" fill="none" stroke-linejoin="round" />
<path d="M274.50,85.05 L279.50,87.75 L284.50,85.05 L289.50,87.75 L294.50,85.05 L299.50,87.75 L304.50,85.05 L309.50,87.75 L314.50,85.05 L319.50,87.75 L324.50,85.05 L329.50,87.75 L334.50,85.05 L339.50,87.75 L344.50,85.05 L349.50,87.75 L354.50,85.05 L359.50,87.75" stroke="#4a4a4a" stroke-width="0.9" fill="none" stroke-linejoin="round" />
<path d="M307.50,77.60 L315.00,77.60" stroke="#4a4a4a" stroke-width="1.0" fill="none" stroke-linejoin="round" />
<path d="M314.00,85.50 L321.50,85.50" stroke="#4a4a4a" stroke-width="1.0" fill="none" stroke-linejoin="round" />
<path d="M352.50,77.20 L354.00,71.50" stroke="#4a4a4a" stroke-width="0.85" fill="none" stroke-linejoin="round" />
<path d="M353.50,77.40 L355.00,71.70" stroke="#4a4a4a" stroke-width="0.85" fill="none" stroke-linejoin="round" />
<text x="354.50" y="70.30" font-size="3.7" font-weight="bold" fill="#333333" stroke="#333333" stroke-width="0.12" text-anchor="middle" font-family='"Liberation Sans", sans-serif' >O</text>
<text x="358.50" y="80.20" font-size="3.7" font-weight="bold" fill="#333333" stroke="#333333" stroke-width="0.12" text-anchor="middle" font-family='"Liberation Sans", sans-serif' >O</text>
<path d="M360.20,78.60 L364.00,81.00 L368.00,78.50 L370.50,81.50" stroke="#4a4a4a" stroke-width="0.85" fill="none" stroke-linejoin="round" />
<path d="M359.50,86.50 L361.50,86.50" stroke="#4a4a4a" stroke-width="0.85" fill="none" stroke-linejoin="round" />
<text x="362.50" y="87.60" font-size="3.7" font-weight="bold" fill="#333333" stroke="#333333" stroke-width="0.12" text-anchor="middle" font-family='"Liberation Sans", sans-serif' >O</text>
<path d="M362.00,88.50 L362.00,92.00" stroke="#4a4a4a" stroke-width="0.85" fill="none" stroke-linejoin="round" />
<path d="M362.80,88.50 L362.80,92.00" stroke="#4a4a4a" stroke-width="0.85" fill="none" stroke-linejoin="round" />
<text x="362.50" y="95.00" font-size="3.7" font-weight="bold" fill="#333333" stroke="#333333" stroke-width="0.12" text-anchor="middle" font-family='"Liberation Sans", sans-serif' >O</text>
<path d="M364.20,86.00 L368.00,84.00 L370.50,81.50" stroke="#4a4a4a" stroke-width="0.85" fill="none" stroke-linejoin="round" />
<path d="M370.50,81.50 L372.50,86.00" stroke="#222" stroke-width="1.0" fill="none" stroke-linejoin="round" />
<text x="372.60" y="89.00" font-size="3.7" font-weight="bold" fill="#333333" stroke="#333333" stroke-width="0.12" text-anchor="middle" font-family='"Liberation Sans", sans-serif' >H</text>
<path d="M370.50,81.50 L375.00,79.00 L378.00,81.00" stroke="#4a4a4a" stroke-width="0.85" fill="none" stroke-linejoin="round" />
<text x="380.00" y="81.20" font-size="3.7" font-weight="bold" fill="#333333" stroke="#333333" stroke-width="0.12" text-anchor="middle" font-family='"Liberation Sans", sans-serif' >O</text>
<path d="M382.00,80.00 L384.50,80.00" stroke="#4a4a4a" stroke-width="0.85" fill="none" stroke-linejoin="round" />
<text x="386.30" y="81.20" font-size="3.7" font-weight="bold" fill="#333333" stroke="#333333" stroke-width="0.12" text-anchor="middle" font-family='"Liberation Sans", sans-serif' >P</text>
<path d="M386.30,78.00 L386.30,74.00" stroke="#4a4a4a" stroke-width="0.85" fill="none" stroke-linejoin="round" />
<path d="M387.10,78.00 L387.10,74.00" stroke="#4a4a4a" stroke-width="0.85" fill="none" stroke-linejoin="round" />
<text x="386.70" y="73.20" font-size="3.7" font-weight="bold" fill="#333333" stroke="#333333" stroke-width="0.12" text-anchor="middle" font-family='"Liberation Sans", sans-serif' >O</text>
<path d="M386.30,82.50 L386.30,85.50" stroke="#4a4a4a" stroke-width="0.85" fill="none" stroke-linejoin="round" />
<text x="386.50" y="88.50" font-size="3.7" font-weight="bold" fill="#333333" stroke="#333333" stroke-width="0.12" text-anchor="middle" font-family='"Liberation Sans", sans-serif' >O</text>
<text x="385.50" y="94.00" font-size="3.7" font-weight="bold" fill="#333333" stroke="#333333" stroke-width="0.12" text-anchor="middle" font-family='"Liberation Sans", sans-serif' >Na</text>
<path d="M388.50,80.00 L391.50,80.00" stroke="#4a4a4a" stroke-width="0.85" fill="none" stroke-linejoin="round" />
<text x="393.00" y="81.20" font-size="3.7" font-weight="bold" fill="#333333" stroke="#333333" stroke-width="0.12" text-anchor="middle" font-family='"Liberation Sans", sans-serif' >O</text>
<path d="M394.80,80.30 L398.50,82.50 L402.50,80.00 L406.50,82.50" stroke="#4a4a4a" stroke-width="0.85" fill="none" stroke-linejoin="round" />
<text x="408.50" y="85.00" font-size="3.7" font-weight="bold" fill="#333333" stroke="#333333" stroke-width="0.12" text-anchor="middle" font-family='"Liberation Sans", sans-serif' >N</text>
<text x="408.50" y="89.00" font-size="3.7" font-weight="bold" fill="#333333" stroke="#333333" stroke-width="0.12" text-anchor="middle" font-family='"Liberation Sans", sans-serif' >H</text>
<path d="M410.00,82.50 L413.50,80.00" stroke="#4a4a4a" stroke-width="0.85" fill="none" stroke-linejoin="round" />
<path d="M413.50,80.00 L413.50,75.50" stroke="#4a4a4a" stroke-width="0.85" fill="none" stroke-linejoin="round" />
<path d="M414.30,80.00 L414.30,75.50" stroke="#4a4a4a" stroke-width="0.85" fill="none" stroke-linejoin="round" />
<text x="414.00" y="74.50" font-size="3.7" font-weight="bold" fill="#333333" stroke="#333333" stroke-width="0.12" text-anchor="middle" font-family='"Liberation Sans", sans-serif' >O</text>
<path d="M413.50,80.00 L417.50,82.50 L421.50,80.00 L425.50,82.50 L429.50,80.00 L433.50,82.50" stroke="#4a4a4a" stroke-width="0.85" fill="none" stroke-linejoin="round" />
<path d="M433.50,82.50 L437.00,80.50" stroke="#222" stroke-width="1.0" fill="none" stroke-linejoin="round" />
<path d="M437.00,80.50 L437.00,74.50 L446.00,74.50 L446.00,80.50 L441.50,84.50 Z" stroke="#4a4a4a" stroke-width="0.85" fill="none" stroke-linejoin="round" />
<text x="441.50" y="88.00" font-size="3.7" font-weight="bold" fill="#333333" stroke="#333333" stroke-width="0.12" text-anchor="middle" font-family='"Liberation Sans", sans-serif' >S</text>
<path d="M437.00,74.50 L437.50,69.50 L441.50,66.00 L445.50,69.50 L446.00,74.50" stroke="#4a4a4a" stroke-width="0.85" fill="none" stroke-linejoin="round" />
<text x="436.00" y="70.00" font-size="3.7" font-weight="bold" fill="#333333" stroke="#333333" stroke-width="0.12" text-anchor="middle" font-family='"Liberation Sans", sans-serif' >HN</text>
<text x="447.80" y="70.00" font-size="3.7" font-weight="bold" fill="#333333" stroke="#333333" stroke-width="0.12" text-anchor="middle" font-family='"Liberation Sans", sans-serif' >NH</text>
<path d="M441.50,66.00 L441.50,62.50" stroke="#4a4a4a" stroke-width="0.85" fill="none" stroke-linejoin="round" />
<path d="M442.30,66.00 L442.30,62.50" stroke="#4a4a4a" stroke-width="0.85" fill="none" stroke-linejoin="round" />
<text x="442.00" y="62.00" font-size="3.7" font-weight="bold" fill="#333333" stroke="#333333" stroke-width="0.12" text-anchor="middle" font-family='"Liberation Sans", sans-serif' >O</text>
<text x="434.80" y="77.50" font-size="3.7" font-weight="bold" fill="#333333" stroke="#333333" stroke-width="0.12" text-anchor="middle" font-family='"Liberation Sans", sans-serif' >H</text>
<text x="448.30" y="77.50" font-size="3.7" font-weight="bold" fill="#333333" stroke="#333333" stroke-width="0.12" text-anchor="middle" font-family='"Liberation Sans", sans-serif' >H</text>
<rect x="262.40" y="121.80" width="59.60" height="39.20" fill="#fdf0e6" stroke="none" stroke-width="1" />
<path d="M279.90,152.85 L276.00,155.10 L272.10,152.85 L272.10,148.35 L276.00,146.10 L279.90,148.35 Z" stroke="#4a4a4a" stroke-width="0.85" fill="none" stroke-linejoin="round" />
<path d="M288.30,151.55 L284.40,153.80 L280.50,151.55 L280.50,147.05 L284.40,144.80 L288.30,147.05 Z" stroke="#4a4a4a" stroke-width="0.85" fill="none" stroke-linejoin="round" />
<path d="M296.40,146.05 L292.50,148.30 L288.60,146.05 L288.60,141.55 L292.50,139.30 L296.40,141.55 Z" stroke="#4a4a4a" stroke-width="0.85" fill="none" stroke-linejoin="round" />
<path d="M296.30,140.30 L298.99,136.59 L303.36,138.01 L303.36,142.59 L298.99,144.01 Z" stroke="#4a4a4a" stroke-width="0.85" fill="none" stroke-linejoin="round" />
<text x="266.50" y="158.40" font-size="3.7" font-weight="bold" fill="#333333" stroke="#333333" stroke-width="0.12" text-anchor="middle" font-family='"Liberation Sans", sans-serif' >HO</text>
<path d="M269.00,157.00 L272.00,155.00" stroke="#4a4a4a" stroke-width="0.85" fill="none" stroke-linejoin="round" />
<text x="278.60" y="142.40" font-size="3.7" font-weight="bold" fill="#333333" stroke="#333333" stroke-width="0.12" text-anchor="middle" font-family='"Liberation Sans", sans-serif' >H₃C</text>
<path d="M281.00,143.50 L281.00,147.50" stroke="#222" stroke-width="1.1" fill="none" stroke-linejoin="round" />
<path d="M281.50,154.00 L281.50,157.00" stroke="#222" stroke-width="1.1" fill="none" stroke-linejoin="round" />
<text x="281.80" y="160.00" font-size="3.7" font-weight="bold" fill="#333333" stroke="#333333" stroke-width="0.12" text-anchor="middle" font-family='"Liberation Sans", sans-serif' >H</text>
<text x="286.20" y="152.00" font-size="3.7" font-weight="bold" fill="#333333" stroke="#333333" stroke-width="0.12" text-anchor="middle" font-family='"Liberation Sans", sans-serif' >H</text>
<text x="290.50" y="143.80" font-size="3.7" font-weight="bold" fill="#333333" stroke="#333333" stroke-width="0.12" text-anchor="middle" font-family='"Liberation Sans", sans-serif' >H</text>
<text x="295.00" y="151.40" font-size="3.7" font-weight="bold" fill="#333333" stroke="#333333" stroke-width="0.12" text-anchor="middle" font-family='"Liberation Sans", sans-serif' >H</text>
<text x="305.00" y="138.80" font-size="3.7" font-weight="bold" fill="#333333" stroke="#333333" stroke-width="0.12" text-anchor="middle" font-family='"Liberation Sans", sans-serif' >H</text>
<text x="292.70" y="132.30" font-size="3.7" font-weight="bold" fill="#333333" stroke="#333333" stroke-width="0.12" text-anchor="middle" font-family='"Liberation Sans", sans-serif' >OH</text>
<path d="M292.70,133.20 L292.70,138.00" stroke="#4a4a4a" stroke-width="0.85" fill="none" stroke-linejoin="round" />
<text x="296.80" y="135.30" font-size="3.4" font-weight="bold" fill="#333333" stroke="#333333" stroke-width="0.12" text-anchor="middle" font-family='"Liberation Sans", sans-serif' >CH₃</text>
<path d="M296.50,136.20 L298.00,138.50" stroke="#222" stroke-width="1.0" fill="none" stroke-linejoin="round" />
<text x="299.30" y="126.40" font-size="3.7" font-weight="bold" fill="#333333" stroke="#333333" stroke-width="0.12" text-anchor="middle" font-family='"Liberation Sans", sans-serif' >H₃C</text>
<path d="M301.50,127.50 L302.00,131.00" stroke="#4a4a4a" stroke-width="0.85" fill="none" stroke-linejoin="round" />
<path d="M302.50,136.50 L302.00,131.00 L306.00,128.80 L310.00,131.00 L313.80,128.50" stroke="#4a4a4a" stroke-width="0.85" fill="none" stroke-linejoin="round" />
<path d="M313.80,128.50 L316.80,126.20" stroke="#4a4a4a" stroke-width="0.85" fill="none" stroke-linejoin="round" />
<path d="M313.50,127.80 L316.50,125.50" stroke="#4a4a4a" stroke-width="0.85" fill="none" stroke-linejoin="round" />
<text x="318.00" y="126.00" font-size="3.7" font-weight="bold" fill="#333333" stroke="#333333" stroke-width="0.12" text-anchor="middle" font-family='"Liberation Sans", sans-serif' >O</text>
<path d="M313.80,128.50 L316.80,131.50" stroke="#4a4a4a" stroke-width="0.85" fill="none" stroke-linejoin="round" />
<text x="318.20" y="134.50" font-size="3.7" font-weight="bold" fill="#333333" stroke="#333333" stroke-width="0.12" text-anchor="middle" font-family='"Liberation Sans", sans-serif' >O</text>
<text x="326.20" y="130.00" font-size="3.4" font-weight="bold" fill="#333333" stroke="#333333" stroke-width="0.12" text-anchor="middle" font-family='"Liberation Sans", sans-serif' >Na+</text>
<line x1="321.80" y1="124.50" x2="336.50" y2="124.50" stroke="#d8a8a8" stroke-width="0.9" stroke-dasharray="1.2,0.6"/>
<text x="339.80" y="125.00" font-size="3.7" font-weight="bold" fill="#333333" stroke="#333333" stroke-width="0.12" text-anchor="middle" font-family='"Liberation Sans", sans-serif' >N</text>
<text x="341.50" y="121.00" font-size="3.0" font-weight="bold" fill="#333333" stroke="#333333" stroke-width="0.12" text-anchor="middle" font-family='"Liberation Sans", sans-serif' >+</text>
<path d="M339.50,121.50 L336.50,118.50" stroke="#4a4a4a" stroke-width="0.85" fill="none" stroke-linejoin="round" />
<path d="M341.00,121.50 L343.50,118.50" stroke="#4a4a4a" stroke-width="0.85" fill="none" stroke-linejoin="round" />
<text x="337.20" y="131.00" font-size="3.7" font-weight="bold" fill="#333333" stroke="#333333" stroke-width="0.12" text-anchor="middle" font-family='"Liberation Sans", sans-serif' >Cl⁻</text>
<path d="M342.00,123.50 L346.50,126.00 L350.50,123.50 L354.50,126.00" stroke="#4a4a4a" stroke-width="0.85" fill="none" stroke-linejoin="round" />
<path d="M350.50,123.50 L350.50,130.00" stroke="#4a4a4a" stroke-width="0.85" fill="none" stroke-linejoin="round" />
<text x="349.50" y="133.00" font-size="3.7" font-weight="bold" fill="#333333" stroke="#333333" stroke-width="0.12" text-anchor="middle" font-family='"Liberation Sans", sans-serif' >H</text>
<path d="M354.50,126.00 L358.50,123.50" stroke="#4a4a4a" stroke-width="0.85" fill="none" stroke-linejoin="round" />
<text x="360.30" y="125.00" font-size="3.7" font-weight="bold" fill="#333333" stroke="#333333" stroke-width="0.12" text-anchor="middle" font-family='"Liberation Sans", sans-serif' >O</text>
<path d="M350.50,130.00 L354.50,133.50 L358.00,135.00" stroke="#4a4a4a" stroke-width="0.85" fill="none" stroke-linejoin="round" />
<text x="359.80" y="136.60" font-size="3.7" font-weight="bold" fill="#333333" stroke="#333333" stroke-width="0.12" text-anchor="middle" font-family='"Liberation Sans", sans-serif' >O</text>
<path d="M362.00,123.50 L364.50,121.50" stroke="#4a4a4a" stroke-width="0.85" fill="none" stroke-linejoin="round" />
<path d="M364.50,121.50 L364.50,117.50" stroke="#4a4a4a" stroke-width="0.85" fill="none" stroke-linejoin="round" />
<path d="M365.30,121.50 L365.30,117.50" stroke="#4a4a4a" stroke-width="0.85" fill="none" stroke-linejoin="round" />
<text x="364.80" y="117.00" font-size="3.7" font-weight="bold" fill="#333333" stroke="#333333" stroke-width="0.12" text-anchor="middle" font-family='"Liberation Sans", sans-serif' >O</text>
<path d="M365.00,121.20 L368.29,122.80 L371.58,121.20 L374.88,122.80 L378.17,121.20 L381.46,122.80 L384.75,121.20 L388.04,122.80 L391.33,121.20 L394.62,122.80 L397.92,121.20 L401.21,122.80 L404.50,121.20 L407.79,122.80 L411.08,121.20 L414.38,122.80 L417.67,121.20 L420.96,122.80 L424.25,121.20 L427.54,122.80 L430.83,121.20 L434.12,122.80 L437.42,121.20 L440.71,122.80 L444.00,121.20" stroke="#4a4a4a" stroke-width="0.85" fill="none" stroke-linejoin="round" />
<path d="M361.50,135.50 L362.50,134.00" stroke="#4a4a4a" stroke-width="0.85" fill="none" stroke-linejoin="round" />
<path d="M362.00,134.00 L362.00,138.50" stroke="#4a4a4a" stroke-width="0.85" fill="none" stroke-linejoin="round" />
<path d="M362.80,134.00 L362.80,138.50" stroke="#4a4a4a" stroke-width="0.85" fill="none" stroke-linejoin="round" />
<text x="362.00" y="142.00" font-size="3.7" font-weight="bold" fill="#333333" stroke="#333333" stroke-width="0.12" text-anchor="middle" font-family='"Liberation Sans", sans-serif' >O</text>
<path d="M362.80,132.20 L366.14,133.80 L369.48,132.20 L372.82,133.80 L376.16,132.20 L379.50,133.80 L382.83,132.20 L386.17,133.80 L389.51,132.20 L392.85,133.80 L396.19,132.20 L399.53,133.80 L402.87,132.20 L406.21,133.80 L409.55,132.20 L412.89,133.80 L416.23,132.20 L419.57,133.80 L422.90,132.20 L426.24,133.80 L429.58,132.20 L432.92,133.80 L436.26,132.20 L439.60,133.80" stroke="#4a4a4a" stroke-width="0.85" fill="none" stroke-linejoin="round" />
<path d="M399.50,121.20 L406.50,121.20" stroke="#4a4a4a" stroke-width="1.0" fill="none" stroke-linejoin="round" />
<path d="M397.00,132.20 L404.00,132.20" stroke="#4a4a4a" stroke-width="1.0" fill="none" stroke-linejoin="round" />
<path d="M222.00,71.80 L244.80,71.80 L244.80,25.60 L268.00,25.60" stroke="#8a8a8a" stroke-width="1.0" fill="none" stroke-linejoin="round" />
<circle cx="268.30" cy="25.60" r="1.10" fill="#222" stroke="none" stroke-width="1" />
<path d="M248.00,99.10 L253.60,99.10 L253.60,85.50 L265.50,85.50" stroke="#666" stroke-width="0.9" fill="none" stroke-linejoin="round" />
<path d="M245.5,99.1 L248.8,97.3 L248.8,100.9 Z" fill="#222"/>
<circle cx="266.00" cy="85.50" r="1.00" fill="#222" stroke="none" stroke-width="1" />
<path d="M237.50,119.00 L237.50,142.00 L260.00,142.00" stroke="#666" stroke-width="0.9" fill="none" stroke-linejoin="round" />
<path d="M237.5,116.8 L235.8,119.5 L239.2,119.5 Z" fill="#222"/>
<circle cx="260.50" cy="142.00" r="1.00" fill="#222" stroke="none" stroke-width="1" />
<text x="309.80" y="55.00" font-size="6.0" font-weight="bold" fill="#1a1a1a" stroke="#1a1a1a" stroke-width="0.3" text-anchor="middle" font-family='"Liberation Sans", sans-serif' >Atorvastatin (AT)</text>
<text x="417.40" y="54.30" font-size="6.05" font-weight="bold" fill="#1a1a1a" stroke="#1a1a1a" stroke-width="0.3" text-anchor="middle" font-family='"Liberation Sans", sans-serif' >Docetaxel (DT)</text>
<text x="318.90" y="103.60" font-size="6.2" font-weight="bold" fill="#1a1a1a" stroke="#1a1a1a" stroke-width="0.3" text-anchor="middle" font-family='"Liberation Sans", sans-serif' >Biotin-conjugated lipid (Biotin-PE)</text>
<text x="292.40" y="169.20" font-size="5.6" font-weight="bold" fill="#1a1a1a" stroke="#1a1a1a" stroke-width="0.3" text-anchor="middle" font-family='"Liberation Sans", sans-serif' >Sodium deoxycholic acid</text>
<text x="291.50" y="175.40" font-size="5.6" font-weight="bold" fill="#1a1a1a" stroke="#1a1a1a" stroke-width="0.3" text-anchor="middle" font-family='"Liberation Sans", sans-serif' >(NaDA)</text>
<text x="391.50" y="168.20" font-size="5.67" font-weight="bold" fill="#1a1a1a" stroke="#1a1a1a" stroke-width="0.3" text-anchor="middle" font-family='"Liberation Sans", sans-serif' >1,2-Dioleyl-3-trimethylammonium propane</text>
<text x="391.80" y="175.60" font-size="5.67" font-weight="bold" fill="#1a1a1a" stroke="#1a1a1a" stroke-width="0.3" text-anchor="middle" font-family='"Liberation Sans", sans-serif' >(DOTAP)</text>
<line x1="260.00" y1="180.70" x2="452.20" y2="180.70" stroke="#222" stroke-width="1.0" />
<text x="364.30" y="187.60" font-size="6.3" font-weight="bold" fill="#1a1a1a" stroke="#1a1a1a" stroke-width="0.3" text-anchor="middle" font-family='"Liberation Sans", sans-serif' >D-TAP</text>
<text x="175.80" y="172.20" font-size="7.3" font-weight="bold" fill="#1a1a1a" stroke="#1a1a1a" stroke-width="0.22" text-anchor="middle" font-family='"Liberation Sans", sans-serif' >AT/DT-co-loaded nanoemulsion</text>
<text x="175.00" y="181.60" font-size="7.3" font-weight="bold" fill="#1a1a1a" stroke="#1a1a1a" stroke-width="0.22" text-anchor="middle" font-family='"Liberation Sans", sans-serif' >(AT/DT-NE)</text>
<line x1="31.50" y1="269.00" x2="31.50" y2="398.10" stroke="#1a1a1a" stroke-width="1.2" />
<line x1="31.00" y1="397.60" x2="231.70" y2="397.60" stroke="#1a1a1a" stroke-width="1.2" />
<line x1="29.50" y1="397.60" x2="31.50" y2="397.60" stroke="#1a1a1a" stroke-width="0.9" />
<text x="28.20" y="400.10" font-size="7.0" font-weight="bold" fill="#1a1a1a" stroke="#1a1a1a" stroke-width="0.22" text-anchor="end" font-family='"Liberation Sans", sans-serif' >0</text>
<line x1="29.50" y1="376.22" x2="31.50" y2="376.22" stroke="#1a1a1a" stroke-width="0.9" />
<text x="28.20" y="378.72" font-size="7.0" font-weight="bold" fill="#1a1a1a" stroke="#1a1a1a" stroke-width="0.22" text-anchor="end" font-family='"Liberation Sans", sans-serif' >20</text>
<line x1="29.50" y1="354.83" x2="31.50" y2="354.83" stroke="#1a1a1a" stroke-width="0.9" />
<text x="28.20" y="357.33" font-size="7.0" font-weight="bold" fill="#1a1a1a" stroke="#1a1a1a" stroke-width="0.22" text-anchor="end" font-family='"Liberation Sans", sans-serif' >40</text>
<line x1="29.50" y1="333.45" x2="31.50" y2="333.45" stroke="#1a1a1a" stroke-width="0.9" />
<text x="28.20" y="335.95" font-size="7.0" font-weight="bold" fill="#1a1a1a" stroke="#1a1a1a" stroke-width="0.22" text-anchor="end" font-family='"Liberation Sans", sans-serif' >60</text>
<line x1="29.50" y1="312.07" x2="31.50" y2="312.07" stroke="#1a1a1a" stroke-width="0.9" />
<text x="28.20" y="314.57" font-size="7.0" font-weight="bold" fill="#1a1a1a" stroke="#1a1a1a" stroke-width="0.22" text-anchor="end" font-family='"Liberation Sans", sans-serif' >80</text>
<line x1="29.50" y1="290.68" x2="31.50" y2="290.68" stroke="#1a1a1a" stroke-width="0.9" />
<text x="28.20" y="293.18" font-size="7.0" font-weight="bold" fill="#1a1a1a" stroke="#1a1a1a" stroke-width="0.22" text-anchor="end" font-family='"Liberation Sans", sans-serif' >100</text>
<line x1="29.50" y1="269.30" x2="31.50" y2="269.30" stroke="#1a1a1a" stroke-width="0.9" />
<text x="28.20" y="271.80" font-size="7.0" font-weight="bold" fill="#1a1a1a" stroke="#1a1a1a" stroke-width="0.22" text-anchor="end" font-family='"Liberation Sans", sans-serif' >120</text>
<line x1="68.70" y1="397.60" x2="68.70" y2="399.80" stroke="#1a1a1a" stroke-width="0.9" />
<text x="68.70" y="407.60" font-size="7.3" font-weight="bold" fill="#1a1a1a" stroke="#1a1a1a" stroke-width="0.22" text-anchor="middle" font-family='"Liberation Sans", sans-serif' >10</text>
<line x1="135.40" y1="397.60" x2="135.40" y2="399.80" stroke="#1a1a1a" stroke-width="0.9" />
<text x="135.40" y="407.60" font-size="7.3" font-weight="bold" fill="#1a1a1a" stroke="#1a1a1a" stroke-width="0.22" text-anchor="middle" font-family='"Liberation Sans", sans-serif' >50</text>
<line x1="202.30" y1="397.60" x2="202.30" y2="399.80" stroke="#1a1a1a" stroke-width="0.9" />
<text x="202.30" y="407.60" font-size="7.3" font-weight="bold" fill="#1a1a1a" stroke="#1a1a1a" stroke-width="0.22" text-anchor="middle" font-family='"Liberation Sans", sans-serif' >100</text>
<text x="139.50" y="421.40" font-size="8.3" font-weight="bold" fill="#1a1a1a" stroke="#1a1a1a" stroke-width="0.22" text-anchor="middle" font-family='"Liberation Sans", sans-serif' >Overall drug concentration (μg/mL)</text>
<text x="0.00" y="0.00" font-size="8.3" font-weight="bold" fill="#1a1a1a" stroke="#1a1a1a" stroke-width="0.22" text-anchor="middle" font-family='"Liberation Sans", sans-serif' transform="translate(12.00,332.50) rotate(-90)" >CT26.CL25 cell viability (%)</text>
<rect x="34.60" y="215.40" width="6.30" height="4.00" fill="none" stroke="#9a5a3c" stroke-width="1.1" />
<text x="0.00" y="0.00" font-size="7.0" font-weight="bold" fill="#1a1a1a" stroke="#1a1a1a" stroke-width="0.22" text-anchor="start" font-family='"Liberation Sans", sans-serif' transform="translate(45.40,220.00) scale(1.07,1)" >AT/DT (1:0)</text>
<rect x="34.60" y="223.70" width="6.30" height="4.00" fill="none" stroke="#2a2acc" stroke-width="1.1" />
<text x="0.00" y="0.00" font-size="7.0" font-weight="bold" fill="#1a1a1a" stroke="#1a1a1a" stroke-width="0.22" text-anchor="start" font-family='"Liberation Sans", sans-serif' transform="translate(45.40,228.30) scale(1.07,1)" >AT/DT (1:0.25)</text>
<rect x="34.60" y="231.50" width="6.30" height="4.00" fill="none" stroke="#5cc040" stroke-width="1.1" />
<text x="0.00" y="0.00" font-size="7.0" font-weight="bold" fill="#1a1a1a" stroke="#1a1a1a" stroke-width="0.22" text-anchor="start" font-family='"Liberation Sans", sans-serif' transform="translate(45.40,236.10) scale(1.07,1)" >AT/DT (1:0.5)</text>
<rect x="34.60" y="239.50" width="6.30" height="4.00" fill="none" stroke="#e0b070" stroke-width="1.1" />
<text x="0.00" y="0.00" font-size="7.0" font-weight="bold" fill="#1a1a1a" stroke="#1a1a1a" stroke-width="0.22" text-anchor="start" font-family='"Liberation Sans", sans-serif' transform="translate(45.40,244.10) scale(1.07,1)" >AT/DT (1:1)</text>
<path d="M34.60,247.80 L34.60,251.80 L40.90,251.80 L40.90,247.80" stroke="#8a48d8" stroke-width="1.1" fill="none" stroke-linejoin="round" />
<text x="0.00" y="0.00" font-size="7.0" font-weight="bold" fill="#1a1a1a" stroke="#1a1a1a" stroke-width="0.22" text-anchor="start" font-family='"Liberation Sans", sans-serif' transform="translate(45.40,252.40) scale(1.07,1)" >AT/DT (0:1)</text>
<rect x="34.60" y="255.90" width="6.30" height="4.00" fill="none" stroke="#8c7a40" stroke-width="1.1" />
<text x="0.00" y="0.00" font-size="7.0" font-weight="bold" fill="#1a1a1a" stroke="#1a1a1a" stroke-width="0.22" text-anchor="start" font-family='"Liberation Sans", sans-serif' transform="translate(45.40,260.50) scale(1.07,1)" >AT/DT (0.25:1)</text>
<rect x="34.60" y="264.80" width="6.30" height="4.00" fill="none" stroke="#111111" stroke-width="1.1" />
<text x="0.00" y="0.00" font-size="7.0" font-weight="bold" fill="#1a1a1a" stroke="#1a1a1a" stroke-width="0.22" text-anchor="start" font-family='"Liberation Sans", sans-serif' transform="translate(45.40,269.40) scale(1.07,1)" >AT/DT (0.5:1)</text>
<rect x="41.90" y="297.90" width="5.00" height="99.70" fill="none" stroke="#9a5a3c" stroke-width="1.1" />
<line x1="44.40" y1="295.60" x2="44.40" y2="297.90" stroke="#9a5a3c" stroke-width="0.8" />
<line x1="43.10" y1="295.60" x2="45.70" y2="295.60" stroke="#9a5a3c" stroke-width="0.8" />
<rect x="49.90" y="300.30" width="5.00" height="97.30" fill="none" stroke="#2a2acc" stroke-width="1.1" />
<line x1="52.40" y1="295.50" x2="52.40" y2="300.30" stroke="#2a2acc" stroke-width="0.8" />
<line x1="51.10" y1="295.50" x2="53.70" y2="295.50" stroke="#2a2acc" stroke-width="0.8" />
<rect x="57.80" y="305.50" width="5.00" height="92.10" fill="none" stroke="#5cc040" stroke-width="1.1" />
<line x1="60.30" y1="299.30" x2="60.30" y2="305.50" stroke="#5cc040" stroke-width="0.8" />
<line x1="59.00" y1="299.30" x2="61.60" y2="299.30" stroke="#5cc040" stroke-width="0.8" />
<rect x="66.20" y="307.30" width="5.00" height="90.30" fill="none" stroke="#e0b070" stroke-width="1.1" />
<line x1="68.70" y1="302.30" x2="68.70" y2="307.30" stroke="#e0b070" stroke-width="0.8" />
<line x1="67.40" y1="302.30" x2="70.00" y2="302.30" stroke="#e0b070" stroke-width="0.8" />
<line x1="78.80" y1="310.00" x2="78.80" y2="397.60" stroke="#8a48d8" stroke-width="1.1" />
<line x1="73.80" y1="366.60" x2="73.80" y2="397.60" stroke="#8a48d8" stroke-width="1.1" />
<rect x="82.10" y="321.80" width="5.00" height="75.80" fill="none" stroke="#8c7a40" stroke-width="1.1" />
<line x1="84.60" y1="316.80" x2="84.60" y2="321.80" stroke="#8c7a40" stroke-width="0.8" />
<line x1="83.30" y1="316.80" x2="85.90" y2="316.80" stroke="#8c7a40" stroke-width="0.8" />
<rect x="90.10" y="314.20" width="5.00" height="83.40" fill="none" stroke="#111111" stroke-width="1.1" />
<line x1="92.60" y1="312.30" x2="92.60" y2="314.20" stroke="#111111" stroke-width="0.8" />
<line x1="91.30" y1="312.30" x2="93.90" y2="312.30" stroke="#111111" stroke-width="0.8" />
<rect x="108.50" y="310.80" width="5.00" height="86.80" fill="none" stroke="#9a5a3c" stroke-width="1.1" />
<line x1="111.00" y1="305.50" x2="111.00" y2="310.80" stroke="#9a5a3c" stroke-width="0.8" />
<line x1="109.70" y1="305.50" x2="112.30" y2="305.50" stroke="#9a5a3c" stroke-width="0.8" />
<rect x="116.90" y="316.20" width="5.00" height="81.40" fill="none" stroke="#2a2acc" stroke-width="1.1" />
<line x1="119.40" y1="310.40" x2="119.40" y2="316.20" stroke="#2a2acc" stroke-width="0.8" />
<line x1="118.10" y1="310.40" x2="120.70" y2="310.40" stroke="#2a2acc" stroke-width="0.8" />
<rect x="124.90" y="320.20" width="5.00" height="77.40" fill="none" stroke="#5cc040" stroke-width="1.1" />
<line x1="127.40" y1="313.40" x2="127.40" y2="320.20" stroke="#5cc040" stroke-width="0.8" />
<line x1="126.10" y1="313.40" x2="128.70" y2="313.40" stroke="#5cc040" stroke-width="0.8" />
<rect x="132.80" y="329.40" width="5.00" height="68.20" fill="none" stroke="#e0b070" stroke-width="1.1" />
<line x1="135.30" y1="320.80" x2="135.30" y2="329.40" stroke="#e0b070" stroke-width="0.8" />
<line x1="134.00" y1="320.80" x2="136.60" y2="320.80" stroke="#e0b070" stroke-width="0.8" />
<rect x="140.80" y="334.10" width="5.00" height="63.50" fill="none" stroke="#8a48d8" stroke-width="1.1" />
<line x1="143.30" y1="328.80" x2="143.30" y2="334.10" stroke="#8a48d8" stroke-width="0.8" />
<line x1="142.00" y1="328.80" x2="144.60" y2="328.80" stroke="#8a48d8" stroke-width="0.8" />
<rect x="149.10" y="345.10" width="5.00" height="52.50" fill="none" stroke="#8c7a40" stroke-width="1.1" />
<line x1="151.60" y1="342.70" x2="151.60" y2="345.10" stroke="#8c7a40" stroke-width="0.8" />
<line x1="150.30" y1="342.70" x2="152.90" y2="342.70" stroke="#8c7a40" stroke-width="0.8" />
<rect x="157.30" y="337.10" width="5.00" height="60.50" fill="none" stroke="#111111" stroke-width="1.1" />
<line x1="159.80" y1="330.70" x2="159.80" y2="337.10" stroke="#111111" stroke-width="0.8" />
<line x1="158.50" y1="330.70" x2="161.10" y2="330.70" stroke="#111111" stroke-width="0.8" />
<rect x="175.50" y="325.40" width="5.00" height="72.20" fill="none" stroke="#9a5a3c" stroke-width="1.1" />
<line x1="178.00" y1="321.40" x2="178.00" y2="325.40" stroke="#9a5a3c" stroke-width="0.8" />
<line x1="176.70" y1="321.40" x2="179.30" y2="321.40" stroke="#9a5a3c" stroke-width="0.8" />
<rect x="183.50" y="328.40" width="5.00" height="69.20" fill="none" stroke="#2a2acc" stroke-width="1.1" />
<line x1="186.00" y1="324.80" x2="186.00" y2="328.40" stroke="#2a2acc" stroke-width="0.8" />
<line x1="184.70" y1="324.80" x2="187.30" y2="324.80" stroke="#2a2acc" stroke-width="0.8" />
<rect x="191.50" y="333.30" width="5.00" height="64.30" fill="none" stroke="#5cc040" stroke-width="1.1" />
<line x1="194.00" y1="328.80" x2="194.00" y2="333.30" stroke="#5cc040" stroke-width="0.8" />
<line x1="192.70" y1="328.80" x2="195.30" y2="328.80" stroke="#5cc040" stroke-width="0.8" />
<rect x="200.00" y="339.30" width="5.00" height="58.30" fill="none" stroke="#e0b070" stroke-width="1.1" />
<line x1="202.50" y1="333.70" x2="202.50" y2="339.30" stroke="#e0b070" stroke-width="0.8" />
<line x1="201.20" y1="333.70" x2="203.80" y2="333.70" stroke="#e0b070" stroke-width="0.8" />
<rect x="207.40" y="345.30" width="5.00" height="52.30" fill="none" stroke="#8a48d8" stroke-width="1.1" />
<line x1="209.90" y1="341.70" x2="209.90" y2="345.30" stroke="#8a48d8" stroke-width="0.8" />
<line x1="208.60" y1="341.70" x2="211.20" y2="341.70" stroke="#8a48d8" stroke-width="0.8" />
<rect x="216.10" y="357.00" width="5.00" height="40.60" fill="none" stroke="#8c7a40" stroke-width="1.1" />
<line x1="218.60" y1="353.60" x2="218.60" y2="357.00" stroke="#8c7a40" stroke-width="0.8" />
<line x1="217.30" y1="353.60" x2="219.90" y2="353.60" stroke="#8c7a40" stroke-width="0.8" />
<rect x="224.10" y="349.30" width="5.00" height="48.30" fill="none" stroke="#111111" stroke-width="1.1" />
<line x1="226.60" y1="343.70" x2="226.60" y2="349.30" stroke="#111111" stroke-width="0.8" />
<line x1="225.30" y1="343.70" x2="227.90" y2="343.70" stroke="#111111" stroke-width="0.8" />
<circle cx="60.90" cy="296.20" r="0.95" fill="#1a1a1a" stroke="none" stroke-width="1" />
<circle cx="67.05" cy="299.80" r="0.95" fill="#1a1a1a" stroke="none" stroke-width="1" />
<circle cx="70.15" cy="299.80" r="0.95" fill="#1a1a1a" stroke="none" stroke-width="1" />
<circle cx="75.25" cy="305.30" r="0.95" fill="#1a1a1a" stroke="none" stroke-width="1" />
<circle cx="78.35" cy="305.30" r="0.95" fill="#1a1a1a" stroke="none" stroke-width="1" />
<text x="84.50" y="281.55" font-size="5.7" font-weight="bold" fill="#3a3a3a" stroke="#3a3a3a" stroke-width="0.1" text-anchor="middle" font-family='"Liberation Sans", sans-serif' >@</text>
<text x="84.50" y="286.55" font-size="5.7" font-weight="bold" fill="#3a3a3a" stroke="#3a3a3a" stroke-width="0.1" text-anchor="middle" font-family='"Liberation Sans", sans-serif' >%%</text>
<text x="84.50" y="291.85" font-size="5.7" font-weight="bold" fill="#3a3a3a" stroke="#3a3a3a" stroke-width="0.1" text-anchor="middle" font-family='"Liberation Sans", sans-serif' >$$</text>
<text x="84.50" y="296.55" font-size="5.7" font-weight="bold" fill="#3a3a3a" stroke="#3a3a3a" stroke-width="0.1" text-anchor="middle" font-family='"Liberation Sans", sans-serif' >###</text>
<circle cx="81.40" cy="299.30" r="0.95" fill="#1a1a1a" stroke="none" stroke-width="1" />
<circle cx="84.50" cy="299.30" r="0.95" fill="#1a1a1a" stroke="none" stroke-width="1" />
<circle cx="87.60" cy="299.30" r="0.95" fill="#1a1a1a" stroke="none" stroke-width="1" />
<line x1="84.40" y1="301.30" x2="84.40" y2="310.10" stroke="#111" stroke-width="0.9" />
<path d="M82.70,309.40 L86.10,309.40 L84.40,312.60 Z" fill="#111"/>
<text x="92.50" y="307.05" font-size="5.7" font-weight="bold" fill="#3a3a3a" stroke="#3a3a3a" stroke-width="0.1" text-anchor="middle" font-family='"Liberation Sans", sans-serif' >#</text>
<circle cx="89.50" cy="309.50" r="0.95" fill="#1a1a1a" stroke="none" stroke-width="1" />
<circle cx="92.60" cy="309.50" r="0.95" fill="#1a1a1a" stroke="none" stroke-width="1" />
<circle cx="95.70" cy="309.50" r="0.95" fill="#1a1a1a" stroke="none" stroke-width="1" />
<circle cx="132.85" cy="317.80" r="0.95" fill="#1a1a1a" stroke="none" stroke-width="1" />
<circle cx="135.95" cy="317.80" r="0.95" fill="#1a1a1a" stroke="none" stroke-width="1" />
<text x="143.00" y="318.45" font-size="5.7" font-weight="bold" fill="#3a3a3a" stroke="#3a3a3a" stroke-width="0.1" text-anchor="middle" font-family='"Liberation Sans", sans-serif' >$</text>
<text x="143.00" y="323.45" font-size="5.7" font-weight="bold" fill="#3a3a3a" stroke="#3a3a3a" stroke-width="0.1" text-anchor="middle" font-family='"Liberation Sans", sans-serif' >##</text>
<circle cx="139.90" cy="326.40" r="0.95" fill="#1a1a1a" stroke="none" stroke-width="1" />
<circle cx="143.00" cy="326.40" r="0.95" fill="#1a1a1a" stroke="none" stroke-width="1" />
<circle cx="146.10" cy="326.40" r="0.95" fill="#1a1a1a" stroke="none" stroke-width="1" />
<text x="151.70" y="291.05" font-size="5.7" font-weight="bold" fill="#3a3a3a" stroke="#3a3a3a" stroke-width="0.1" text-anchor="middle" font-family='"Liberation Sans", sans-serif' >@@@</text>
<text x="151.70" y="296.05" font-size="5.7" font-weight="bold" fill="#3a3a3a" stroke="#3a3a3a" stroke-width="0.1" text-anchor="middle" font-family='"Liberation Sans", sans-serif' >%%%</text>
<text x="151.70" y="301.05" font-size="5.7" font-weight="bold" fill="#3a3a3a" stroke="#3a3a3a" stroke-width="0.1" text-anchor="middle" font-family='"Liberation Sans", sans-serif' >$$$</text>
<text x="151.70" y="305.55" font-size="5.7" font-weight="bold" fill="#3a3a3a" stroke="#3a3a3a" stroke-width="0.1" text-anchor="middle" font-family='"Liberation Sans", sans-serif' >###</text>
<circle cx="148.60" cy="308.50" r="0.95" fill="#1a1a1a" stroke="none" stroke-width="1" />
<circle cx="151.70" cy="308.50" r="0.95" fill="#1a1a1a" stroke="none" stroke-width="1" />
<circle cx="154.80" cy="308.50" r="0.95" fill="#1a1a1a" stroke="none" stroke-width="1" />
<line x1="151.70" y1="310.60" x2="151.70" y2="338.30" stroke="#111" stroke-width="0.9" />
<path d="M150.00,337.60 L153.40,337.60 L151.70,340.80 Z" fill="#111"/>
<text x="160.00" y="313.85" font-size="5.7" font-weight="bold" fill="#3a3a3a" stroke="#3a3a3a" stroke-width="0.1" text-anchor="middle" font-family='"Liberation Sans", sans-serif' >@</text>
<text x="160.00" y="318.85" font-size="5.7" font-weight="bold" fill="#3a3a3a" stroke="#3a3a3a" stroke-width="0.1" text-anchor="middle" font-family='"Liberation Sans", sans-serif' >$$</text>
<text x="160.00" y="323.85" font-size="5.7" font-weight="bold" fill="#3a3a3a" stroke="#3a3a3a" stroke-width="0.1" text-anchor="middle" font-family='"Liberation Sans", sans-serif' >##</text>
<circle cx="156.90" cy="326.80" r="0.95" fill="#1a1a1a" stroke="none" stroke-width="1" />
<circle cx="160.00" cy="326.80" r="0.95" fill="#1a1a1a" stroke="none" stroke-width="1" />
<circle cx="163.10" cy="326.80" r="0.95" fill="#1a1a1a" stroke="none" stroke-width="1" />
<circle cx="192.95" cy="325.40" r="0.95" fill="#1a1a1a" stroke="none" stroke-width="1" />
<circle cx="196.05" cy="325.40" r="0.95" fill="#1a1a1a" stroke="none" stroke-width="1" />
<circle cx="199.30" cy="328.40" r="0.95" fill="#1a1a1a" stroke="none" stroke-width="1" />
<circle cx="202.40" cy="328.40" r="0.95" fill="#1a1a1a" stroke="none" stroke-width="1" />
<circle cx="205.50" cy="328.40" r="0.95" fill="#1a1a1a" stroke="none" stroke-width="1" />
<text x="210.40" y="330.25" font-size="5.7" font-weight="bold" fill="#3a3a3a" stroke="#3a3a3a" stroke-width="0.1" text-anchor="middle" font-family='"Liberation Sans", sans-serif' >$</text>
<text x="210.40" y="335.35" font-size="5.7" font-weight="bold" fill="#3a3a3a" stroke="#3a3a3a" stroke-width="0.1" text-anchor="middle" font-family='"Liberation Sans", sans-serif' >###</text>
<circle cx="207.30" cy="338.10" r="0.95" fill="#1a1a1a" stroke="none" stroke-width="1" />
<circle cx="210.40" cy="338.10" r="0.95" fill="#1a1a1a" stroke="none" stroke-width="1" />
<circle cx="213.50" cy="338.10" r="0.95" fill="#1a1a1a" stroke="none" stroke-width="1" />
<text x="217.70" y="301.95" font-size="5.7" font-weight="bold" fill="#3a3a3a" stroke="#3a3a3a" stroke-width="0.1" text-anchor="middle" font-family='"Liberation Sans", sans-serif' >@@</text>
<text x="217.70" y="306.95" font-size="5.7" font-weight="bold" fill="#3a3a3a" stroke="#3a3a3a" stroke-width="0.1" text-anchor="middle" font-family='"Liberation Sans", sans-serif' >%%%</text>
<text x="217.70" y="311.95" font-size="5.7" font-weight="bold" fill="#3a3a3a" stroke="#3a3a3a" stroke-width="0.1" text-anchor="middle" font-family='"Liberation Sans", sans-serif' >$$$</text>
<text x="217.70" y="316.85" font-size="5.7" font-weight="bold" fill="#3a3a3a" stroke="#3a3a3a" stroke-width="0.1" text-anchor="middle" font-family='"Liberation Sans", sans-serif' >###</text>
<circle cx="214.60" cy="319.80" r="0.95" fill="#1a1a1a" stroke="none" stroke-width="1" />
<circle cx="217.70" cy="319.80" r="0.95" fill="#1a1a1a" stroke="none" stroke-width="1" />
<circle cx="220.80" cy="319.80" r="0.95" fill="#1a1a1a" stroke="none" stroke-width="1" />
<line x1="217.70" y1="321.80" x2="217.70" y2="350.30" stroke="#111" stroke-width="0.9" />
<path d="M216.00,349.60 L219.40,349.60 L217.70,352.80 Z" fill="#111"/>
<text x="225.30" y="329.45" font-size="5.7" font-weight="bold" fill="#3a3a3a" stroke="#3a3a3a" stroke-width="0.1" text-anchor="middle" font-family='"Liberation Sans", sans-serif' >@</text>
<text x="225.30" y="334.15" font-size="5.7" font-weight="bold" fill="#3a3a3a" stroke="#3a3a3a" stroke-width="0.1" text-anchor="middle" font-family='"Liberation Sans", sans-serif' >$$</text>
<text x="225.30" y="338.75" font-size="5.7" font-weight="bold" fill="#3a3a3a" stroke="#3a3a3a" stroke-width="0.1" text-anchor="middle" font-family='"Liberation Sans", sans-serif' >###</text>
<circle cx="222.20" cy="341.30" r="0.95" fill="#1a1a1a" stroke="none" stroke-width="1" />
<circle cx="225.30" cy="341.30" r="0.95" fill="#1a1a1a" stroke="none" stroke-width="1" />
<circle cx="228.40" cy="341.30" r="0.95" fill="#1a1a1a" stroke="none" stroke-width="1" />
<line x1="34.90" y1="456.00" x2="34.90" y2="618.00" stroke="#1a1a1a" stroke-width="1.1" />
<line x1="34.40" y1="617.50" x2="237.30" y2="617.50" stroke="#1a1a1a" stroke-width="1.1" />
<line x1="32.90" y1="617.50" x2="34.90" y2="617.50" stroke="#1a1a1a" stroke-width="0.9" />
<text x="31.80" y="620.10" font-size="7.2" font-weight="bold" fill="#1a1a1a" stroke="#1a1a1a" stroke-width="0.22" text-anchor="end" font-family='"Liberation Sans", sans-serif' >0</text>
<line x1="32.90" y1="601.38" x2="34.90" y2="601.38" stroke="#1a1a1a" stroke-width="0.9" />
<text x="31.80" y="603.98" font-size="7.2" font-weight="bold" fill="#1a1a1a" stroke="#1a1a1a" stroke-width="0.22" text-anchor="end" font-family='"Liberation Sans", sans-serif' >2</text>
<line x1="32.90" y1="585.26" x2="34.90" y2="585.26" stroke="#1a1a1a" stroke-width="0.9" />
<text x="31.80" y="587.86" font-size="7.2" font-weight="bold" fill="#1a1a1a" stroke="#1a1a1a" stroke-width="0.22" text-anchor="end" font-family='"Liberation Sans", sans-serif' >4</text>
<line x1="32.90" y1="569.14" x2="34.90" y2="569.14" stroke="#1a1a1a" stroke-width="0.9" />
<text x="31.80" y="571.74" font-size="7.2" font-weight="bold" fill="#1a1a1a" stroke="#1a1a1a" stroke-width="0.22" text-anchor="end" font-family='"Liberation Sans", sans-serif' >6</text>
<line x1="32.90" y1="553.02" x2="34.90" y2="553.02" stroke="#1a1a1a" stroke-width="0.9" />
<text x="31.80" y="555.62" font-size="7.2" font-weight="bold" fill="#1a1a1a" stroke="#1a1a1a" stroke-width="0.22" text-anchor="end" font-family='"Liberation Sans", sans-serif' >8</text>
<line x1="32.90" y1="536.90" x2="34.90" y2="536.90" stroke="#1a1a1a" stroke-width="0.9" />
<text x="31.80" y="539.50" font-size="7.2" font-weight="bold" fill="#1a1a1a" stroke="#1a1a1a" stroke-width="0.22" text-anchor="end" font-family='"Liberation Sans", sans-serif' >10</text>
<line x1="32.90" y1="520.78" x2="34.90" y2="520.78" stroke="#1a1a1a" stroke-width="0.9" />
<text x="31.80" y="523.38" font-size="7.2" font-weight="bold" fill="#1a1a1a" stroke="#1a1a1a" stroke-width="0.22" text-anchor="end" font-family='"Liberation Sans", sans-serif' >12</text>
<line x1="32.90" y1="504.66" x2="34.90" y2="504.66" stroke="#1a1a1a" stroke-width="0.9" />
<text x="31.80" y="507.26" font-size="7.2" font-weight="bold" fill="#1a1a1a" stroke="#1a1a1a" stroke-width="0.22" text-anchor="end" font-family='"Liberation Sans", sans-serif' >14</text>
<line x1="32.90" y1="488.54" x2="34.90" y2="488.54" stroke="#1a1a1a" stroke-width="0.9" />
<text x="31.80" y="491.14" font-size="7.2" font-weight="bold" fill="#1a1a1a" stroke="#1a1a1a" stroke-width="0.22" text-anchor="end" font-family='"Liberation Sans", sans-serif' >16</text>
<line x1="32.90" y1="472.42" x2="34.90" y2="472.42" stroke="#1a1a1a" stroke-width="0.9" />
<text x="31.80" y="475.02" font-size="7.2" font-weight="bold" fill="#1a1a1a" stroke="#1a1a1a" stroke-width="0.22" text-anchor="end" font-family='"Liberation Sans", sans-serif' >18</text>
<line x1="32.90" y1="456.30" x2="34.90" y2="456.30" stroke="#1a1a1a" stroke-width="0.9" />
<text x="31.80" y="458.90" font-size="7.2" font-weight="bold" fill="#1a1a1a" stroke="#1a1a1a" stroke-width="0.22" text-anchor="end" font-family='"Liberation Sans", sans-serif' >20</text>
<line x1="79.70" y1="617.50" x2="79.70" y2="619.70" stroke="#1a1a1a" stroke-width="0.9" />
<text x="79.70" y="628.30" font-size="8.0" font-weight="bold" fill="#1a1a1a" stroke="#1a1a1a" stroke-width="0.22" text-anchor="middle" font-family='"Liberation Sans", sans-serif' >AT</text>
<line x1="192.60" y1="617.50" x2="192.60" y2="619.70" stroke="#1a1a1a" stroke-width="0.9" />
<text x="192.60" y="628.30" font-size="8.0" font-weight="bold" fill="#1a1a1a" stroke="#1a1a1a" stroke-width="0.22" text-anchor="middle" font-family='"Liberation Sans", sans-serif' >DT</text>
<text transform="translate(19.4,535.2) rotate(-90)" x="0" y="0" font-size="9.0" font-weight="bold" fill="#1a1a1a" stroke="#1a1a1a" stroke-width="0.22" text-anchor="middle" font-family='"Liberation Sans", sans-serif'>Effective permeability (<tspan font-style="italic">P</tspan><tspan font-size="6" dy="1.8">e</tspan><tspan dy="-1.8">, </tspan><tspan font-size="6.5">x</tspan><tspan> 10</tspan><tspan font-size="6.3" dy="-3.2">-6</tspan><tspan dy="3.2">cm/s)</tspan></text>
<rect x="39.30" y="456.80" width="6.20" height="4.60" fill="none" stroke="#c04a48" stroke-width="1.2" />
<text x="51.00" y="461.70" font-size="7.6" font-weight="bold" fill="#1a1a1a" stroke="#1a1a1a" stroke-width="0.22" text-anchor="start" font-family='"Liberation Sans", sans-serif' >AT/DT in 0.5% DMSO</text>
<rect x="39.30" y="466.60" width="6.20" height="4.60" fill="none" stroke="#2828cc" stroke-width="1.2" />
<text x="51.00" y="471.50" font-size="7.6" font-weight="bold" fill="#1a1a1a" stroke="#1a1a1a" stroke-width="0.22" text-anchor="start" font-family='"Liberation Sans", sans-serif' >AT/DT-NE#A</text>
<rect x="39.30" y="476.40" width="6.20" height="4.60" fill="none" stroke="#55c040" stroke-width="1.2" />
<text x="51.00" y="481.30" font-size="7.6" font-weight="bold" fill="#1a1a1a" stroke="#1a1a1a" stroke-width="0.22" text-anchor="start" font-family='"Liberation Sans", sans-serif' >AT/DT-NE#B</text>
<rect x="39.30" y="486.20" width="6.20" height="4.60" fill="none" stroke="#e8c8a0" stroke-width="1.2" />
<text x="51.00" y="491.10" font-size="7.6" font-weight="bold" fill="#1a1a1a" stroke="#1a1a1a" stroke-width="0.22" text-anchor="start" font-family='"Liberation Sans", sans-serif' >AT/DT-NE#C</text>
<rect x="39.30" y="496.00" width="6.20" height="4.60" fill="none" stroke="#9a48e0" stroke-width="1.2" />
<text x="51.00" y="500.90" font-size="7.6" font-weight="bold" fill="#1a1a1a" stroke="#1a1a1a" stroke-width="0.22" text-anchor="start" font-family='"Liberation Sans", sans-serif' >AT/DT-NE#D</text>
<rect x="39.30" y="505.80" width="6.20" height="4.60" fill="none" stroke="#111111" stroke-width="1.2" />
<text x="51.00" y="510.70" font-size="7.6" font-weight="bold" fill="#1a1a1a" stroke="#1a1a1a" stroke-width="0.22" text-anchor="start" font-family='"Liberation Sans", sans-serif' >AT/DT-NE#E</text>
<rect x="40.70" y="601.78" width="10.30" height="15.72" fill="#fff0f3" stroke="#c04a48" stroke-width="1.2" />
<line x1="45.85" y1="596.95" x2="45.85" y2="601.78" stroke="#c04a48" stroke-width="0.9" />
<line x1="43.65" y1="596.95" x2="48.05" y2="596.95" stroke="#c04a48" stroke-width="0.9" />
<rect x="53.60" y="581.07" width="10.30" height="36.43" fill="none" stroke="#2828cc" stroke-width="1.2" />
<line x1="58.75" y1="577.44" x2="58.75" y2="581.07" stroke="#2828cc" stroke-width="0.9" />
<line x1="56.55" y1="577.44" x2="60.95" y2="577.44" stroke="#2828cc" stroke-width="0.9" />
<rect x="67.50" y="572.36" width="10.30" height="45.14" fill="#f0fff6" stroke="#55c040" stroke-width="1.2" />
<line x1="72.65" y1="568.74" x2="72.65" y2="572.36" stroke="#55c040" stroke-width="0.9" />
<line x1="70.45" y1="568.74" x2="74.85" y2="568.74" stroke="#55c040" stroke-width="0.9" />
<rect x="80.80" y="556.00" width="10.30" height="61.50" fill="#fffaf4" stroke="#e8c8a0" stroke-width="1.2" />
<line x1="85.95" y1="553.18" x2="85.95" y2="556.00" stroke="#e8c8a0" stroke-width="0.9" />
<line x1="83.75" y1="553.18" x2="88.15" y2="553.18" stroke="#e8c8a0" stroke-width="0.9" />
<rect x="94.40" y="562.53" width="10.30" height="54.97" fill="none" stroke="#9a48e0" stroke-width="1.2" />
<line x1="99.55" y1="558.50" x2="99.55" y2="562.53" stroke="#9a48e0" stroke-width="0.9" />
<line x1="97.35" y1="558.50" x2="101.75" y2="558.50" stroke="#9a48e0" stroke-width="0.9" />
<rect x="107.90" y="541.17" width="10.30" height="76.33" fill="none" stroke="#111111" stroke-width="1.2" />
<line x1="113.05" y1="538.75" x2="113.05" y2="541.17" stroke="#111111" stroke-width="0.9" />
<line x1="110.85" y1="538.75" x2="115.25" y2="538.75" stroke="#111111" stroke-width="0.9" />
<rect x="153.20" y="600.57" width="10.30" height="16.93" fill="#fff0f3" stroke="#c04a48" stroke-width="1.2" />
<line x1="158.35" y1="592.51" x2="158.35" y2="600.57" stroke="#c04a48" stroke-width="0.9" />
<line x1="156.15" y1="592.51" x2="160.55" y2="592.51" stroke="#c04a48" stroke-width="0.9" />
<rect x="167.50" y="563.90" width="10.30" height="53.60" fill="none" stroke="#2828cc" stroke-width="1.2" />
<line x1="172.65" y1="559.87" x2="172.65" y2="563.90" stroke="#2828cc" stroke-width="0.9" />
<line x1="170.45" y1="559.87" x2="174.85" y2="559.87" stroke="#2828cc" stroke-width="0.9" />
<rect x="180.70" y="519.49" width="10.30" height="98.01" fill="#f0fff6" stroke="#55c040" stroke-width="1.2" />
<line x1="185.85" y1="515.46" x2="185.85" y2="519.49" stroke="#55c040" stroke-width="0.9" />
<line x1="183.65" y1="515.46" x2="188.05" y2="515.46" stroke="#55c040" stroke-width="0.9" />
<rect x="194.10" y="506.43" width="10.30" height="111.07" fill="#fffaf4" stroke="#e8c8a0" stroke-width="1.2" />
<line x1="199.25" y1="502.81" x2="199.25" y2="506.43" stroke="#e8c8a0" stroke-width="0.9" />
<line x1="197.05" y1="502.81" x2="201.45" y2="502.81" stroke="#e8c8a0" stroke-width="0.9" />
<rect x="207.30" y="516.51" width="10.30" height="100.99" fill="none" stroke="#9a48e0" stroke-width="1.2" />
<line x1="212.45" y1="514.09" x2="212.45" y2="516.51" stroke="#9a48e0" stroke-width="0.9" />
<line x1="210.25" y1="514.09" x2="214.65" y2="514.09" stroke="#9a48e0" stroke-width="0.9" />
<rect x="221.10" y="488.30" width="10.30" height="129.20" fill="none" stroke="#111111" stroke-width="1.2" />
<line x1="226.25" y1="483.46" x2="226.25" y2="488.30" stroke="#111111" stroke-width="0.9" />
<line x1="224.05" y1="483.46" x2="228.45" y2="483.46" stroke="#111111" stroke-width="0.9" />
<line x1="339.30" y1="454.00" x2="339.30" y2="618.20" stroke="#1a1a1a" stroke-width="1.1" />
<line x1="338.80" y1="617.70" x2="545.40" y2="617.70" stroke="#1a1a1a" stroke-width="1.1" />
<line x1="337.30" y1="617.70" x2="339.30" y2="617.70" stroke="#1a1a1a" stroke-width="0.9" />
<text x="336.30" y="620.30" font-size="7.2" font-weight="bold" fill="#1a1a1a" stroke="#1a1a1a" stroke-width="0.22" text-anchor="end" font-family='"Liberation Sans", sans-serif' >0</text>
<line x1="337.30" y1="594.36" x2="339.30" y2="594.36" stroke="#1a1a1a" stroke-width="0.9" />
<text x="336.30" y="596.96" font-size="7.2" font-weight="bold" fill="#1a1a1a" stroke="#1a1a1a" stroke-width="0.22" text-anchor="end" font-family='"Liberation Sans", sans-serif' >2</text>
<line x1="337.30" y1="571.01" x2="339.30" y2="571.01" stroke="#1a1a1a" stroke-width="0.9" />
<text x="336.30" y="573.61" font-size="7.2" font-weight="bold" fill="#1a1a1a" stroke="#1a1a1a" stroke-width="0.22" text-anchor="end" font-family='"Liberation Sans", sans-serif' >4</text>
<line x1="337.30" y1="547.67" x2="339.30" y2="547.67" stroke="#1a1a1a" stroke-width="0.9" />
<text x="336.30" y="550.27" font-size="7.2" font-weight="bold" fill="#1a1a1a" stroke="#1a1a1a" stroke-width="0.22" text-anchor="end" font-family='"Liberation Sans", sans-serif' >6</text>
<line x1="337.30" y1="524.33" x2="339.30" y2="524.33" stroke="#1a1a1a" stroke-width="0.9" />
<text x="336.30" y="526.93" font-size="7.2" font-weight="bold" fill="#1a1a1a" stroke="#1a1a1a" stroke-width="0.22" text-anchor="end" font-family='"Liberation Sans", sans-serif' >8</text>
<line x1="337.30" y1="500.99" x2="339.30" y2="500.99" stroke="#1a1a1a" stroke-width="0.9" />
<text x="336.30" y="503.59" font-size="7.2" font-weight="bold" fill="#1a1a1a" stroke="#1a1a1a" stroke-width="0.22" text-anchor="end" font-family='"Liberation Sans", sans-serif' >10</text>
<line x1="337.30" y1="477.64" x2="339.30" y2="477.64" stroke="#1a1a1a" stroke-width="0.9" />
<text x="336.30" y="480.24" font-size="7.2" font-weight="bold" fill="#1a1a1a" stroke="#1a1a1a" stroke-width="0.22" text-anchor="end" font-family='"Liberation Sans", sans-serif' >12</text>
<line x1="337.30" y1="454.30" x2="339.30" y2="454.30" stroke="#1a1a1a" stroke-width="0.9" />
<text x="336.30" y="456.90" font-size="7.2" font-weight="bold" fill="#1a1a1a" stroke="#1a1a1a" stroke-width="0.22" text-anchor="end" font-family='"Liberation Sans", sans-serif' >14</text>
<line x1="381.60" y1="617.70" x2="381.60" y2="619.90" stroke="#1a1a1a" stroke-width="0.9" />
<text x="381.60" y="628.30" font-size="8.0" font-weight="bold" fill="#1a1a1a" stroke="#1a1a1a" stroke-width="0.22" text-anchor="middle" font-family='"Liberation Sans", sans-serif' >AT</text>
<line x1="499.20" y1="617.70" x2="499.20" y2="619.90" stroke="#1a1a1a" stroke-width="0.9" />
<text x="499.20" y="628.30" font-size="8.0" font-weight="bold" fill="#1a1a1a" stroke="#1a1a1a" stroke-width="0.22" text-anchor="middle" font-family='"Liberation Sans", sans-serif' >DT</text>
<text transform="translate(324.6,534.4) rotate(-90)" x="0" y="0" font-size="9.0" font-weight="bold" fill="#1a1a1a" stroke="#1a1a1a" stroke-width="0.22" text-anchor="middle" font-family='"Liberation Sans", sans-serif'>Apparent permeability (<tspan font-style="italic">P</tspan><tspan font-size="6" dy="1.8" font-style="italic">app</tspan><tspan dy="-1.8"> </tspan><tspan font-size="6.5">x</tspan><tspan> 10</tspan><tspan font-size="6.3" dy="-3.2">-6</tspan><tspan dy="3.2"> cm/s)</tspan></text>
<rect x="344.50" y="454.60" width="6.20" height="4.60" fill="none" stroke="#9a4a2a" stroke-width="1.2" />
<text x="355.40" y="459.50" font-size="7.6" font-weight="bold" fill="#1a1a1a" stroke="#1a1a1a" stroke-width="0.22" text-anchor="start" font-family='"Liberation Sans", sans-serif' >AT/DT in 0.5% DMSO</text>
<rect x="344.50" y="464.60" width="6.20" height="4.60" fill="none" stroke="#2828cc" stroke-width="1.2" />
<text x="355.40" y="469.50" font-size="7.6" font-weight="bold" fill="#1a1a1a" stroke="#1a1a1a" stroke-width="0.22" text-anchor="start" font-family='"Liberation Sans", sans-serif' >AT/DT-NE#A</text>
<rect x="344.50" y="474.50" width="6.20" height="4.60" fill="none" stroke="#44c044" stroke-width="1.2" />
<text x="355.40" y="479.40" font-size="7.6" font-weight="bold" fill="#1a1a1a" stroke="#1a1a1a" stroke-width="0.22" text-anchor="start" font-family='"Liberation Sans", sans-serif' >AT/DT-NE#B</text>
<rect x="344.50" y="484.40" width="6.20" height="4.60" fill="none" stroke="#e0cc98" stroke-width="1.2" />
<text x="355.40" y="489.30" font-size="7.6" font-weight="bold" fill="#1a1a1a" stroke="#1a1a1a" stroke-width="0.22" text-anchor="start" font-family='"Liberation Sans", sans-serif' >AT/DT-NE#C</text>
<rect x="344.50" y="494.30" width="6.20" height="4.60" fill="none" stroke="#9a40f0" stroke-width="1.2" />
<text x="355.40" y="499.20" font-size="7.6" font-weight="bold" fill="#1a1a1a" stroke="#1a1a1a" stroke-width="0.22" text-anchor="start" font-family='"Liberation Sans", sans-serif' >AT/DT-NE#D</text>
<rect x="344.50" y="504.20" width="6.20" height="4.60" fill="none" stroke="#111111" stroke-width="1.2" />
<text x="355.40" y="509.10" font-size="7.6" font-weight="bold" fill="#1a1a1a" stroke="#1a1a1a" stroke-width="0.22" text-anchor="start" font-family='"Liberation Sans", sans-serif' >AT/DT-NE#E</text>
<rect x="345.20" y="611.40" width="10.00" height="6.30" fill="#fff0f3" stroke="#9a4a2a" stroke-width="1.2" />
<line x1="350.20" y1="610.93" x2="350.20" y2="611.40" stroke="#9a4a2a" stroke-width="0.9" />
<line x1="348.00" y1="610.93" x2="352.40" y2="610.93" stroke="#9a4a2a" stroke-width="0.9" />
<rect x="359.00" y="600.08" width="10.00" height="17.62" fill="none" stroke="#2828cc" stroke-width="1.2" />
<line x1="364.00" y1="598.68" x2="364.00" y2="600.08" stroke="#2828cc" stroke-width="0.9" />
<line x1="361.80" y1="598.68" x2="366.20" y2="598.68" stroke="#2828cc" stroke-width="0.9" />
<rect x="372.70" y="587.82" width="10.00" height="29.88" fill="#f0fff6" stroke="#44c044" stroke-width="1.2" />
<line x1="377.70" y1="587.12" x2="377.70" y2="587.82" stroke="#44c044" stroke-width="0.9" />
<line x1="375.50" y1="587.12" x2="379.90" y2="587.12" stroke="#44c044" stroke-width="0.9" />
<rect x="386.50" y="564.01" width="10.00" height="53.69" fill="#fffaf4" stroke="#e0cc98" stroke-width="1.2" />
<line x1="391.50" y1="563.31" x2="391.50" y2="564.01" stroke="#e0cc98" stroke-width="0.9" />
<line x1="389.30" y1="563.31" x2="393.70" y2="563.31" stroke="#e0cc98" stroke-width="0.9" />
<rect x="400.10" y="576.97" width="10.00" height="40.73" fill="none" stroke="#9a40f0" stroke-width="1.2" />
<line x1="405.10" y1="576.27" x2="405.10" y2="576.97" stroke="#9a40f0" stroke-width="0.9" />
<line x1="402.90" y1="576.27" x2="407.30" y2="576.27" stroke="#9a40f0" stroke-width="0.9" />
<rect x="414.00" y="552.81" width="10.00" height="64.89" fill="none" stroke="#111111" stroke-width="1.2" />
<line x1="419.00" y1="551.41" x2="419.00" y2="552.81" stroke="#111111" stroke-width="0.9" />
<line x1="416.80" y1="551.41" x2="421.20" y2="551.41" stroke="#111111" stroke-width="0.9" />
<rect x="459.80" y="603.81" width="10.00" height="13.89" fill="#fff0f3" stroke="#9a4a2a" stroke-width="1.2" />
<line x1="464.80" y1="603.34" x2="464.80" y2="603.81" stroke="#9a4a2a" stroke-width="0.9" />
<line x1="462.60" y1="603.34" x2="467.00" y2="603.34" stroke="#9a4a2a" stroke-width="0.9" />
<rect x="473.70" y="581.64" width="10.00" height="36.06" fill="none" stroke="#2828cc" stroke-width="1.2" />
<line x1="478.70" y1="579.30" x2="478.70" y2="581.64" stroke="#2828cc" stroke-width="0.9" />
<line x1="476.50" y1="579.30" x2="480.90" y2="579.30" stroke="#2828cc" stroke-width="0.9" />
<rect x="487.60" y="555.02" width="10.00" height="62.68" fill="#f0fff6" stroke="#44c044" stroke-width="1.2" />
<line x1="492.60" y1="553.62" x2="492.60" y2="555.02" stroke="#44c044" stroke-width="0.9" />
<line x1="490.40" y1="553.62" x2="494.80" y2="553.62" stroke="#44c044" stroke-width="0.9" />
<rect x="501.20" y="506.94" width="10.00" height="110.76" fill="#fffaf4" stroke="#e0cc98" stroke-width="1.2" />
<line x1="506.20" y1="504.60" x2="506.20" y2="506.94" stroke="#e0cc98" stroke-width="0.9" />
<line x1="504.00" y1="504.60" x2="508.40" y2="504.60" stroke="#e0cc98" stroke-width="0.9" />
<rect x="515.10" y="532.73" width="10.00" height="84.97" fill="none" stroke="#9a40f0" stroke-width="1.2" />
<line x1="520.10" y1="530.98" x2="520.10" y2="532.73" stroke="#9a40f0" stroke-width="0.9" />
<line x1="517.90" y1="530.98" x2="522.30" y2="530.98" stroke="#9a40f0" stroke-width="0.9" />
<rect x="529.00" y="482.31" width="10.00" height="135.39" fill="none" stroke="#111111" stroke-width="1.2" />
<line x1="534.00" y1="479.39" x2="534.00" y2="482.31" stroke="#111111" stroke-width="0.9" />
<line x1="531.80" y1="479.39" x2="536.20" y2="479.39" stroke="#111111" stroke-width="0.9" />
<circle cx="56.00" cy="575.60" r="0.95" fill="#1a1a1a" stroke="none" stroke-width="1" />
<circle cx="59.00" cy="575.60" r="0.95" fill="#1a1a1a" stroke="none" stroke-width="1" />
<circle cx="62.00" cy="575.60" r="0.95" fill="#1a1a1a" stroke="none" stroke-width="1" />
<text x="72.50" y="562.49" font-size="5.8" font-weight="bold" fill="#3a3a3a" stroke="#3a3a3a" stroke-width="0.1" text-anchor="middle" font-family='"Liberation Sans", sans-serif' >#</text>
<circle cx="69.50" cy="566.30" r="0.95" fill="#1a1a1a" stroke="none" stroke-width="1" />
<circle cx="72.50" cy="566.30" r="0.95" fill="#1a1a1a" stroke="none" stroke-width="1" />
<circle cx="75.50" cy="566.30" r="0.95" fill="#1a1a1a" stroke="none" stroke-width="1" />
<text x="85.90" y="541.19" font-size="5.8" font-weight="bold" fill="#3a3a3a" stroke="#3a3a3a" stroke-width="0.1" text-anchor="middle" font-family='"Liberation Sans", sans-serif' >$$</text>
<text x="85.90" y="547.09" font-size="5.8" font-weight="bold" fill="#3a3a3a" stroke="#3a3a3a" stroke-width="0.1" text-anchor="middle" font-family='"Liberation Sans", sans-serif' >###</text>
<circle cx="82.90" cy="550.00" r="0.95" fill="#1a1a1a" stroke="none" stroke-width="1" />
<circle cx="85.90" cy="550.00" r="0.95" fill="#1a1a1a" stroke="none" stroke-width="1" />
<circle cx="88.90" cy="550.00" r="0.95" fill="#1a1a1a" stroke="none" stroke-width="1" />
<text x="99.40" y="546.09" font-size="5.8" font-weight="bold" fill="#3a3a3a" stroke="#3a3a3a" stroke-width="0.1" text-anchor="middle" font-family='"Liberation Sans", sans-serif' >$</text>
<text x="99.40" y="551.59" font-size="5.8" font-weight="bold" fill="#3a3a3a" stroke="#3a3a3a" stroke-width="0.1" text-anchor="middle" font-family='"Liberation Sans", sans-serif' >###</text>
<circle cx="96.40" cy="554.90" r="0.95" fill="#1a1a1a" stroke="none" stroke-width="1" />
<circle cx="99.40" cy="554.90" r="0.95" fill="#1a1a1a" stroke="none" stroke-width="1" />
<circle cx="102.40" cy="554.90" r="0.95" fill="#1a1a1a" stroke="none" stroke-width="1" />
<text x="113.00" y="515.69" font-size="5.8" font-weight="bold" fill="#3a3a3a" stroke="#3a3a3a" stroke-width="0.1" text-anchor="middle" font-family='"Liberation Sans", sans-serif' >@@@</text>
<text x="113.00" y="520.69" font-size="5.8" font-weight="bold" fill="#3a3a3a" stroke="#3a3a3a" stroke-width="0.1" text-anchor="middle" font-family='"Liberation Sans", sans-serif' >%%%</text>
<text x="113.00" y="526.39" font-size="5.8" font-weight="bold" fill="#3a3a3a" stroke="#3a3a3a" stroke-width="0.1" text-anchor="middle" font-family='"Liberation Sans", sans-serif' >$$$</text>
<text x="113.00" y="531.79" font-size="5.8" font-weight="bold" fill="#3a3a3a" stroke="#3a3a3a" stroke-width="0.1" text-anchor="middle" font-family='"Liberation Sans", sans-serif' >###</text>
<circle cx="110.00" cy="535.50" r="0.95" fill="#1a1a1a" stroke="none" stroke-width="1" />
<circle cx="113.00" cy="535.50" r="0.95" fill="#1a1a1a" stroke="none" stroke-width="1" />
<circle cx="116.00" cy="535.50" r="0.95" fill="#1a1a1a" stroke="none" stroke-width="1" />
<text x="172.10" y="552.79" font-size="5.8" font-weight="bold" fill="#3a3a3a" stroke="#3a3a3a" stroke-width="0.1" text-anchor="middle" font-family='"Liberation Sans", sans-serif' >###</text>
<circle cx="169.10" cy="555.60" r="0.95" fill="#1a1a1a" stroke="none" stroke-width="1" />
<circle cx="172.10" cy="555.60" r="0.95" fill="#1a1a1a" stroke="none" stroke-width="1" />
<circle cx="175.10" cy="555.60" r="0.95" fill="#1a1a1a" stroke="none" stroke-width="1" />
<text x="185.90" y="507.89" font-size="5.8" font-weight="bold" fill="#3a3a3a" stroke="#3a3a3a" stroke-width="0.1" text-anchor="middle" font-family='"Liberation Sans", sans-serif' >###</text>
<circle cx="182.90" cy="511.00" r="0.95" fill="#1a1a1a" stroke="none" stroke-width="1" />
<circle cx="185.90" cy="511.00" r="0.95" fill="#1a1a1a" stroke="none" stroke-width="1" />
<circle cx="188.90" cy="511.00" r="0.95" fill="#1a1a1a" stroke="none" stroke-width="1" />
<text x="199.00" y="490.09" font-size="5.8" font-weight="bold" fill="#3a3a3a" stroke="#3a3a3a" stroke-width="0.1" text-anchor="middle" font-family='"Liberation Sans", sans-serif' >$$</text>
<text x="199.00" y="495.89" font-size="5.8" font-weight="bold" fill="#3a3a3a" stroke="#3a3a3a" stroke-width="0.1" text-anchor="middle" font-family='"Liberation Sans", sans-serif' >###</text>
<circle cx="196.00" cy="499.00" r="0.95" fill="#1a1a1a" stroke="none" stroke-width="1" />
<circle cx="199.00" cy="499.00" r="0.95" fill="#1a1a1a" stroke="none" stroke-width="1" />
<circle cx="202.00" cy="499.00" r="0.95" fill="#1a1a1a" stroke="none" stroke-width="1" />
<text x="212.80" y="507.29" font-size="5.8" font-weight="bold" fill="#3a3a3a" stroke="#3a3a3a" stroke-width="0.1" text-anchor="middle" font-family='"Liberation Sans", sans-serif' >###</text>
<circle cx="209.80" cy="510.40" r="0.95" fill="#1a1a1a" stroke="none" stroke-width="1" />
<circle cx="212.80" cy="510.40" r="0.95" fill="#1a1a1a" stroke="none" stroke-width="1" />
<circle cx="215.80" cy="510.40" r="0.95" fill="#1a1a1a" stroke="none" stroke-width="1" />
<text x="225.70" y="460.49" font-size="5.8" font-weight="bold" fill="#3a3a3a" stroke="#3a3a3a" stroke-width="0.1" text-anchor="middle" font-family='"Liberation Sans", sans-serif' >@@@</text>
<text x="225.70" y="465.69" font-size="5.8" font-weight="bold" fill="#3a3a3a" stroke="#3a3a3a" stroke-width="0.1" text-anchor="middle" font-family='"Liberation Sans", sans-serif' >%%</text>
<text x="225.70" y="471.09" font-size="5.8" font-weight="bold" fill="#3a3a3a" stroke="#3a3a3a" stroke-width="0.1" text-anchor="middle" font-family='"Liberation Sans", sans-serif' >$$$</text>
<text x="225.70" y="476.69" font-size="5.8" font-weight="bold" fill="#3a3a3a" stroke="#3a3a3a" stroke-width="0.1" text-anchor="middle" font-family='"Liberation Sans", sans-serif' >###</text>
<circle cx="222.70" cy="479.80" r="0.95" fill="#1a1a1a" stroke="none" stroke-width="1" />
<circle cx="225.70" cy="479.80" r="0.95" fill="#1a1a1a" stroke="none" stroke-width="1" />
<circle cx="228.70" cy="479.80" r="0.95" fill="#1a1a1a" stroke="none" stroke-width="1" />
<circle cx="361.20" cy="595.50" r="0.95" fill="#1a1a1a" stroke="none" stroke-width="1" />
<circle cx="364.20" cy="595.50" r="0.95" fill="#1a1a1a" stroke="none" stroke-width="1" />
<circle cx="367.20" cy="595.50" r="0.95" fill="#1a1a1a" stroke="none" stroke-width="1" />
<text x="377.30" y="579.19" font-size="5.8" font-weight="bold" fill="#3a3a3a" stroke="#3a3a3a" stroke-width="0.1" text-anchor="middle" font-family='"Liberation Sans", sans-serif' >###</text>
<circle cx="374.30" cy="583.00" r="0.95" fill="#1a1a1a" stroke="none" stroke-width="1" />
<circle cx="377.30" cy="583.00" r="0.95" fill="#1a1a1a" stroke="none" stroke-width="1" />
<circle cx="380.30" cy="583.00" r="0.95" fill="#1a1a1a" stroke="none" stroke-width="1" />
<text x="391.40" y="544.69" font-size="5.8" font-weight="bold" fill="#3a3a3a" stroke="#3a3a3a" stroke-width="0.1" text-anchor="middle" font-family='"Liberation Sans", sans-serif' >@@@</text>
<text x="391.40" y="550.39" font-size="5.8" font-weight="bold" fill="#3a3a3a" stroke="#3a3a3a" stroke-width="0.1" text-anchor="middle" font-family='"Liberation Sans", sans-serif' >$$$</text>
<text x="391.40" y="556.99" font-size="5.8" font-weight="bold" fill="#3a3a3a" stroke="#3a3a3a" stroke-width="0.1" text-anchor="middle" font-family='"Liberation Sans", sans-serif' >###</text>
<circle cx="388.40" cy="560.00" r="0.95" fill="#1a1a1a" stroke="none" stroke-width="1" />
<circle cx="391.40" cy="560.00" r="0.95" fill="#1a1a1a" stroke="none" stroke-width="1" />
<circle cx="394.40" cy="560.00" r="0.95" fill="#1a1a1a" stroke="none" stroke-width="1" />
<text x="404.70" y="562.69" font-size="5.8" font-weight="bold" fill="#3a3a3a" stroke="#3a3a3a" stroke-width="0.1" text-anchor="middle" font-family='"Liberation Sans", sans-serif' >$$$</text>
<text x="404.70" y="568.79" font-size="5.8" font-weight="bold" fill="#3a3a3a" stroke="#3a3a3a" stroke-width="0.1" text-anchor="middle" font-family='"Liberation Sans", sans-serif' >###</text>
<circle cx="401.70" cy="572.30" r="0.95" fill="#1a1a1a" stroke="none" stroke-width="1" />
<circle cx="404.70" cy="572.30" r="0.95" fill="#1a1a1a" stroke="none" stroke-width="1" />
<circle cx="407.70" cy="572.30" r="0.95" fill="#1a1a1a" stroke="none" stroke-width="1" />
<text x="419.30" y="527.09" font-size="5.8" font-weight="bold" fill="#3a3a3a" stroke="#3a3a3a" stroke-width="0.1" text-anchor="middle" font-family='"Liberation Sans", sans-serif' >@@@</text>
<text x="419.30" y="533.29" font-size="5.8" font-weight="bold" fill="#3a3a3a" stroke="#3a3a3a" stroke-width="0.1" text-anchor="middle" font-family='"Liberation Sans", sans-serif' >%%%</text>
<text x="419.30" y="539.49" font-size="5.8" font-weight="bold" fill="#3a3a3a" stroke="#3a3a3a" stroke-width="0.1" text-anchor="middle" font-family='"Liberation Sans", sans-serif' >$$$</text>
<text x="419.30" y="545.09" font-size="5.8" font-weight="bold" fill="#3a3a3a" stroke="#3a3a3a" stroke-width="0.1" text-anchor="middle" font-family='"Liberation Sans", sans-serif' >###</text>
<circle cx="416.30" cy="548.20" r="0.95" fill="#1a1a1a" stroke="none" stroke-width="1" />
<circle cx="419.30" cy="548.20" r="0.95" fill="#1a1a1a" stroke="none" stroke-width="1" />
<circle cx="422.30" cy="548.20" r="0.95" fill="#1a1a1a" stroke="none" stroke-width="1" />
<text x="478.90" y="571.89" font-size="5.8" font-weight="bold" fill="#3a3a3a" stroke="#3a3a3a" stroke-width="0.1" text-anchor="middle" font-family='"Liberation Sans", sans-serif' >###</text>
<circle cx="475.90" cy="575.10" r="0.95" fill="#1a1a1a" stroke="none" stroke-width="1" />
<circle cx="478.90" cy="575.10" r="0.95" fill="#1a1a1a" stroke="none" stroke-width="1" />
<circle cx="481.90" cy="575.10" r="0.95" fill="#1a1a1a" stroke="none" stroke-width="1" />
<text x="492.20" y="547.19" font-size="5.8" font-weight="bold" fill="#3a3a3a" stroke="#3a3a3a" stroke-width="0.1" text-anchor="middle" font-family='"Liberation Sans", sans-serif' >###</text>
<circle cx="489.20" cy="550.40" r="0.95" fill="#1a1a1a" stroke="none" stroke-width="1" />
<circle cx="492.20" cy="550.40" r="0.95" fill="#1a1a1a" stroke="none" stroke-width="1" />
<circle cx="495.20" cy="550.40" r="0.95" fill="#1a1a1a" stroke="none" stroke-width="1" />
<text x="506.10" y="486.89" font-size="5.8" font-weight="bold" fill="#3a3a3a" stroke="#3a3a3a" stroke-width="0.1" text-anchor="middle" font-family='"Liberation Sans", sans-serif' >@@@</text>
<text x="506.10" y="493.09" font-size="5.8" font-weight="bold" fill="#3a3a3a" stroke="#3a3a3a" stroke-width="0.1" text-anchor="middle" font-family='"Liberation Sans", sans-serif' >$$$</text>
<text x="506.10" y="498.69" font-size="5.8" font-weight="bold" fill="#3a3a3a" stroke="#3a3a3a" stroke-width="0.1" text-anchor="middle" font-family='"Liberation Sans", sans-serif' >###</text>
<circle cx="503.10" cy="501.80" r="0.95" fill="#1a1a1a" stroke="none" stroke-width="1" />
<circle cx="506.10" cy="501.80" r="0.95" fill="#1a1a1a" stroke="none" stroke-width="1" />
<circle cx="509.10" cy="501.80" r="0.95" fill="#1a1a1a" stroke="none" stroke-width="1" />
<text x="520.00" y="524.89" font-size="5.8" font-weight="bold" fill="#3a3a3a" stroke="#3a3a3a" stroke-width="0.1" text-anchor="middle" font-family='"Liberation Sans", sans-serif' >###</text>
<circle cx="517.00" cy="528.70" r="0.95" fill="#1a1a1a" stroke="none" stroke-width="1" />
<circle cx="520.00" cy="528.70" r="0.95" fill="#1a1a1a" stroke="none" stroke-width="1" />
<circle cx="523.00" cy="528.70" r="0.95" fill="#1a1a1a" stroke="none" stroke-width="1" />
<text x="533.60" y="455.99" font-size="5.8" font-weight="bold" fill="#3a3a3a" stroke="#3a3a3a" stroke-width="0.1" text-anchor="middle" font-family='"Liberation Sans", sans-serif' >@@@</text>
<text x="533.60" y="461.59" font-size="5.8" font-weight="bold" fill="#3a3a3a" stroke="#3a3a3a" stroke-width="0.1" text-anchor="middle" font-family='"Liberation Sans", sans-serif' >%%%</text>
<text x="533.60" y="467.39" font-size="5.8" font-weight="bold" fill="#3a3a3a" stroke="#3a3a3a" stroke-width="0.1" text-anchor="middle" font-family='"Liberation Sans", sans-serif' >$$$</text>
<text x="533.60" y="472.99" font-size="5.8" font-weight="bold" fill="#3a3a3a" stroke="#3a3a3a" stroke-width="0.1" text-anchor="middle" font-family='"Liberation Sans", sans-serif' >###</text>
<circle cx="530.60" cy="476.50" r="0.95" fill="#1a1a1a" stroke="none" stroke-width="1" />
<circle cx="533.60" cy="476.50" r="0.95" fill="#1a1a1a" stroke="none" stroke-width="1" />
<circle cx="536.60" cy="476.50" r="0.95" fill="#1a1a1a" stroke="none" stroke-width="1" />
<defs><clipPath id="temclip"><rect x="352.4" y="240.0" width="157.6" height="157.0"/></clipPath>
<clipPath id="insclip"><rect x="458.4" y="240" width="51.6" height="51.2"/></clipPath>
<filter id="noise" x="0" y="0" width="100%" height="100%" color-interpolation-filters="sRGB"><feTurbulence type="fractalNoise" baseFrequency="0.65" numOctaves="2" seed="3"/><feColorMatrix type="matrix" values="0.3 0 0 0 0.245  0.3 0 0 0 0.245  0.3 0 0 0 0.245  0 0 0 0 1"/></filter>
<filter id="noise2" x="0" y="0" width="100%" height="100%" color-interpolation-filters="sRGB"><feTurbulence type="fractalNoise" baseFrequency="0.5" numOctaves="2" seed="7"/><feColorMatrix type="matrix" values="0.7 0 0 0 0.05  0.7 0 0 0 0.05  0.7 0 0 0 0.05  0 0 0 0 1"/></filter>
<filter id="soft"><feGaussianBlur stdDeviation="0.35"/></filter>
</defs>
<g clip-path="url(#temclip)">
<rect x="352.4" y="240.0" width="157.60000000000002" height="157.0" fill="#000" filter="url(#noise)"/>
<g filter="url(#soft)">
<circle cx="423.70" cy="327.88" r="0.77" fill="#8a8a8a" stroke="none" stroke-width="1" />
<circle cx="425.79" cy="319.73" r="0.63" fill="#8a8a8a" stroke="none" stroke-width="1" />
<circle cx="381.50" cy="320.37" r="0.65" fill="#8a8a8a" stroke="none" stroke-width="1" />
<circle cx="477.37" cy="254.78" r="0.52" fill="#8a8a8a" stroke="none" stroke-width="1" />
<circle cx="366.69" cy="367.11" r="0.68" fill="#8a8a8a" stroke="none" stroke-width="1" />
<circle cx="359.00" cy="394.20" r="0.79" fill="#8a8a8a" stroke="none" stroke-width="1" />
<circle cx="455.46" cy="336.64" r="0.46" fill="#8a8a8a" stroke="none" stroke-width="1" />
<circle cx="354.76" cy="322.96" r="0.42" fill="#8a8a8a" stroke="none" stroke-width="1" />
<circle cx="382.38" cy="277.99" r="0.41" fill="#8a8a8a" stroke="none" stroke-width="1" />
<circle cx="425.52" cy="309.16" r="0.74" fill="#8a8a8a" stroke="none" stroke-width="1" />
<circle cx="434.21" cy="340.53" r="0.60" fill="#8a8a8a" stroke="none" stroke-width="1" />
<circle cx="456.80" cy="311.80" r="0.51" fill="#8a8a8a" stroke="none" stroke-width="1" />
<circle cx="509.63" cy="396.32" r="0.74" fill="#8a8a8a" stroke="none" stroke-width="1" />
<circle cx="463.95" cy="289.50" r="0.49" fill="#8a8a8a" stroke="none" stroke-width="1" />
<circle cx="397.95" cy="251.03" r="0.71" fill="#8a8a8a" stroke="none" stroke-width="1" />
<circle cx="415.50" cy="372.91" r="0.55" fill="#8a8a8a" stroke="none" stroke-width="1" />
<circle cx="503.39" cy="373.03" r="0.40" fill="#8a8a8a" stroke="none" stroke-width="1" />
<circle cx="385.45" cy="382.91" r="0.59" fill="#8a8a8a" stroke="none" stroke-width="1" />
<circle cx="506.90" cy="302.40" r="0.43" fill="#8a8a8a" stroke="none" stroke-width="1" />
<circle cx="451.60" cy="362.23" r="0.51" fill="#8a8a8a" stroke="none" stroke-width="1" />
<circle cx="366.13" cy="292.22" r="0.79" fill="#8a8a8a" stroke="none" stroke-width="1" />
<circle cx="471.87" cy="258.52" r="0.50" fill="#8a8a8a" stroke="none" stroke-width="1" />
<circle cx="368.32" cy="249.40" r="0.72" fill="#8a8a8a" stroke="none" stroke-width="1" />
<circle cx="380.40" cy="327.81" r="0.58" fill="#8a8a8a" stroke="none" stroke-width="1" />
<circle cx="382.45" cy="354.91" r="0.45" fill="#8a8a8a" stroke="none" stroke-width="1" />
<circle cx="453.85" cy="258.29" r="0.57" fill="#8a8a8a" stroke="none" stroke-width="1" />
<circle cx="385.95" cy="282.36" r="0.79" fill="#8a8a8a" stroke="none" stroke-width="1" />
<circle cx="479.02" cy="287.75" r="0.75" fill="#8a8a8a" stroke="none" stroke-width="1" />
<circle cx="385.61" cy="301.90" r="0.74" fill="#8a8a8a" stroke="none" stroke-width="1" />
<circle cx="453.55" cy="255.75" r="0.80" fill="#8a8a8a" stroke="none" stroke-width="1" />
<circle cx="386.01" cy="280.55" r="0.71" fill="#8a8a8a" stroke="none" stroke-width="1" />
<circle cx="404.24" cy="286.52" r="0.43" fill="#8a8a8a" stroke="none" stroke-width="1" />
<circle cx="366.60" cy="331.49" r="0.50" fill="#8a8a8a" stroke="none" stroke-width="1" />
<circle cx="447.16" cy="298.36" r="0.58" fill="#8a8a8a" stroke="none" stroke-width="1" />
<circle cx="503.56" cy="315.94" r="0.63" fill="#8a8a8a" stroke="none" stroke-width="1" />
<circle cx="488.96" cy="268.70" r="0.46" fill="#8a8a8a" stroke="none" stroke-width="1" />
<circle cx="495.57" cy="368.39" r="0.50" fill="#8a8a8a" stroke="none" stroke-width="1" />
<circle cx="382.31" cy="356.09" r="0.78" fill="#8a8a8a" stroke="none" stroke-width="1" />
<circle cx="383.38" cy="389.17" r="0.75" fill="#8a8a8a" stroke="none" stroke-width="1" />
<circle cx="447.52" cy="306.17" r="0.44" fill="#8a8a8a" stroke="none" stroke-width="1" />
<circle cx="358.50" cy="391.14" r="0.50" fill="#8a8a8a" stroke="none" stroke-width="1" />
<circle cx="463.44" cy="280.35" r="0.73" fill="#8a8a8a" stroke="none" stroke-width="1" />
<circle cx="446.40" cy="286.07" r="0.47" fill="#8a8a8a" stroke="none" stroke-width="1" />
<circle cx="465.93" cy="250.80" r="0.49" fill="#8a8a8a" stroke="none" stroke-width="1" />
<circle cx="440.56" cy="373.83" r="0.65" fill="#8a8a8a" stroke="none" stroke-width="1" />
<circle cx="396.56" cy="384.03" r="0.48" fill="#8a8a8a" stroke="none" stroke-width="1" />
<circle cx="355.01" cy="282.26" r="0.58" fill="#8a8a8a" stroke="none" stroke-width="1" />
<circle cx="361.93" cy="267.67" r="0.55" fill="#8a8a8a" stroke="none" stroke-width="1" />
<circle cx="442.57" cy="260.66" r="0.54" fill="#8a8a8a" stroke="none" stroke-width="1" />
<circle cx="492.81" cy="393.94" r="0.66" fill="#8a8a8a" stroke="none" stroke-width="1" />
<circle cx="461.34" cy="331.76" r="0.46" fill="#8a8a8a" stroke="none" stroke-width="1" />
<circle cx="357.93" cy="242.81" r="0.76" fill="#8a8a8a" stroke="none" stroke-width="1" />
<circle cx="462.87" cy="391.16" r="0.41" fill="#8a8a8a" stroke="none" stroke-width="1" />
<circle cx="452.66" cy="315.71" r="0.69" fill="#8a8a8a" stroke="none" stroke-width="1" />
<circle cx="402.66" cy="396.90" r="0.43" fill="#8a8a8a" stroke="none" stroke-width="1" />
<circle cx="438.46" cy="355.71" r="0.76" fill="#8a8a8a" stroke="none" stroke-width="1" />
<circle cx="468.57" cy="350.48" r="0.72" fill="#8a8a8a" stroke="none" stroke-width="1" />
<circle cx="496.60" cy="295.24" r="0.67" fill="#8a8a8a" stroke="none" stroke-width="1" />
<circle cx="494.37" cy="376.76" r="0.57" fill="#8a8a8a" stroke="none" stroke-width="1" />
<circle cx="476.99" cy="375.57" r="0.63" fill="#8a8a8a" stroke="none" stroke-width="1" />
<circle cx="450.89" cy="300.03" r="0.63" fill="#8a8a8a" stroke="none" stroke-width="1" />
<circle cx="448.36" cy="252.59" r="0.66" fill="#8a8a8a" stroke="none" stroke-width="1" />
<circle cx="508.95" cy="378.13" r="0.69" fill="#8a8a8a" stroke="none" stroke-width="1" />
<circle cx="413.62" cy="355.40" r="0.63" fill="#8a8a8a" stroke="none" stroke-width="1" />
<circle cx="421.83" cy="371.62" r="0.43" fill="#8a8a8a" stroke="none" stroke-width="1" />
<circle cx="470.63" cy="244.68" r="0.64" fill="#8a8a8a" stroke="none" stroke-width="1" />
<circle cx="428.20" cy="276.14" r="0.68" fill="#8a8a8a" stroke="none" stroke-width="1" />
<circle cx="430.77" cy="336.48" r="0.77" fill="#8a8a8a" stroke="none" stroke-width="1" />
<circle cx="392.72" cy="241.78" r="0.52" fill="#8a8a8a" stroke="none" stroke-width="1" />
<circle cx="459.27" cy="271.80" r="0.47" fill="#8a8a8a" stroke="none" stroke-width="1" />
<circle cx="495.14" cy="343.62" r="0.58" fill="#8a8a8a" stroke="none" stroke-width="1" />
<circle cx="492.94" cy="291.33" r="0.67" fill="#8a8a8a" stroke="none" stroke-width="1" />
<circle cx="383.68" cy="307.65" r="0.72" fill="#8a8a8a" stroke="none" stroke-width="1" />
<circle cx="496.48" cy="378.20" r="0.55" fill="#8a8a8a" stroke="none" stroke-width="1" />
<circle cx="444.30" cy="289.69" r="0.45" fill="#8a8a8a" stroke="none" stroke-width="1" />
<circle cx="430.64" cy="371.42" r="0.74" fill="#8a8a8a" stroke="none" stroke-width="1" />
<circle cx="464.49" cy="389.15" r="0.51" fill="#8a8a8a" stroke="none" stroke-width="1" />
<circle cx="379.05" cy="310.75" r="0.51" fill="#8a8a8a" stroke="none" stroke-width="1" />
<circle cx="386.14" cy="305.00" r="0.65" fill="#8a8a8a" stroke="none" stroke-width="1" />
<circle cx="430.23" cy="289.51" r="0.74" fill="#8a8a8a" stroke="none" stroke-width="1" />
<circle cx="507.17" cy="311.04" r="0.43" fill="#8a8a8a" stroke="none" stroke-width="1" />
<circle cx="357.36" cy="377.03" r="0.42" fill="#8a8a8a" stroke="none" stroke-width="1" />
<circle cx="464.08" cy="329.58" r="0.52" fill="#8a8a8a" stroke="none" stroke-width="1" />
<circle cx="477.14" cy="243.00" r="0.45" fill="#8a8a8a" stroke="none" stroke-width="1" />
<circle cx="424.08" cy="243.88" r="0.73" fill="#8a8a8a" stroke="none" stroke-width="1" />
<circle cx="389.82" cy="262.12" r="0.42" fill="#8a8a8a" stroke="none" stroke-width="1" />
<circle cx="451.56" cy="310.10" r="0.65" fill="#8a8a8a" stroke="none" stroke-width="1" />
<circle cx="455.63" cy="366.76" r="0.78" fill="#8a8a8a" stroke="none" stroke-width="1" />
<circle cx="460.28" cy="271.30" r="0.59" fill="#8a8a8a" stroke="none" stroke-width="1" />
<circle cx="380.56" cy="241.69" r="0.59" fill="#8a8a8a" stroke="none" stroke-width="1" />
<circle cx="464.95" cy="268.12" r="0.51" fill="#8a8a8a" stroke="none" stroke-width="1" />
<circle cx="406.89" cy="349.48" r="0.61" fill="#8a8a8a" stroke="none" stroke-width="1" />
<circle cx="449.24" cy="358.72" r="0.56" fill="#8a8a8a" stroke="none" stroke-width="1" />
<circle cx="477.21" cy="382.28" r="0.43" fill="#8a8a8a" stroke="none" stroke-width="1" />
<circle cx="499.38" cy="353.41" r="0.45" fill="#8a8a8a" stroke="none" stroke-width="1" />
<circle cx="423.88" cy="338.21" r="0.76" fill="#8a8a8a" stroke="none" stroke-width="1" />
<circle cx="411.78" cy="329.30" r="0.75" fill="#8a8a8a" stroke="none" stroke-width="1" />
<circle cx="477.97" cy="388.25" r="0.59" fill="#8a8a8a" stroke="none" stroke-width="1" />
<circle cx="455.05" cy="272.17" r="0.69" fill="#8a8a8a" stroke="none" stroke-width="1" />
<circle cx="481.37" cy="340.73" r="0.69" fill="#8a8a8a" stroke="none" stroke-width="1" />
<circle cx="386.02" cy="381.30" r="0.79" fill="#8a8a8a" stroke="none" stroke-width="1" />
<circle cx="506.43" cy="324.30" r="0.72" fill="#8a8a8a" stroke="none" stroke-width="1" />
<circle cx="402.89" cy="382.87" r="0.74" fill="#8a8a8a" stroke="none" stroke-width="1" />
<circle cx="407.32" cy="253.00" r="0.58" fill="#8a8a8a" stroke="none" stroke-width="1" />
<circle cx="439.13" cy="360.61" r="0.59" fill="#8a8a8a" stroke="none" stroke-width="1" />
<circle cx="356.88" cy="367.04" r="0.43" fill="#8a8a8a" stroke="none" stroke-width="1" />
<circle cx="478.46" cy="267.14" r="0.53" fill="#8a8a8a" stroke="none" stroke-width="1" />
<circle cx="476.57" cy="262.06" r="0.46" fill="#8a8a8a" stroke="none" stroke-width="1" />
<circle cx="433.80" cy="353.60" r="0.74" fill="#8a8a8a" stroke="none" stroke-width="1" />
<circle cx="461.04" cy="388.48" r="0.60" fill="#8a8a8a" stroke="none" stroke-width="1" />
<circle cx="501.99" cy="253.51" r="0.49" fill="#8a8a8a" stroke="none" stroke-width="1" />
<circle cx="435.40" cy="285.56" r="0.69" fill="#8a8a8a" stroke="none" stroke-width="1" />
<circle cx="453.09" cy="322.08" r="0.74" fill="#8a8a8a" stroke="none" stroke-width="1" />
<circle cx="440.65" cy="288.94" r="0.55" fill="#8a8a8a" stroke="none" stroke-width="1" />
<circle cx="485.61" cy="381.38" r="0.48" fill="#8a8a8a" stroke="none" stroke-width="1" />
<circle cx="486.48" cy="392.05" r="0.61" fill="#8a8a8a" stroke="none" stroke-width="1" />
<circle cx="442.70" cy="271.55" r="0.61" fill="#8a8a8a" stroke="none" stroke-width="1" />
<circle cx="431.70" cy="335.02" r="0.41" fill="#8a8a8a" stroke="none" stroke-width="1" />
<circle cx="505.18" cy="321.01" r="0.56" fill="#8a8a8a" stroke="none" stroke-width="1" />
<circle cx="478.65" cy="328.37" r="0.60" fill="#8a8a8a" stroke="none" stroke-width="1" />
<circle cx="461.30" cy="250.35" r="0.62" fill="#8a8a8a" stroke="none" stroke-width="1" />
<circle cx="417.61" cy="390.23" r="0.77" fill="#8a8a8a" stroke="none" stroke-width="1" />
<circle cx="394.83" cy="314.29" r="0.45" fill="#8a8a8a" stroke="none" stroke-width="1" />
<circle cx="420.75" cy="368.07" r="0.76" fill="#8a8a8a" stroke="none" stroke-width="1" />
<circle cx="427.50" cy="289.80" r="0.48" fill="#8a8a8a" stroke="none" stroke-width="1" />
<circle cx="449.78" cy="385.27" r="0.45" fill="#8a8a8a" stroke="none" stroke-width="1" />
<circle cx="475.22" cy="243.58" r="0.48" fill="#8a8a8a" stroke="none" stroke-width="1" />
<circle cx="388.22" cy="347.86" r="0.53" fill="#8a8a8a" stroke="none" stroke-width="1" />
<circle cx="408.40" cy="337.30" r="0.44" fill="#8a8a8a" stroke="none" stroke-width="1" />
<circle cx="467.59" cy="259.28" r="0.60" fill="#8a8a8a" stroke="none" stroke-width="1" />
<circle cx="391.89" cy="271.04" r="0.61" fill="#8a8a8a" stroke="none" stroke-width="1" />
<circle cx="421.24" cy="298.99" r="0.57" fill="#8a8a8a" stroke="none" stroke-width="1" />
<circle cx="435.83" cy="265.08" r="0.48" fill="#8a8a8a" stroke="none" stroke-width="1" />
<circle cx="451.90" cy="340.24" r="0.61" fill="#8a8a8a" stroke="none" stroke-width="1" />
<circle cx="486.56" cy="336.04" r="0.74" fill="#8a8a8a" stroke="none" stroke-width="1" />
<circle cx="389.07" cy="356.30" r="0.72" fill="#8a8a8a" stroke="none" stroke-width="1" />
<circle cx="494.66" cy="289.59" r="0.53" fill="#8a8a8a" stroke="none" stroke-width="1" />
<circle cx="497.83" cy="274.25" r="0.80" fill="#8a8a8a" stroke="none" stroke-width="1" />
<circle cx="492.28" cy="261.03" r="0.50" fill="#8a8a8a" stroke="none" stroke-width="1" />
<circle cx="466.91" cy="280.74" r="0.44" fill="#8a8a8a" stroke="none" stroke-width="1" />
<circle cx="483.55" cy="306.20" r="0.72" fill="#8a8a8a" stroke="none" stroke-width="1" />
<circle cx="372.26" cy="303.24" r="0.67" fill="#8a8a8a" stroke="none" stroke-width="1" />
<circle cx="355.20" cy="271.55" r="0.67" fill="#8a8a8a" stroke="none" stroke-width="1" />
<circle cx="496.03" cy="392.04" r="0.45" fill="#8a8a8a" stroke="none" stroke-width="1" />
<circle cx="432.10" cy="359.03" r="0.60" fill="#8a8a8a" stroke="none" stroke-width="1" />
<circle cx="460.46" cy="269.67" r="0.43" fill="#8a8a8a" stroke="none" stroke-width="1" />
<circle cx="369.13" cy="245.88" r="0.62" fill="#8a8a8a" stroke="none" stroke-width="1" />
<circle cx="433.54" cy="329.29" r="0.46" fill="#8a8a8a" stroke="none" stroke-width="1" />
<circle cx="381.48" cy="272.01" r="0.74" fill="#8a8a8a" stroke="none" stroke-width="1" />
<circle cx="508.47" cy="385.52" r="0.44" fill="#8a8a8a" stroke="none" stroke-width="1" />
<circle cx="362.16" cy="389.38" r="0.58" fill="#8a8a8a" stroke="none" stroke-width="1" />
<circle cx="472.92" cy="291.31" r="0.59" fill="#8a8a8a" stroke="none" stroke-width="1" />
<circle cx="433.61" cy="307.52" r="0.64" fill="#8a8a8a" stroke="none" stroke-width="1" />
<circle cx="354.49" cy="350.06" r="0.74" fill="#8a8a8a" stroke="none" stroke-width="1" />
<circle cx="380.97" cy="311.27" r="0.70" fill="#8a8a8a" stroke="none" stroke-width="1" />
<circle cx="416.28" cy="270.63" r="0.47" fill="#8a8a8a" stroke="none" stroke-width="1" />
<circle cx="433.18" cy="242.42" r="0.76" fill="#8a8a8a" stroke="none" stroke-width="1" />
<circle cx="478.75" cy="350.63" r="0.74" fill="#8a8a8a" stroke="none" stroke-width="1" />
<circle cx="451.59" cy="303.51" r="0.64" fill="#8a8a8a" stroke="none" stroke-width="1" />
<circle cx="431.88" cy="394.28" r="0.72" fill="#8a8a8a" stroke="none" stroke-width="1" />
<circle cx="393.10" cy="383.07" r="0.70" fill="#8a8a8a" stroke="none" stroke-width="1" />
<circle cx="475.01" cy="367.90" r="0.56" fill="#8a8a8a" stroke="none" stroke-width="1" />
<circle cx="493.70" cy="378.14" r="0.68" fill="#8a8a8a" stroke="none" stroke-width="1" />
<circle cx="473.32" cy="360.14" r="0.56" fill="#8a8a8a" stroke="none" stroke-width="1" />
<circle cx="466.29" cy="251.08" r="0.54" fill="#8a8a8a" stroke="none" stroke-width="1" />
<circle cx="426.29" cy="241.66" r="0.54" fill="#8a8a8a" stroke="none" stroke-width="1" />
<circle cx="453.06" cy="337.97" r="0.49" fill="#8a8a8a" stroke="none" stroke-width="1" />
<circle cx="501.28" cy="344.58" r="0.54" fill="#8a8a8a" stroke="none" stroke-width="1" />
<circle cx="456.38" cy="329.42" r="0.61" fill="#8a8a8a" stroke="none" stroke-width="1" />
<circle cx="413.80" cy="396.98" r="0.66" fill="#8a8a8a" stroke="none" stroke-width="1" />
<circle cx="462.92" cy="359.59" r="0.79" fill="#8a8a8a" stroke="none" stroke-width="1" />
<circle cx="356.00" cy="336.62" r="0.70" fill="#8a8a8a" stroke="none" stroke-width="1" />
<circle cx="392.85" cy="303.04" r="0.42" fill="#8a8a8a" stroke="none" stroke-width="1" />
<circle cx="383.20" cy="298.98" r="0.44" fill="#8a8a8a" stroke="none" stroke-width="1" />
<circle cx="391.94" cy="382.19" r="0.62" fill="#8a8a8a" stroke="none" stroke-width="1" />
<circle cx="432.43" cy="391.84" r="0.63" fill="#8a8a8a" stroke="none" stroke-width="1" />
<circle cx="509.23" cy="340.17" r="0.72" fill="#8a8a8a" stroke="none" stroke-width="1" />
<circle cx="364.41" cy="333.81" r="0.70" fill="#8a8a8a" stroke="none" stroke-width="1" />
<circle cx="359.51" cy="386.03" r="0.46" fill="#8a8a8a" stroke="none" stroke-width="1" />
<circle cx="426.75" cy="266.55" r="0.60" fill="#8a8a8a" stroke="none" stroke-width="1" />
<circle cx="448.72" cy="249.19" r="0.78" fill="#8a8a8a" stroke="none" stroke-width="1" />
<circle cx="418.70" cy="322.70" r="0.64" fill="#8a8a8a" stroke="none" stroke-width="1" />
<circle cx="410.01" cy="284.86" r="0.66" fill="#8a8a8a" stroke="none" stroke-width="1" />
<circle cx="440.76" cy="284.51" r="0.69" fill="#8a8a8a" stroke="none" stroke-width="1" />
<circle cx="399.06" cy="242.20" r="0.50" fill="#8a8a8a" stroke="none" stroke-width="1" />
<circle cx="359.14" cy="264.58" r="0.70" fill="#8a8a8a" stroke="none" stroke-width="1" />
<circle cx="413.86" cy="380.91" r="0.70" fill="#8a8a8a" stroke="none" stroke-width="1" />
<circle cx="360.30" cy="395.24" r="0.78" fill="#8a8a8a" stroke="none" stroke-width="1" />
<circle cx="363.98" cy="382.17" r="0.57" fill="#8a8a8a" stroke="none" stroke-width="1" />
<circle cx="427.67" cy="392.79" r="0.50" fill="#8a8a8a" stroke="none" stroke-width="1" />
<circle cx="434.88" cy="387.15" r="0.69" fill="#8a8a8a" stroke="none" stroke-width="1" />
<circle cx="426.21" cy="393.67" r="0.73" fill="#8a8a8a" stroke="none" stroke-width="1" />
<circle cx="447.53" cy="258.07" r="0.65" fill="#8a8a8a" stroke="none" stroke-width="1" />
<circle cx="424.22" cy="271.97" r="0.42" fill="#8a8a8a" stroke="none" stroke-width="1" />
<circle cx="435.63" cy="259.52" r="0.58" fill="#8a8a8a" stroke="none" stroke-width="1" />
<circle cx="457.66" cy="311.52" r="0.50" fill="#8a8a8a" stroke="none" stroke-width="1" />
<circle cx="444.16" cy="305.87" r="0.71" fill="#8a8a8a" stroke="none" stroke-width="1" />
<circle cx="436.05" cy="396.63" r="0.78" fill="#8a8a8a" stroke="none" stroke-width="1" />
<circle cx="468.12" cy="277.43" r="0.45" fill="#8a8a8a" stroke="none" stroke-width="1" />
<circle cx="493.09" cy="363.14" r="0.65" fill="#8a8a8a" stroke="none" stroke-width="1" />
<circle cx="409.01" cy="282.63" r="0.67" fill="#8a8a8a" stroke="none" stroke-width="1" />
<circle cx="441.43" cy="332.89" r="0.65" fill="#8a8a8a" stroke="none" stroke-width="1" />
<circle cx="471.13" cy="269.80" r="0.50" fill="#8a8a8a" stroke="none" stroke-width="1" />
<circle cx="506.80" cy="383.77" r="0.75" fill="#8a8a8a" stroke="none" stroke-width="1" />
<circle cx="358.63" cy="249.54" r="0.51" fill="#8a8a8a" stroke="none" stroke-width="1" />
<circle cx="419.41" cy="337.87" r="0.44" fill="#8a8a8a" stroke="none" stroke-width="1" />
<circle cx="437.76" cy="251.38" r="0.43" fill="#8a8a8a" stroke="none" stroke-width="1" />
<circle cx="458.98" cy="326.45" r="0.65" fill="#8a8a8a" stroke="none" stroke-width="1" />
<circle cx="411.21" cy="315.13" r="0.48" fill="#8a8a8a" stroke="none" stroke-width="1" />
<circle cx="406.57" cy="356.94" r="0.74" fill="#8a8a8a" stroke="none" stroke-width="1" />
<circle cx="364.12" cy="258.81" r="0.72" fill="#8a8a8a" stroke="none" stroke-width="1" />
<circle cx="450.70" cy="360.69" r="0.49" fill="#8a8a8a" stroke="none" stroke-width="1" />
<circle cx="419.28" cy="280.52" r="0.72" fill="#8a8a8a" stroke="none" stroke-width="1" />
<circle cx="410.55" cy="342.62" r="0.80" fill="#8a8a8a" stroke="none" stroke-width="1" />
<circle cx="403.68" cy="326.13" r="0.70" fill="#8a8a8a" stroke="none" stroke-width="1" />
<circle cx="497.52" cy="307.14" r="0.55" fill="#8a8a8a" stroke="none" stroke-width="1" />
<circle cx="367.69" cy="377.40" r="0.43" fill="#8a8a8a" stroke="none" stroke-width="1" />
<circle cx="365.48" cy="328.58" r="0.59" fill="#8a8a8a" stroke="none" stroke-width="1" />
<circle cx="460.41" cy="286.92" r="0.71" fill="#8a8a8a" stroke="none" stroke-width="1" />
<circle cx="364.39" cy="273.48" r="0.66" fill="#8a8a8a" stroke="none" stroke-width="1" />
<circle cx="365.28" cy="287.70" r="0.69" fill="#8a8a8a" stroke="none" stroke-width="1" />
<circle cx="461.77" cy="284.42" r="0.46" fill="#8a8a8a" stroke="none" stroke-width="1" />
<circle cx="408.79" cy="353.98" r="0.55" fill="#8a8a8a" stroke="none" stroke-width="1" />
<circle cx="370.90" cy="351.36" r="0.63" fill="#8a8a8a" stroke="none" stroke-width="1" />
<circle cx="497.16" cy="387.57" r="0.77" fill="#8a8a8a" stroke="none" stroke-width="1" />
<circle cx="421.43" cy="366.08" r="0.52" fill="#8a8a8a" stroke="none" stroke-width="1" />
<circle cx="402.46" cy="302.74" r="0.77" fill="#8a8a8a" stroke="none" stroke-width="1" />
<circle cx="493.41" cy="278.98" r="0.54" fill="#8a8a8a" stroke="none" stroke-width="1" />
<circle cx="410.01" cy="297.04" r="0.56" fill="#8a8a8a" stroke="none" stroke-width="1" />
<circle cx="413.48" cy="270.61" r="0.63" fill="#8a8a8a" stroke="none" stroke-width="1" />
<circle cx="478.02" cy="324.87" r="0.73" fill="#8a8a8a" stroke="none" stroke-width="1" />
<circle cx="441.09" cy="267.72" r="0.70" fill="#8a8a8a" stroke="none" stroke-width="1" />
<circle cx="491.23" cy="284.19" r="0.41" fill="#8a8a8a" stroke="none" stroke-width="1" />
<circle cx="433.67" cy="325.43" r="0.63" fill="#8a8a8a" stroke="none" stroke-width="1" />
<circle cx="504.71" cy="342.24" r="0.72" fill="#8a8a8a" stroke="none" stroke-width="1" />
<circle cx="362.50" cy="325.85" r="0.72" fill="#8a8a8a" stroke="none" stroke-width="1" />
<circle cx="365.65" cy="252.82" r="0.69" fill="#8a8a8a" stroke="none" stroke-width="1" />
<circle cx="494.09" cy="253.30" r="0.65" fill="#8a8a8a" stroke="none" stroke-width="1" />
<circle cx="375.08" cy="357.09" r="0.66" fill="#8a8a8a" stroke="none" stroke-width="1" />
<circle cx="391.08" cy="274.61" r="0.71" fill="#8a8a8a" stroke="none" stroke-width="1" />
<circle cx="434.60" cy="360.06" r="0.56" fill="#8a8a8a" stroke="none" stroke-width="1" />
<circle cx="405.64" cy="392.02" r="0.67" fill="#8a8a8a" stroke="none" stroke-width="1" />
<circle cx="430.20" cy="324.36" r="0.69" fill="#8a8a8a" stroke="none" stroke-width="1" />
<circle cx="464.00" cy="383.65" r="0.56" fill="#8a8a8a" stroke="none" stroke-width="1" />
<circle cx="482.61" cy="344.68" r="0.74" fill="#8a8a8a" stroke="none" stroke-width="1" />
<circle cx="479.41" cy="370.91" r="0.76" fill="#8a8a8a" stroke="none" stroke-width="1" />
<circle cx="503.35" cy="340.52" r="0.61" fill="#8a8a8a" stroke="none" stroke-width="1" />
<circle cx="464.31" cy="365.95" r="0.57" fill="#8a8a8a" stroke="none" stroke-width="1" />
<circle cx="418.66" cy="262.95" r="0.70" fill="#8a8a8a" stroke="none" stroke-width="1" />
<circle cx="508.58" cy="298.96" r="0.47" fill="#8a8a8a" stroke="none" stroke-width="1" />
<circle cx="384.61" cy="306.72" r="0.52" fill="#8a8a8a" stroke="none" stroke-width="1" />
<circle cx="505.23" cy="249.30" r="0.52" fill="#8a8a8a" stroke="none" stroke-width="1" />
<circle cx="370.49" cy="341.73" r="0.71" fill="#8a8a8a" stroke="none" stroke-width="1" />
<circle cx="380.68" cy="249.79" r="0.58" fill="#8a8a8a" stroke="none" stroke-width="1" />
<circle cx="444.45" cy="382.76" r="0.41" fill="#8a8a8a" stroke="none" stroke-width="1" />
<circle cx="369.53" cy="268.97" r="0.49" fill="#8a8a8a" stroke="none" stroke-width="1" />
<circle cx="389.50" cy="352.61" r="0.64" fill="#8a8a8a" stroke="none" stroke-width="1" />
<circle cx="387.70" cy="269.04" r="0.51" fill="#8a8a8a" stroke="none" stroke-width="1" />
<circle cx="379.59" cy="358.93" r="0.52" fill="#8a8a8a" stroke="none" stroke-width="1" />
<circle cx="438.80" cy="368.29" r="0.59" fill="#8a8a8a" stroke="none" stroke-width="1" />
<circle cx="365.80" cy="248.00" r="3.40" fill="#484848" stroke="none" stroke-width="1" opacity="0.75"/>
<circle cx="365.80" cy="248.00" r="2.60" fill="#ababab" stroke="none" stroke-width="1" />
<circle cx="365.41" cy="247.61" r="1.43" fill="#b8b8b8" stroke="none" stroke-width="1" />
<circle cx="390.50" cy="242.90" r="3.40" fill="#484848" stroke="none" stroke-width="1" opacity="0.75"/>
<circle cx="390.50" cy="242.90" r="2.60" fill="#ababab" stroke="none" stroke-width="1" />
<circle cx="390.11" cy="242.51" r="1.43" fill="#b8b8b8" stroke="none" stroke-width="1" />
<circle cx="390.50" cy="249.90" r="3.00" fill="#484848" stroke="none" stroke-width="1" opacity="0.75"/>
<circle cx="390.50" cy="249.90" r="2.20" fill="#ababab" stroke="none" stroke-width="1" />
<circle cx="390.17" cy="249.57" r="1.21" fill="#b8b8b8" stroke="none" stroke-width="1" />
<circle cx="410.90" cy="243.20" r="3.00" fill="#484848" stroke="none" stroke-width="1" opacity="0.75"/>
<circle cx="410.90" cy="243.20" r="2.20" fill="#ababab" stroke="none" stroke-width="1" />
<circle cx="410.57" cy="242.87" r="1.21" fill="#b8b8b8" stroke="none" stroke-width="1" />
<circle cx="379.30" cy="255.30" r="3.30" fill="#484848" stroke="none" stroke-width="1" opacity="0.75"/>
<circle cx="379.30" cy="255.30" r="2.50" fill="#ababab" stroke="none" stroke-width="1" />
<circle cx="378.93" cy="254.93" r="1.38" fill="#b8b8b8" stroke="none" stroke-width="1" />
<circle cx="366.50" cy="261.50" r="3.80" fill="#484848" stroke="none" stroke-width="1" opacity="0.75"/>
<circle cx="366.50" cy="261.50" r="3.00" fill="#ababab" stroke="none" stroke-width="1" />
<circle cx="366.05" cy="261.05" r="1.65" fill="#b8b8b8" stroke="none" stroke-width="1" />
<circle cx="385.70" cy="258.90" r="3.00" fill="#484848" stroke="none" stroke-width="1" opacity="0.75"/>
<circle cx="385.70" cy="258.90" r="2.20" fill="#ababab" stroke="none" stroke-width="1" />
<circle cx="385.37" cy="258.57" r="1.21" fill="#b8b8b8" stroke="none" stroke-width="1" />
<circle cx="388.40" cy="264.00" r="2.80" fill="#484848" stroke="none" stroke-width="1" opacity="0.75"/>
<circle cx="388.40" cy="264.00" r="2.00" fill="#ababab" stroke="none" stroke-width="1" />
<circle cx="388.10" cy="263.70" r="1.10" fill="#b8b8b8" stroke="none" stroke-width="1" />
<circle cx="394.20" cy="268.40" r="4.70" fill="#484848" stroke="none" stroke-width="1" opacity="0.75"/>
<circle cx="394.20" cy="268.40" r="3.90" fill="#ababab" stroke="none" stroke-width="1" />
<circle cx="393.62" cy="267.81" r="2.15" fill="#b8b8b8" stroke="none" stroke-width="1" />
<circle cx="406.50" cy="258.60" r="3.70" fill="#484848" stroke="none" stroke-width="1" opacity="0.75"/>
<circle cx="406.50" cy="258.60" r="2.90" fill="#ababab" stroke="none" stroke-width="1" />
<circle cx="406.06" cy="258.17" r="1.59" fill="#b8b8b8" stroke="none" stroke-width="1" />
<circle cx="411.60" cy="254.80" r="2.80" fill="#484848" stroke="none" stroke-width="1" opacity="0.75"/>
<circle cx="411.60" cy="254.80" r="2.00" fill="#ababab" stroke="none" stroke-width="1" />
<circle cx="411.30" cy="254.50" r="1.10" fill="#b8b8b8" stroke="none" stroke-width="1" />
<circle cx="422.10" cy="256.70" r="2.30" fill="#484848" stroke="none" stroke-width="1" opacity="0.75"/>
<circle cx="422.10" cy="256.70" r="1.50" fill="#ababab" stroke="none" stroke-width="1" />
<circle cx="421.88" cy="256.47" r="0.83" fill="#b8b8b8" stroke="none" stroke-width="1" />
<circle cx="423.30" cy="261.50" r="2.50" fill="#484848" stroke="none" stroke-width="1" opacity="0.75"/>
<circle cx="423.30" cy="261.50" r="1.70" fill="#ababab" stroke="none" stroke-width="1" />
<circle cx="423.05" cy="261.25" r="0.94" fill="#b8b8b8" stroke="none" stroke-width="1" />
<circle cx="430.50" cy="269.10" r="3.70" fill="#484848" stroke="none" stroke-width="1" opacity="0.75"/>
<circle cx="430.50" cy="269.10" r="2.90" fill="#ababab" stroke="none" stroke-width="1" />
<circle cx="430.06" cy="268.67" r="1.59" fill="#b8b8b8" stroke="none" stroke-width="1" />
<circle cx="375.30" cy="269.80" r="4.00" fill="#484848" stroke="none" stroke-width="1" opacity="0.75"/>
<circle cx="375.30" cy="269.80" r="3.20" fill="#ababab" stroke="none" stroke-width="1" />
<circle cx="374.82" cy="269.32" r="1.76" fill="#b8b8b8" stroke="none" stroke-width="1" />
<circle cx="375.00" cy="276.10" r="3.00" fill="#484848" stroke="none" stroke-width="1" opacity="0.75"/>
<circle cx="375.00" cy="276.10" r="2.20" fill="#ababab" stroke="none" stroke-width="1" />
<circle cx="374.67" cy="275.77" r="1.21" fill="#b8b8b8" stroke="none" stroke-width="1" />
<circle cx="382.50" cy="276.70" r="2.50" fill="#484848" stroke="none" stroke-width="1" opacity="0.75"/>
<circle cx="382.50" cy="276.70" r="1.70" fill="#ababab" stroke="none" stroke-width="1" />
<circle cx="382.25" cy="276.44" r="0.94" fill="#b8b8b8" stroke="none" stroke-width="1" />
<circle cx="354.90" cy="279.30" r="3.40" fill="#484848" stroke="none" stroke-width="1" opacity="0.75"/>
<circle cx="354.90" cy="279.30" r="2.60" fill="#ababab" stroke="none" stroke-width="1" />
<circle cx="354.51" cy="278.91" r="1.43" fill="#b8b8b8" stroke="none" stroke-width="1" />
<circle cx="403.60" cy="277.50" r="3.30" fill="#484848" stroke="none" stroke-width="1" opacity="0.75"/>
<circle cx="403.60" cy="277.50" r="2.50" fill="#ababab" stroke="none" stroke-width="1" />
<circle cx="403.23" cy="277.12" r="1.38" fill="#b8b8b8" stroke="none" stroke-width="1" />
<circle cx="406.50" cy="283.60" r="2.80" fill="#484848" stroke="none" stroke-width="1" opacity="0.75"/>
<circle cx="406.50" cy="283.60" r="2.00" fill="#ababab" stroke="none" stroke-width="1" />
<circle cx="406.20" cy="283.30" r="1.10" fill="#b8b8b8" stroke="none" stroke-width="1" />
<circle cx="429.10" cy="279.60" r="3.00" fill="#484848" stroke="none" stroke-width="1" opacity="0.75"/>
<circle cx="429.10" cy="279.60" r="2.20" fill="#ababab" stroke="none" stroke-width="1" />
<circle cx="428.77" cy="279.27" r="1.21" fill="#b8b8b8" stroke="none" stroke-width="1" />
<circle cx="381.80" cy="286.30" r="4.70" fill="#484848" stroke="none" stroke-width="1" opacity="0.75"/>
<circle cx="381.80" cy="286.30" r="3.90" fill="#ababab" stroke="none" stroke-width="1" />
<circle cx="381.22" cy="285.72" r="2.15" fill="#b8b8b8" stroke="none" stroke-width="1" />
<circle cx="391.30" cy="289.50" r="3.30" fill="#484848" stroke="none" stroke-width="1" opacity="0.75"/>
<circle cx="391.30" cy="289.50" r="2.50" fill="#ababab" stroke="none" stroke-width="1" />
<circle cx="390.93" cy="289.12" r="1.38" fill="#b8b8b8" stroke="none" stroke-width="1" />
<circle cx="366.50" cy="293.10" r="4.00" fill="#484848" stroke="none" stroke-width="1" opacity="0.75"/>
<circle cx="366.50" cy="293.10" r="3.20" fill="#ababab" stroke="none" stroke-width="1" />
<circle cx="366.02" cy="292.62" r="1.76" fill="#b8b8b8" stroke="none" stroke-width="1" />
<circle cx="362.20" cy="298.90" r="3.10" fill="#484848" stroke="none" stroke-width="1" opacity="0.75"/>
<circle cx="362.20" cy="298.90" r="2.30" fill="#ababab" stroke="none" stroke-width="1" />
<circle cx="361.85" cy="298.55" r="1.26" fill="#b8b8b8" stroke="none" stroke-width="1" />
<circle cx="376.00" cy="300.40" r="3.70" fill="#484848" stroke="none" stroke-width="1" opacity="0.75"/>
<circle cx="376.00" cy="300.40" r="2.90" fill="#ababab" stroke="none" stroke-width="1" />
<circle cx="375.56" cy="299.96" r="1.59" fill="#b8b8b8" stroke="none" stroke-width="1" />
<circle cx="402.90" cy="298.20" r="4.40" fill="#484848" stroke="none" stroke-width="1" opacity="0.75"/>
<circle cx="402.90" cy="298.20" r="3.60" fill="#ababab" stroke="none" stroke-width="1" />
<circle cx="402.36" cy="297.66" r="1.98" fill="#b8b8b8" stroke="none" stroke-width="1" />
<circle cx="405.80" cy="295.00" r="3.00" fill="#484848" stroke="none" stroke-width="1" opacity="0.75"/>
<circle cx="405.80" cy="295.00" r="2.20" fill="#ababab" stroke="none" stroke-width="1" />
<circle cx="405.47" cy="294.67" r="1.21" fill="#b8b8b8" stroke="none" stroke-width="1" />
<circle cx="426.20" cy="291.60" r="3.00" fill="#484848" stroke="none" stroke-width="1" opacity="0.75"/>
<circle cx="426.20" cy="291.60" r="2.20" fill="#ababab" stroke="none" stroke-width="1" />
<circle cx="425.87" cy="291.27" r="1.21" fill="#b8b8b8" stroke="none" stroke-width="1" />
<circle cx="393.50" cy="305.50" r="3.40" fill="#484848" stroke="none" stroke-width="1" opacity="0.75"/>
<circle cx="393.50" cy="305.50" r="2.60" fill="#ababab" stroke="none" stroke-width="1" />
<circle cx="393.11" cy="305.11" r="1.43" fill="#b8b8b8" stroke="none" stroke-width="1" />
<circle cx="402.20" cy="305.70" r="3.30" fill="#484848" stroke="none" stroke-width="1" opacity="0.75"/>
<circle cx="402.20" cy="305.70" r="2.50" fill="#ababab" stroke="none" stroke-width="1" />
<circle cx="401.82" cy="305.32" r="1.38" fill="#b8b8b8" stroke="none" stroke-width="1" />
<circle cx="370.90" cy="309.50" r="4.00" fill="#484848" stroke="none" stroke-width="1" opacity="0.75"/>
<circle cx="370.90" cy="309.50" r="3.20" fill="#ababab" stroke="none" stroke-width="1" />
<circle cx="370.42" cy="309.02" r="1.76" fill="#b8b8b8" stroke="none" stroke-width="1" />
<circle cx="386.90" cy="311.30" r="3.40" fill="#484848" stroke="none" stroke-width="1" opacity="0.75"/>
<circle cx="386.90" cy="311.30" r="2.60" fill="#ababab" stroke="none" stroke-width="1" />
<circle cx="386.51" cy="310.91" r="1.43" fill="#b8b8b8" stroke="none" stroke-width="1" />
<circle cx="354.20" cy="309.80" r="3.00" fill="#484848" stroke="none" stroke-width="1" opacity="0.75"/>
<circle cx="354.20" cy="309.80" r="2.20" fill="#ababab" stroke="none" stroke-width="1" />
<circle cx="353.87" cy="309.47" r="1.21" fill="#b8b8b8" stroke="none" stroke-width="1" />
<circle cx="360.00" cy="316.40" r="3.70" fill="#484848" stroke="none" stroke-width="1" opacity="0.75"/>
<circle cx="360.00" cy="316.40" r="2.90" fill="#ababab" stroke="none" stroke-width="1" />
<circle cx="359.56" cy="315.96" r="1.59" fill="#b8b8b8" stroke="none" stroke-width="1" />
<circle cx="427.60" cy="313.50" r="3.10" fill="#484848" stroke="none" stroke-width="1" opacity="0.75"/>
<circle cx="427.60" cy="313.50" r="2.30" fill="#ababab" stroke="none" stroke-width="1" />
<circle cx="427.25" cy="313.15" r="1.26" fill="#b8b8b8" stroke="none" stroke-width="1" />
<circle cx="435.80" cy="248.00" r="3.30" fill="#484848" stroke="none" stroke-width="1" opacity="0.75"/>
<circle cx="435.80" cy="248.00" r="2.50" fill="#ababab" stroke="none" stroke-width="1" />
<circle cx="435.43" cy="247.62" r="1.38" fill="#b8b8b8" stroke="none" stroke-width="1" />
<circle cx="443.10" cy="249.00" r="2.80" fill="#484848" stroke="none" stroke-width="1" opacity="0.75"/>
<circle cx="443.10" cy="249.00" r="2.00" fill="#ababab" stroke="none" stroke-width="1" />
<circle cx="442.80" cy="248.70" r="1.10" fill="#b8b8b8" stroke="none" stroke-width="1" />
<circle cx="451.80" cy="250.50" r="4.70" fill="#484848" stroke="none" stroke-width="1" opacity="0.75"/>
<circle cx="451.80" cy="250.50" r="3.90" fill="#ababab" stroke="none" stroke-width="1" />
<circle cx="451.22" cy="249.91" r="2.15" fill="#b8b8b8" stroke="none" stroke-width="1" />
<circle cx="444.50" cy="264.70" r="3.00" fill="#484848" stroke="none" stroke-width="1" opacity="0.75"/>
<circle cx="444.50" cy="264.70" r="2.20" fill="#ababab" stroke="none" stroke-width="1" />
<circle cx="444.17" cy="264.37" r="1.21" fill="#b8b8b8" stroke="none" stroke-width="1" />
<circle cx="431.70" cy="269.10" r="3.70" fill="#484848" stroke="none" stroke-width="1" opacity="0.75"/>
<circle cx="431.70" cy="269.10" r="2.90" fill="#ababab" stroke="none" stroke-width="1" />
<circle cx="431.26" cy="268.67" r="1.59" fill="#b8b8b8" stroke="none" stroke-width="1" />
<circle cx="447.20" cy="280.00" r="4.00" fill="#484848" stroke="none" stroke-width="1" opacity="0.75"/>
<circle cx="447.20" cy="280.00" r="3.20" fill="#ababab" stroke="none" stroke-width="1" />
<circle cx="446.72" cy="279.52" r="1.76" fill="#b8b8b8" stroke="none" stroke-width="1" />
<circle cx="454.70" cy="277.50" r="2.50" fill="#484848" stroke="none" stroke-width="1" opacity="0.75"/>
<circle cx="454.70" cy="277.50" r="1.70" fill="#ababab" stroke="none" stroke-width="1" />
<circle cx="454.44" cy="277.25" r="0.94" fill="#b8b8b8" stroke="none" stroke-width="1" />
<circle cx="436.50" cy="285.10" r="3.40" fill="#484848" stroke="none" stroke-width="1" opacity="0.75"/>
<circle cx="436.50" cy="285.10" r="2.60" fill="#ababab" stroke="none" stroke-width="1" />
<circle cx="436.11" cy="284.71" r="1.43" fill="#b8b8b8" stroke="none" stroke-width="1" />
<circle cx="434.70" cy="290.90" r="3.40" fill="#484848" stroke="none" stroke-width="1" opacity="0.75"/>
<circle cx="434.70" cy="290.90" r="2.60" fill="#ababab" stroke="none" stroke-width="1" />
<circle cx="434.31" cy="290.51" r="1.43" fill="#b8b8b8" stroke="none" stroke-width="1" />
<circle cx="444.50" cy="294.50" r="3.30" fill="#484848" stroke="none" stroke-width="1" opacity="0.75"/>
<circle cx="444.50" cy="294.50" r="2.50" fill="#ababab" stroke="none" stroke-width="1" />
<circle cx="444.12" cy="294.12" r="1.38" fill="#b8b8b8" stroke="none" stroke-width="1" />
<circle cx="454.70" cy="294.10" r="2.80" fill="#484848" stroke="none" stroke-width="1" opacity="0.75"/>
<circle cx="454.70" cy="294.10" r="2.00" fill="#ababab" stroke="none" stroke-width="1" />
<circle cx="454.40" cy="293.80" r="1.10" fill="#b8b8b8" stroke="none" stroke-width="1" />
<circle cx="471.50" cy="296.00" r="3.30" fill="#484848" stroke="none" stroke-width="1" opacity="0.75"/>
<circle cx="471.50" cy="296.00" r="2.50" fill="#ababab" stroke="none" stroke-width="1" />
<circle cx="471.12" cy="295.62" r="1.38" fill="#b8b8b8" stroke="none" stroke-width="1" />
<circle cx="475.10" cy="302.50" r="3.40" fill="#484848" stroke="none" stroke-width="1" opacity="0.75"/>
<circle cx="475.10" cy="302.50" r="2.60" fill="#ababab" stroke="none" stroke-width="1" />
<circle cx="474.71" cy="302.11" r="1.43" fill="#b8b8b8" stroke="none" stroke-width="1" />
<circle cx="468.50" cy="308.10" r="3.30" fill="#484848" stroke="none" stroke-width="1" opacity="0.75"/>
<circle cx="468.50" cy="308.10" r="2.50" fill="#ababab" stroke="none" stroke-width="1" />
<circle cx="468.12" cy="307.73" r="1.38" fill="#b8b8b8" stroke="none" stroke-width="1" />
<circle cx="454.70" cy="306.60" r="2.70" fill="#484848" stroke="none" stroke-width="1" opacity="0.75"/>
<circle cx="454.70" cy="306.60" r="1.90" fill="#ababab" stroke="none" stroke-width="1" />
<circle cx="454.41" cy="306.31" r="1.04" fill="#b8b8b8" stroke="none" stroke-width="1" />
<circle cx="475.80" cy="312.40" r="3.70" fill="#484848" stroke="none" stroke-width="1" opacity="0.75"/>
<circle cx="475.80" cy="312.40" r="2.90" fill="#ababab" stroke="none" stroke-width="1" />
<circle cx="475.37" cy="311.96" r="1.59" fill="#b8b8b8" stroke="none" stroke-width="1" />
<circle cx="446.00" cy="316.40" r="4.00" fill="#484848" stroke="none" stroke-width="1" opacity="0.75"/>
<circle cx="446.00" cy="316.40" r="3.20" fill="#ababab" stroke="none" stroke-width="1" />
<circle cx="445.52" cy="315.92" r="1.76" fill="#b8b8b8" stroke="none" stroke-width="1" />
<circle cx="502.00" cy="295.30" r="2.70" fill="#484848" stroke="none" stroke-width="1" opacity="0.75"/>
<circle cx="502.00" cy="295.30" r="1.90" fill="#ababab" stroke="none" stroke-width="1" />
<circle cx="501.71" cy="295.01" r="1.04" fill="#b8b8b8" stroke="none" stroke-width="1" />
<circle cx="507.80" cy="296.00" r="3.70" fill="#484848" stroke="none" stroke-width="1" opacity="0.75"/>
<circle cx="507.80" cy="296.00" r="2.90" fill="#ababab" stroke="none" stroke-width="1" />
<circle cx="507.37" cy="295.56" r="1.59" fill="#b8b8b8" stroke="none" stroke-width="1" />
<circle cx="493.30" cy="306.90" r="2.30" fill="#484848" stroke="none" stroke-width="1" opacity="0.75"/>
<circle cx="493.30" cy="306.90" r="1.50" fill="#ababab" stroke="none" stroke-width="1" />
<circle cx="493.07" cy="306.67" r="0.83" fill="#b8b8b8" stroke="none" stroke-width="1" />
<circle cx="502.70" cy="312.70" r="2.30" fill="#484848" stroke="none" stroke-width="1" opacity="0.75"/>
<circle cx="502.70" cy="312.70" r="1.50" fill="#ababab" stroke="none" stroke-width="1" />
<circle cx="502.47" cy="312.47" r="0.83" fill="#b8b8b8" stroke="none" stroke-width="1" />
<circle cx="489.60" cy="318.50" r="2.80" fill="#484848" stroke="none" stroke-width="1" opacity="0.75"/>
<circle cx="489.60" cy="318.50" r="2.00" fill="#ababab" stroke="none" stroke-width="1" />
<circle cx="489.30" cy="318.20" r="1.10" fill="#b8b8b8" stroke="none" stroke-width="1" />
<circle cx="354.90" cy="327.50" r="3.30" fill="#484848" stroke="none" stroke-width="1" opacity="0.75"/>
<circle cx="354.90" cy="327.50" r="2.50" fill="#ababab" stroke="none" stroke-width="1" />
<circle cx="354.52" cy="327.12" r="1.38" fill="#b8b8b8" stroke="none" stroke-width="1" />
<circle cx="364.40" cy="328.20" r="3.70" fill="#484848" stroke="none" stroke-width="1" opacity="0.75"/>
<circle cx="364.40" cy="328.20" r="2.90" fill="#ababab" stroke="none" stroke-width="1" />
<circle cx="363.96" cy="327.76" r="1.59" fill="#b8b8b8" stroke="none" stroke-width="1" />
<circle cx="361.00" cy="331.80" r="3.40" fill="#484848" stroke="none" stroke-width="1" opacity="0.75"/>
<circle cx="361.00" cy="331.80" r="2.60" fill="#ababab" stroke="none" stroke-width="1" />
<circle cx="360.61" cy="331.41" r="1.43" fill="#b8b8b8" stroke="none" stroke-width="1" />
<circle cx="396.40" cy="327.50" r="4.40" fill="#484848" stroke="none" stroke-width="1" opacity="0.75"/>
<circle cx="396.40" cy="327.50" r="3.60" fill="#ababab" stroke="none" stroke-width="1" />
<circle cx="395.86" cy="326.96" r="1.98" fill="#b8b8b8" stroke="none" stroke-width="1" />
<circle cx="407.30" cy="322.40" r="3.30" fill="#484848" stroke="none" stroke-width="1" opacity="0.75"/>
<circle cx="407.30" cy="322.40" r="2.50" fill="#ababab" stroke="none" stroke-width="1" />
<circle cx="406.93" cy="322.02" r="1.38" fill="#b8b8b8" stroke="none" stroke-width="1" />
<circle cx="427.60" cy="319.70" r="3.70" fill="#484848" stroke="none" stroke-width="1" opacity="0.75"/>
<circle cx="427.60" cy="319.70" r="2.90" fill="#ababab" stroke="none" stroke-width="1" />
<circle cx="427.17" cy="319.26" r="1.59" fill="#b8b8b8" stroke="none" stroke-width="1" />
<circle cx="414.50" cy="335.50" r="3.70" fill="#484848" stroke="none" stroke-width="1" opacity="0.75"/>
<circle cx="414.50" cy="335.50" r="2.90" fill="#ababab" stroke="none" stroke-width="1" />
<circle cx="414.06" cy="335.06" r="1.59" fill="#b8b8b8" stroke="none" stroke-width="1" />
<circle cx="418.20" cy="333.30" r="3.00" fill="#484848" stroke="none" stroke-width="1" opacity="0.75"/>
<circle cx="418.20" cy="333.30" r="2.20" fill="#ababab" stroke="none" stroke-width="1" />
<circle cx="417.87" cy="332.97" r="1.21" fill="#b8b8b8" stroke="none" stroke-width="1" />
<circle cx="431.30" cy="337.60" r="3.00" fill="#484848" stroke="none" stroke-width="1" opacity="0.75"/>
<circle cx="431.30" cy="337.60" r="2.20" fill="#ababab" stroke="none" stroke-width="1" />
<circle cx="430.97" cy="337.27" r="1.21" fill="#b8b8b8" stroke="none" stroke-width="1" />
<circle cx="366.30" cy="340.50" r="3.00" fill="#484848" stroke="none" stroke-width="1" opacity="0.75"/>
<circle cx="366.30" cy="340.50" r="2.20" fill="#ababab" stroke="none" stroke-width="1" />
<circle cx="365.97" cy="340.17" r="1.21" fill="#b8b8b8" stroke="none" stroke-width="1" />
<circle cx="370.20" cy="344.20" r="4.70" fill="#484848" stroke="none" stroke-width="1" opacity="0.75"/>
<circle cx="370.20" cy="344.20" r="3.90" fill="#ababab" stroke="none" stroke-width="1" />
<circle cx="369.62" cy="343.62" r="2.15" fill="#b8b8b8" stroke="none" stroke-width="1" />
<circle cx="378.90" cy="343.90" r="3.70" fill="#484848" stroke="none" stroke-width="1" opacity="0.75"/>
<circle cx="378.90" cy="343.90" r="2.90" fill="#ababab" stroke="none" stroke-width="1" />
<circle cx="378.46" cy="343.46" r="1.59" fill="#b8b8b8" stroke="none" stroke-width="1" />
<circle cx="391.30" cy="342.40" r="4.00" fill="#484848" stroke="none" stroke-width="1" opacity="0.75"/>
<circle cx="391.30" cy="342.40" r="3.20" fill="#ababab" stroke="none" stroke-width="1" />
<circle cx="390.82" cy="341.92" r="1.76" fill="#b8b8b8" stroke="none" stroke-width="1" />
<circle cx="394.20" cy="340.50" r="3.30" fill="#484848" stroke="none" stroke-width="1" opacity="0.75"/>
<circle cx="394.20" cy="340.50" r="2.50" fill="#ababab" stroke="none" stroke-width="1" />
<circle cx="393.82" cy="340.12" r="1.38" fill="#b8b8b8" stroke="none" stroke-width="1" />
<circle cx="401.50" cy="346.80" r="3.70" fill="#484848" stroke="none" stroke-width="1" opacity="0.75"/>
<circle cx="401.50" cy="346.80" r="2.90" fill="#ababab" stroke="none" stroke-width="1" />
<circle cx="401.06" cy="346.37" r="1.59" fill="#b8b8b8" stroke="none" stroke-width="1" />
<circle cx="379.60" cy="350.70" r="2.80" fill="#484848" stroke="none" stroke-width="1" opacity="0.75"/>
<circle cx="379.60" cy="350.70" r="2.00" fill="#ababab" stroke="none" stroke-width="1" />
<circle cx="379.30" cy="350.40" r="1.10" fill="#b8b8b8" stroke="none" stroke-width="1" />
<circle cx="415.30" cy="353.60" r="3.70" fill="#484848" stroke="none" stroke-width="1" opacity="0.75"/>
<circle cx="415.30" cy="353.60" r="2.90" fill="#ababab" stroke="none" stroke-width="1" />
<circle cx="414.87" cy="353.17" r="1.59" fill="#b8b8b8" stroke="none" stroke-width="1" />
<circle cx="418.20" cy="359.90" r="3.70" fill="#484848" stroke="none" stroke-width="1" opacity="0.75"/>
<circle cx="418.20" cy="359.90" r="2.90" fill="#ababab" stroke="none" stroke-width="1" />
<circle cx="417.76" cy="359.46" r="1.59" fill="#b8b8b8" stroke="none" stroke-width="1" />
<circle cx="354.90" cy="356.50" r="3.40" fill="#484848" stroke="none" stroke-width="1" opacity="0.75"/>
<circle cx="354.90" cy="356.50" r="2.60" fill="#ababab" stroke="none" stroke-width="1" />
<circle cx="354.51" cy="356.11" r="1.43" fill="#b8b8b8" stroke="none" stroke-width="1" />
<circle cx="387.60" cy="358.70" r="3.70" fill="#484848" stroke="none" stroke-width="1" opacity="0.75"/>
<circle cx="387.60" cy="358.70" r="2.90" fill="#ababab" stroke="none" stroke-width="1" />
<circle cx="387.17" cy="358.26" r="1.59" fill="#b8b8b8" stroke="none" stroke-width="1" />
<circle cx="393.00" cy="356.10" r="3.00" fill="#484848" stroke="none" stroke-width="1" opacity="0.75"/>
<circle cx="393.00" cy="356.10" r="2.20" fill="#ababab" stroke="none" stroke-width="1" />
<circle cx="392.67" cy="355.77" r="1.21" fill="#b8b8b8" stroke="none" stroke-width="1" />
<circle cx="359.60" cy="360.20" r="3.00" fill="#484848" stroke="none" stroke-width="1" opacity="0.75"/>
<circle cx="359.60" cy="360.20" r="2.20" fill="#ababab" stroke="none" stroke-width="1" />
<circle cx="359.27" cy="359.87" r="1.21" fill="#b8b8b8" stroke="none" stroke-width="1" />
<circle cx="370.90" cy="364.80" r="3.70" fill="#484848" stroke="none" stroke-width="1" opacity="0.75"/>
<circle cx="370.90" cy="364.80" r="2.90" fill="#ababab" stroke="none" stroke-width="1" />
<circle cx="370.46" cy="364.37" r="1.59" fill="#b8b8b8" stroke="none" stroke-width="1" />
<circle cx="367.30" cy="367.50" r="3.00" fill="#484848" stroke="none" stroke-width="1" opacity="0.75"/>
<circle cx="367.30" cy="367.50" r="2.20" fill="#ababab" stroke="none" stroke-width="1" />
<circle cx="366.97" cy="367.17" r="1.21" fill="#b8b8b8" stroke="none" stroke-width="1" />
<circle cx="392.70" cy="368.60" r="3.00" fill="#484848" stroke="none" stroke-width="1" opacity="0.75"/>
<circle cx="392.70" cy="368.60" r="2.20" fill="#ababab" stroke="none" stroke-width="1" />
<circle cx="392.37" cy="368.27" r="1.21" fill="#b8b8b8" stroke="none" stroke-width="1" />
<circle cx="400.00" cy="373.00" r="4.80" fill="#484848" stroke="none" stroke-width="1" opacity="0.75"/>
<circle cx="400.00" cy="373.00" r="4.00" fill="#ababab" stroke="none" stroke-width="1" />
<circle cx="399.40" cy="372.40" r="2.20" fill="#b8b8b8" stroke="none" stroke-width="1" />
<circle cx="413.10" cy="371.10" r="4.40" fill="#484848" stroke="none" stroke-width="1" opacity="0.75"/>
<circle cx="413.10" cy="371.10" r="3.60" fill="#ababab" stroke="none" stroke-width="1" />
<circle cx="412.56" cy="370.56" r="1.98" fill="#b8b8b8" stroke="none" stroke-width="1" />
<circle cx="430.50" cy="361.60" r="3.00" fill="#484848" stroke="none" stroke-width="1" opacity="0.75"/>
<circle cx="430.50" cy="361.60" r="2.20" fill="#ababab" stroke="none" stroke-width="1" />
<circle cx="430.17" cy="361.27" r="1.21" fill="#b8b8b8" stroke="none" stroke-width="1" />
<circle cx="356.40" cy="378.80" r="3.30" fill="#484848" stroke="none" stroke-width="1" opacity="0.75"/>
<circle cx="356.40" cy="378.80" r="2.50" fill="#ababab" stroke="none" stroke-width="1" />
<circle cx="356.02" cy="378.43" r="1.38" fill="#b8b8b8" stroke="none" stroke-width="1" />
<circle cx="357.50" cy="385.60" r="3.30" fill="#484848" stroke="none" stroke-width="1" opacity="0.75"/>
<circle cx="357.50" cy="385.60" r="2.50" fill="#ababab" stroke="none" stroke-width="1" />
<circle cx="357.12" cy="385.23" r="1.38" fill="#b8b8b8" stroke="none" stroke-width="1" />
<circle cx="407.00" cy="385.20" r="2.70" fill="#484848" stroke="none" stroke-width="1" opacity="0.75"/>
<circle cx="407.00" cy="385.20" r="1.90" fill="#ababab" stroke="none" stroke-width="1" />
<circle cx="406.71" cy="384.91" r="1.04" fill="#b8b8b8" stroke="none" stroke-width="1" />
<circle cx="385.50" cy="392.20" r="3.30" fill="#484848" stroke="none" stroke-width="1" opacity="0.75"/>
<circle cx="385.50" cy="392.20" r="2.50" fill="#ababab" stroke="none" stroke-width="1" />
<circle cx="385.12" cy="391.82" r="1.38" fill="#b8b8b8" stroke="none" stroke-width="1" />
<circle cx="417.50" cy="394.40" r="3.70" fill="#484848" stroke="none" stroke-width="1" opacity="0.75"/>
<circle cx="417.50" cy="394.40" r="2.90" fill="#ababab" stroke="none" stroke-width="1" />
<circle cx="417.06" cy="393.96" r="1.59" fill="#b8b8b8" stroke="none" stroke-width="1" />
<circle cx="357.80" cy="392.90" r="3.00" fill="#484848" stroke="none" stroke-width="1" opacity="0.75"/>
<circle cx="357.80" cy="392.90" r="2.20" fill="#ababab" stroke="none" stroke-width="1" />
<circle cx="357.47" cy="392.57" r="1.21" fill="#b8b8b8" stroke="none" stroke-width="1" />
<circle cx="363.60" cy="376.20" r="2.50" fill="#484848" stroke="none" stroke-width="1" opacity="0.75"/>
<circle cx="363.60" cy="376.20" r="1.70" fill="#ababab" stroke="none" stroke-width="1" />
<circle cx="363.35" cy="375.94" r="0.94" fill="#b8b8b8" stroke="none" stroke-width="1" />
<circle cx="431.50" cy="319.50" r="3.00" fill="#484848" stroke="none" stroke-width="1" opacity="0.75"/>
<circle cx="431.50" cy="319.50" r="2.20" fill="#ababab" stroke="none" stroke-width="1" />
<circle cx="431.17" cy="319.17" r="1.21" fill="#b8b8b8" stroke="none" stroke-width="1" />
<circle cx="443.80" cy="328.50" r="4.30" fill="#484848" stroke="none" stroke-width="1" opacity="0.75"/>
<circle cx="443.80" cy="328.50" r="3.50" fill="#ababab" stroke="none" stroke-width="1" />
<circle cx="443.28" cy="327.98" r="1.93" fill="#b8b8b8" stroke="none" stroke-width="1" />
<circle cx="432.90" cy="337.60" r="3.70" fill="#484848" stroke="none" stroke-width="1" opacity="0.75"/>
<circle cx="432.90" cy="337.60" r="2.90" fill="#ababab" stroke="none" stroke-width="1" />
<circle cx="432.46" cy="337.17" r="1.59" fill="#b8b8b8" stroke="none" stroke-width="1" />
<circle cx="478.70" cy="327.50" r="3.70" fill="#484848" stroke="none" stroke-width="1" opacity="0.75"/>
<circle cx="478.70" cy="327.50" r="2.90" fill="#ababab" stroke="none" stroke-width="1" />
<circle cx="478.26" cy="327.06" r="1.59" fill="#b8b8b8" stroke="none" stroke-width="1" />
<circle cx="489.30" cy="321.20" r="3.30" fill="#484848" stroke="none" stroke-width="1" opacity="0.75"/>
<circle cx="489.30" cy="321.20" r="2.50" fill="#ababab" stroke="none" stroke-width="1" />
<circle cx="488.93" cy="320.82" r="1.38" fill="#b8b8b8" stroke="none" stroke-width="1" />
<circle cx="496.20" cy="331.80" r="3.70" fill="#484848" stroke="none" stroke-width="1" opacity="0.75"/>
<circle cx="496.20" cy="331.80" r="2.90" fill="#ababab" stroke="none" stroke-width="1" />
<circle cx="495.76" cy="331.37" r="1.59" fill="#b8b8b8" stroke="none" stroke-width="1" />
<circle cx="504.20" cy="328.20" r="2.70" fill="#484848" stroke="none" stroke-width="1" opacity="0.75"/>
<circle cx="504.20" cy="328.20" r="1.90" fill="#ababab" stroke="none" stroke-width="1" />
<circle cx="503.91" cy="327.91" r="1.04" fill="#b8b8b8" stroke="none" stroke-width="1" />
<circle cx="508.50" cy="339.10" r="2.50" fill="#484848" stroke="none" stroke-width="1" opacity="0.75"/>
<circle cx="508.50" cy="339.10" r="1.70" fill="#ababab" stroke="none" stroke-width="1" />
<circle cx="508.25" cy="338.85" r="0.94" fill="#b8b8b8" stroke="none" stroke-width="1" />
<circle cx="485.30" cy="347.80" r="5.40" fill="#484848" stroke="none" stroke-width="1" opacity="0.75"/>
<circle cx="485.30" cy="347.80" r="4.60" fill="#ababab" stroke="none" stroke-width="1" />
<circle cx="484.61" cy="347.11" r="2.53" fill="#b8b8b8" stroke="none" stroke-width="1" />
<circle cx="486.70" cy="344.20" r="3.40" fill="#484848" stroke="none" stroke-width="1" opacity="0.75"/>
<circle cx="486.70" cy="344.20" r="2.60" fill="#ababab" stroke="none" stroke-width="1" />
<circle cx="486.31" cy="343.81" r="1.43" fill="#b8b8b8" stroke="none" stroke-width="1" />
<circle cx="435.80" cy="350.70" r="3.00" fill="#484848" stroke="none" stroke-width="1" opacity="0.75"/>
<circle cx="435.80" cy="350.70" r="2.20" fill="#ababab" stroke="none" stroke-width="1" />
<circle cx="435.47" cy="350.37" r="1.21" fill="#b8b8b8" stroke="none" stroke-width="1" />
<circle cx="440.90" cy="349.30" r="2.70" fill="#484848" stroke="none" stroke-width="1" opacity="0.75"/>
<circle cx="440.90" cy="349.30" r="1.90" fill="#ababab" stroke="none" stroke-width="1" />
<circle cx="440.61" cy="349.01" r="1.04" fill="#b8b8b8" stroke="none" stroke-width="1" />
<circle cx="463.50" cy="355.10" r="3.40" fill="#484848" stroke="none" stroke-width="1" opacity="0.75"/>
<circle cx="463.50" cy="355.10" r="2.60" fill="#ababab" stroke="none" stroke-width="1" />
<circle cx="463.11" cy="354.71" r="1.43" fill="#b8b8b8" stroke="none" stroke-width="1" />
<circle cx="468.50" cy="356.50" r="3.00" fill="#484848" stroke="none" stroke-width="1" opacity="0.75"/>
<circle cx="468.50" cy="356.50" r="2.20" fill="#ababab" stroke="none" stroke-width="1" />
<circle cx="468.17" cy="356.17" r="1.21" fill="#b8b8b8" stroke="none" stroke-width="1" />
<circle cx="432.20" cy="361.60" r="3.40" fill="#484848" stroke="none" stroke-width="1" opacity="0.75"/>
<circle cx="432.20" cy="361.60" r="2.60" fill="#ababab" stroke="none" stroke-width="1" />
<circle cx="431.81" cy="361.21" r="1.43" fill="#b8b8b8" stroke="none" stroke-width="1" />
<circle cx="446.00" cy="358.00" r="2.30" fill="#484848" stroke="none" stroke-width="1" opacity="0.75"/>
<circle cx="446.00" cy="358.00" r="1.50" fill="#ababab" stroke="none" stroke-width="1" />
<circle cx="445.77" cy="357.77" r="0.83" fill="#b8b8b8" stroke="none" stroke-width="1" />
<circle cx="470.70" cy="363.10" r="2.80" fill="#484848" stroke="none" stroke-width="1" opacity="0.75"/>
<circle cx="470.70" cy="363.10" r="2.00" fill="#ababab" stroke="none" stroke-width="1" />
<circle cx="470.40" cy="362.80" r="1.10" fill="#b8b8b8" stroke="none" stroke-width="1" />
<circle cx="480.90" cy="365.30" r="2.50" fill="#484848" stroke="none" stroke-width="1" opacity="0.75"/>
<circle cx="480.90" cy="365.30" r="1.70" fill="#ababab" stroke="none" stroke-width="1" />
<circle cx="480.64" cy="365.05" r="0.94" fill="#b8b8b8" stroke="none" stroke-width="1" />
<circle cx="493.30" cy="362.80" r="3.30" fill="#484848" stroke="none" stroke-width="1" opacity="0.75"/>
<circle cx="493.30" cy="362.80" r="2.50" fill="#ababab" stroke="none" stroke-width="1" />
<circle cx="492.93" cy="362.43" r="1.38" fill="#b8b8b8" stroke="none" stroke-width="1" />
<circle cx="508.50" cy="354.40" r="3.00" fill="#484848" stroke="none" stroke-width="1" opacity="0.75"/>
<circle cx="508.50" cy="354.40" r="2.20" fill="#ababab" stroke="none" stroke-width="1" />
<circle cx="508.17" cy="354.07" r="1.21" fill="#b8b8b8" stroke="none" stroke-width="1" />
<circle cx="484.50" cy="370.10" r="4.40" fill="#484848" stroke="none" stroke-width="1" opacity="0.75"/>
<circle cx="484.50" cy="370.10" r="3.60" fill="#ababab" stroke="none" stroke-width="1" />
<circle cx="483.96" cy="369.56" r="1.98" fill="#b8b8b8" stroke="none" stroke-width="1" />
<circle cx="440.20" cy="372.50" r="3.70" fill="#484848" stroke="none" stroke-width="1" opacity="0.75"/>
<circle cx="440.20" cy="372.50" r="2.90" fill="#ababab" stroke="none" stroke-width="1" />
<circle cx="439.76" cy="372.06" r="1.59" fill="#b8b8b8" stroke="none" stroke-width="1" />
<circle cx="460.50" cy="375.50" r="3.30" fill="#484848" stroke="none" stroke-width="1" opacity="0.75"/>
<circle cx="460.50" cy="375.50" r="2.50" fill="#ababab" stroke="none" stroke-width="1" />
<circle cx="460.12" cy="375.12" r="1.38" fill="#b8b8b8" stroke="none" stroke-width="1" />
<circle cx="469.30" cy="375.50" r="4.40" fill="#484848" stroke="none" stroke-width="1" opacity="0.75"/>
<circle cx="469.30" cy="375.50" r="3.60" fill="#ababab" stroke="none" stroke-width="1" />
<circle cx="468.76" cy="374.96" r="1.98" fill="#b8b8b8" stroke="none" stroke-width="1" />
<circle cx="499.80" cy="374.70" r="4.00" fill="#484848" stroke="none" stroke-width="1" opacity="0.75"/>
<circle cx="499.80" cy="374.70" r="3.20" fill="#ababab" stroke="none" stroke-width="1" />
<circle cx="499.32" cy="374.22" r="1.76" fill="#b8b8b8" stroke="none" stroke-width="1" />
<circle cx="483.10" cy="379.10" r="3.40" fill="#484848" stroke="none" stroke-width="1" opacity="0.75"/>
<circle cx="483.10" cy="379.10" r="2.60" fill="#ababab" stroke="none" stroke-width="1" />
<circle cx="482.71" cy="378.71" r="1.43" fill="#b8b8b8" stroke="none" stroke-width="1" />
<circle cx="450.40" cy="386.10" r="3.70" fill="#484848" stroke="none" stroke-width="1" opacity="0.75"/>
<circle cx="450.40" cy="386.10" r="2.90" fill="#ababab" stroke="none" stroke-width="1" />
<circle cx="449.96" cy="385.67" r="1.59" fill="#b8b8b8" stroke="none" stroke-width="1" />
<circle cx="460.50" cy="389.30" r="2.50" fill="#484848" stroke="none" stroke-width="1" opacity="0.75"/>
<circle cx="460.50" cy="389.30" r="1.70" fill="#ababab" stroke="none" stroke-width="1" />
<circle cx="460.25" cy="389.05" r="0.94" fill="#b8b8b8" stroke="none" stroke-width="1" />
<circle cx="486.70" cy="388.10" r="3.70" fill="#484848" stroke="none" stroke-width="1" opacity="0.75"/>
<circle cx="486.70" cy="388.10" r="2.90" fill="#ababab" stroke="none" stroke-width="1" />
<circle cx="486.26" cy="387.67" r="1.59" fill="#b8b8b8" stroke="none" stroke-width="1" />
<circle cx="435.80" cy="392.20" r="3.70" fill="#484848" stroke="none" stroke-width="1" opacity="0.75"/>
<circle cx="435.80" cy="392.20" r="2.90" fill="#ababab" stroke="none" stroke-width="1" />
<circle cx="435.37" cy="391.76" r="1.59" fill="#b8b8b8" stroke="none" stroke-width="1" />
<circle cx="499.80" cy="395.10" r="3.40" fill="#484848" stroke="none" stroke-width="1" opacity="0.75"/>
<circle cx="499.80" cy="395.10" r="2.60" fill="#ababab" stroke="none" stroke-width="1" />
<circle cx="499.41" cy="394.71" r="1.43" fill="#b8b8b8" stroke="none" stroke-width="1" />
<circle cx="459.80" cy="328.50" r="3.70" fill="#484848" stroke="none" stroke-width="1" opacity="0.75"/>
<circle cx="459.80" cy="328.50" r="2.90" fill="#ababab" stroke="none" stroke-width="1" />
<circle cx="459.37" cy="328.06" r="1.59" fill="#b8b8b8" stroke="none" stroke-width="1" />
</g>
<g clip-path="url(#insclip)">
<rect x="458.4" y="240" width="51.6" height="51.2" fill="#000" filter="url(#noise2)"/>
<ellipse cx="483.1" cy="265.5" rx="11.6" ry="11.0" fill="#3e3e3e" opacity="0.8" filter="url(#soft)"/>
<ellipse cx="483.1" cy="265.5" rx="10.6" ry="10.0" fill="#a8a8a8" filter="url(#soft)"/>
<ellipse cx="482.5" cy="264.5" rx="7" ry="6.5" fill="#b4b4b4" filter="url(#soft)"/>
<ellipse cx="483.1" cy="265.5" rx="10.6" ry="10.0" fill="#000" filter="url(#noise2)" opacity="0.25"/>
<rect x="472.50" y="264.80" width="22.00" height="6.20" fill="#c9a6ad" stroke="none" stroke-width="0" opacity="0.55"/>
<line x1="472.50" y1="267.90" x2="494.50" y2="267.90" stroke="#a05a6a" stroke-width="0.6" stroke-dasharray="1,0.8"/>
<rect x="472.20" y="280.40" width="32.00" height="7.60" fill="#7e3844" stroke="none" stroke-width="1" />
<text x="488.20" y="287.00" font-size="8.2" font-weight="normal" fill="#f6e8ec" text-anchor="middle" font-family='"Liberation Sans", sans-serif' >23.1 nm</text>
</g>
<line x1="458.40" y1="240.00" x2="458.40" y2="291.20" stroke="#e8e8e8" stroke-width="0.9" />
<line x1="458.40" y1="291.20" x2="510.00" y2="291.20" stroke="#e8e8e8" stroke-width="0.9" />
<rect x="451.60" y="320.60" width="17.20" height="16.60" fill="none" stroke="#e4e4e4" stroke-width="0.8" />
<text x="362.00" y="384.60" font-size="5.8" font-weight="bold" fill="#f4f4f4" text-anchor="start" font-family='"Liberation Mono", monospace' letter-spacing="0.75">100 nm</text>
<line x1="362.30" y1="387.20" x2="390.00" y2="387.20" stroke="#f2f2f2" stroke-width="1.0" />
</g>
<text x="275.5" y="205.0" font-size="12.6" fill="#111" text-anchor="middle" font-family='"Liberation Serif", serif'>(<tspan font-weight="bold">a</tspan>)</text>
<text x="126.6" y="441.2" font-size="12.6" fill="#111" text-anchor="middle" font-family='"Liberation Serif", serif'>(<tspan font-weight="bold">b</tspan>)</text>
<text x="431.2" y="440.8" font-size="12.6" fill="#111" text-anchor="middle" font-family='"Liberation Serif", serif'>(<tspan font-weight="bold">c</tspan>)</text>
<text x="126.4" y="645.5" font-size="12.6" fill="#111" text-anchor="middle" font-family='"Liberation Serif", serif'>(<tspan font-weight="bold">d</tspan>)</text>
<text x="431.0" y="645.3" font-size="12.6" fill="#111" text-anchor="middle" font-family='"Liberation Serif", serif'>(<tspan font-weight="bold">e</tspan>)</text>
</svg>
</body></html>
